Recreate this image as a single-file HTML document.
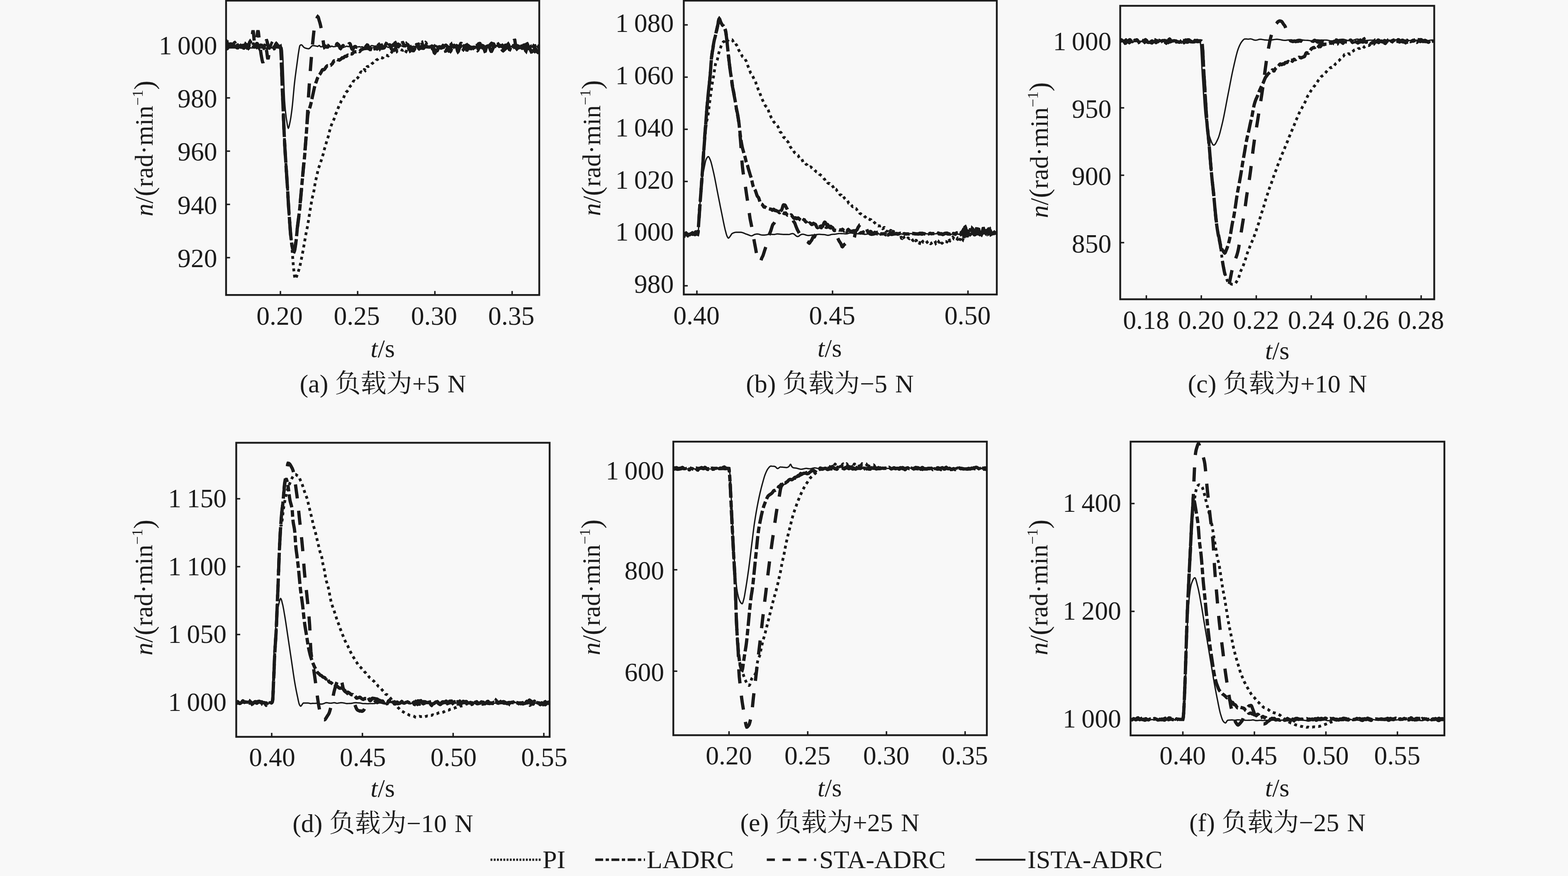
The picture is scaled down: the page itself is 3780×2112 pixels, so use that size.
<!DOCTYPE html><html><head><meta charset="utf-8"><title>fig</title><style>html,body{margin:0;padding:0;background:#f8f8f8;}svg{display:block;filter:blur(0.55px)}</style></head><body><svg width="3780" height="2112" viewBox="0 0 3780 2112" font-family='"Liberation Serif", serif' fill="#1b1b1b">
<rect width="3780" height="2112" fill="#f8f8f8"/>
<defs>
<clipPath id="cla"><rect x="545" y="1.5" width="755" height="709.7"/></clipPath>
<clipPath id="clb"><rect x="1648.4" y="1.5" width="754.5999999999999" height="708.5"/></clipPath>
<clipPath id="clc"><rect x="2700.5" y="14" width="757.0" height="707.5"/></clipPath>
<clipPath id="cld"><rect x="569.5" y="1067.5" width="755.5" height="709.0"/></clipPath>
<clipPath id="cle"><rect x="1623.2" y="1064.8" width="755.8" height="707.7"/></clipPath>
<clipPath id="clf"><rect x="2725.5" y="1064.8" width="756.5" height="708.2"/></clipPath>
<path id="caPI" d="M545,98.8l1-0.3 1,1.7 1,0.9 1-0.2 1-0.1 1,0.4 1,0.9 1,2.1 1,2.8 1,1.6 1-0.7 1-1.5 1,0 1,2 1,2.7 1,1.7 1,0 1-1.2 1-0.8 1,0.3 1,0.2 1-1.4 1-3 1-2.8 1-1.2 1,1.1 1,2.9 1,3.2 1,3 1,2.4 1,1.2 1-0.3 1-1.4 1-2.1 1-1.7 1-1.2 1-1 1-0.7 1,0.5 1,1.2 1,0.8 1-0.1 1-0.4 1-0.3 1,0.1 1,0.5 1,0.1 1-0.5 1-0.8 1,0.1 1,1.6 1,2.5 1,2.4 1,1.2 1-1 1-2.1 1-1.5 1-0.9 1-1 1-0.7 1-0.2 1,0 1-0.5 1-1.5 1-1.8 1-0.3 1,2.3 1,4 1,2.9 1-0.4 1-2.3 1-0.5 1,1.8 1,1.3 1-0.9 1-2 1-1.5 1-0.9 1-0.4 1,0.3 1,0.6 1,0.1 1-1.1 1-1.5 1-0.4 1,1.1 1,1.4 1,0.8 1,1.4 1,2.7 1,2.5 1-0.2 1-2.8 1-3 1-0.9 1,0.7 1,0.1 1-1.2 1-1.2 1-0.5 1-0.3 1,0 1,0.4 1,0.7 1,1 1,0.9 1,0 1-1.9 1-3.1 1-2.1 1,0.5 1,3 1,3.5 1,3.2 1,2.7 1,1.5 1-0.4 1-2.6 1-3.7 1-3.7 1-2.4 1,0 1,1.2 1,1.7 1,1.2 1,0 1-0.4 1,0 1,0.7 1,1.1 1,0.7 1,8.2 1,20.9 1,29 1,31.5 1,27.7 1,23.9 1,23.6 1,22.9 1,22 1,20.2 1,18.1 1,16.3 1,14.8 1,14 1,14.1 1,14.9 1,16.2 1,17.9 1,18.6 1,18.1 1,16 1,13.4 1,12 1,11.2 1,10.7 1,10.8 1,11 1,11.6 1,12.3 1,12.7 1,12.2 1,10.1 1,9.1 1,8.3 1,5.7 1,1.2 1-0.9 1-2.3 1-2.9 1-2.4 1-2.3 1-3 1-3.5 1-3.4 1-3.2 1-3.3 1-3.8 1-4.5 1-5 1-5 1-4.8 1-4.8 1-5.1 1-5.3 1-5.6 1-5.6 1-5.7 1-5.8 1-5.7 1-5.8 1-5.8 1-5.6 1-5 1-4.6 1-4.7 1-5.5 1-6.2 1-6.3 1-6.3 1-6.4 1-6.3 1-6.2 1-5.8 1-5.7 1-5.8 1-5.5 1-5 1-4 1-3.7 1-4.4 1-5.5 1-6.3 1-6.4 1-5.8 1-4.8 1-4.2 1-4.1 1-4.4 1-4.7 1-4.7 1-4.3 1-3.5 1-2.8 1-2.5 1-2.5 1-3 1-3.4 1-3.3 1-3.2 1-3.2 1-3.3 1-3.1 1-3 1-3.6 1-4.4 1-4.2 1-3.5 1-3.1 1-3.3 1-3.7 1-3.7 1-3.6 1-3.1 1-2.7 1-2.9 1-3.6 1-4.2 1-4.3 1-4.2 1-3.9 1-3.5 1-2.7 1-2.5 1-2.7 1-2.7 1-2.4 1-1.8 1-2 1-2.2 1-2.7 1-3.1 1-3.2 1-2.8 1-2.3 1-1.9 1-2.3 1-2.7 1-2.8 1-2.7 1-2.6 1-2.5 1-2.2 1-1.9 1-1.9 1-2.3 1-2.7 1-2.3 1-1.9 1-1.4 1-0.9 1-0.7 1-1.3 1-2.5 1-2.9 1-2.8 1-2.7 1-2.1 1-1.3 1-0.6 1-0.5 1-0.9 1-1.2 1-1.4 1-1.7 1-2.4 1-2.4 1-1.6 1-1.1 1-1.1 1-1.3 1-1 1-0.6 1-1.2 1-2.4 1-2.9 1-2 1-0.7 1,0 1,0.3 1,0.5 1-0.9 1-1.9 1-2 1-1.5 1-0.9 1-0.8 1-1.2 1-1.4 1-1.5 1-2 1-2.3 1-2.5 1-2.2 1-1.5 1-0.4 1,0.7 1,0.7 1,0 1-0.9 1-1.9 1-2.4 1-1.6 1,0.2 1,1.5 1,1.1 1-0.9 1-3 1-3.5 1-2.3 1-0.4 1,0.3 1-0.1 1-0.8 1-0.5 1,0.1 1,0.1 1-0.9 1-1.7 1-1.7 1-1.1 1-0.8 1-0.6 1-0.7 1-1 1-0.9 1-0.3 1,0.1 1-0.3 1-1 1-1.6 1-1.7 1-1 1-0.3 1-0.4 1-1 1-1.1 1-0.5 1-0.3 1-0.5 1-0.9 1-0.6 1,0 1,0.2 1,0.4 1,0.5 1,0.2 1-0.5 1-1.2 1-1.4 1-1.2 1-0.9 1-0.9 1-0.6 1-0.2 1,0.2 1,0.1 1,0.1 1,0.5 1,0.7 1,0.3 1-0.7 1-1.5 1-1.7 1-1.2 1-0.5 1-0.6 1-1.2 1-1.4 1-1.1 1-0.7 1-0.5 1-0.4 1,0 1,0.2 1,0.4 1,0.8 1,1 1,0.6 1-0.4 1-1 1-1.4 1-1.2 1-0.5 1,0.2 1,0.4 1-0.4 1-1.1 1-1.3 1-0.4 1,0.3 1,0.5 1,0.2 1,0.3 1,0.5 1,0.3 1-0.4 1-0.7 1-1.2 1-0.7 1,0.9 1,2.1 1,2.3 1,0.7 1-1.9 1-3.5 1-3.5 1-1.8 1,0.9 1,3.3 1,3 1-0.2 1-3.3 1-3.6 1-0.9 1,2.1 1,2.4 1,0.7 1-0.7 1-1 1,0.1 1,1.3 1,1 1-0.7 1-2 1-2.2 1-1.3 1,0 1,0.3 1-0.5 1-1.8 1-2.6 1-2 1-0.3 1,1.2 1,1.5 1,1.3 1,0.8 1,0.1 1-0.2 1,0.3 1,0.9 1,0.6 1-0.7 1-1.2 1-0.1 1,0.7 1-0.7 1-3 1-3.5 1-1.7 1,0.6 1,2.4 1,2.6 1,2 1,1.7 1,1.6 1,1.3 1,0.3 1-0.7 1-1.1 1-0.7 1,0.1 1,0 1-0.3 1-0.4 1-0.8 1-1.3 1-1.4 1-0.4 1,0.9 1,1.7 1,1.1 1-0.7 1-2.2 1-1.3 1,0.9 1,2.5 1,2.6 1,1.1 1-0.7 1-2 1-2.2 1-0.8 1,1.4 1,2.9 1,2.4 1,0.5 1-1.8 1-2.7 1-2.1 1-0.6 1,1.1 1,3 1,3.9 1,2.5 1,0.1 1-1.4 1-1.2 1-0.4 1,0.2 1,0.1 1-0.7 1-1.6 1-1.3 1,0.1 1,1 1,0.5 1-0.9 1-2.4 1-2.6 1-1.5 1-0.8 1-1.2 1-1.1 1-0.1 1,1.4 1,2.5 1,3.3 1,3.7 1,2.9 1,0.8 1-1.4 1-3 1-2.9 1-1.5 1,0.4 1,1.5 1,1.6 1,0.7 1-0.3 1-0.1 1,1.1 1,0.9 1-1.1 1-2.5 1-2.7 1-1.7 1-0.9 1-0.9 1-0.3 1,2 1,4.5 1,4.1 1,1.4 1-0.6 1-0.7 1,0.1 1,0.5 1-0.6 1-2.3 1-3.4 1-2.9 1,0.2 1,4 1,4.5 1,2.2 1,0.1 1-0.4 1-0.4 1-0.4 1-0.5 1,0.4 1,1.2 1-0.2 1-2.8 1-3.2 1-0.7 1,1.2 1,0.4 1-1.4 1-1.7 1-0.4 1,1 1,1.2 1,0.5 1,0.2 1,0.2 1-0.3 1-0.6 1,0 1,1.1 1,1.2 1,0.2 1-0.6 1-0.5 1-0.1 1-0.3 1-0.2 1,0.4 1,2 1,2.6 1,1.3 1-0.8 1-2.7 1-4.2 1-4.4 1-1.8 1,2.8 1,5.9 1,4.8 1,0.7 1-3.8 1-6 1-4.6 1-0.2 1,2.9 1,2.7 1,1.2 1,0.8 1,1 1,0.4 1-1.5 1-2.4 1-1.1 1,0.9 1,1.4 1,0.9 1,0.6 1,0.2 1-0.6 1-1.6 1-1.8 1-1.3 1-0.3 1,1.1 1,2 1,2 1,1.4 1,0.8 1,0.4 1,1 1,1.6 1,0.1 1-2.3 1-2.8 1-1.3 1,1 1,2.4 1,2.3 1,0.7 1-0.4 1-0.4 1,0.3 1,0.5 1,0.2 1,0.6 1,1.4 1,1.3 1,0.2 1-1 1-1.8 1-2.7 1-2.8 1-1.8 1-0.7 1,0.2 1,0.2 1-0.4 1-0.6 1,0.3 1,1.2 1,1.4 1,1.3 1,1.7 1,2.2 1,1.6 1,0.3 1-1.7 1-2.8 1-1.7 1,0.9 1,1.9 1,1.4 1,0.7 1,0.4 1-0.3 1-0.9 1-1.2 1-1 1-0.2 1,1 1,0.6 1-1.5 1-2.7 1-1.8 1-0.7 1-0.6 1-0.7 1-0.1 1,0.3 1,0.1 1-0.1 1,0.5 1,1.5 1,1.2 1-0.2 1-1.3 1-0.3 1,1.4 1,1.9 1,0.8 1-0.7 1-1.4 1-1.1 1-0.6 1,0.3 1,0.9 1,1 1,1.3 1,0.8 1-0.6 1-2.2 1-2.1 1-0.2 1,1.8 1,2 1,0.4 1-1 1-1.3 1-0.2 1,0.7 1,0.2 1-1.8 1-3.6"/>
<path id="caLADRC" d="M545,116.4l1,0.1 1,1 1-0.4 1-2 1-2 1-0.5 1,0.4 1,0.2 1-0.1 1-0.2 1-0.5 1-0.4 1,0.1 1,0.1 1-0.8 1-1.7 1-2.1 1-1.9 1-1.4 1-1.1 1-0.6 1,1.1 1,3.4 1,4.2 1,2.8 1,1 1,0.4 1-0.1 1-2 1-3.5 1-2.8 1-1.1 1-0.2 1-0.6 1-0.3 1,0.8 1,1.6 1,1.8 1,2.2 1,2.1 1,1.6 1,0.9 1,0.1 1-0.9 1-2.8 1-3.6 1-2.2 1,1 1,3.1 1,3.2 1,1.7 1-0.4 1-2 1-2.7 1-3 1-3.2 1-3 1-1.5 1,1.4 1,2.8 1,1.7 1,0.1 1,0.1 1,1.5 1,2.4 1,1.9 1,1.2 1,0.5 1-0.5 1-1.3 1-1.9 1-2 1-1.6 1-1.1 1,0.1 1,1.5 1,2.4 1,2.5 1,2.5 1,2.4 1,1.6 1-0.4 1-2.4 1-3 1-2.2 1-0.6 1,0.8 1,1 1,0.5 1,0.4 1,0.1 1-0.5 1-1.3 1-2.3 1-3.5 1-3.8 1-2.6 1-0.2 1,2.7 1,4.5 1,4.6 1,3.8 1,2.3 1,0.1 1-2.1 1-2.3 1-0.8 1,0.8 1,1 1-0.1 1-1 1-0.6 1,0.1 1,0.7 1,1.2 1,1.5 1,0.5 1-1.4 1-2.1 1-0.9 1,0.8 1,1 1,0.4 1-0.3 1-0.7 1-0.3 1-0.6 1-0.9 1-0.8 1,0 1,0.9 1,9.4 1,21.6 1,28.1 1,29.6 1,26.2 1,23.7 1,24.8 1,24.7 1,23 1,20.2 1,17.6 1,16.3 1,15.9 1,15.9 1,15.5 1,15.1 1,15 1,16.4 1,17.3 1,16.5 1,14.3 1,13.1 1,13.4 1,13.1 1,11.9 1,10 1,7.6 1,6.4 1,5.7 1,4.2 1,2.9 1,1.5 1,0.2 1-2.2 1-4.7 1-6.1 1-6.8 1-8.1 1-10 1-11 1-10 1-9 1-8.1 1-7.4 1-7.4 1-8.1 1-9 1-10.4 1-11.5 1-12.1 1-11.7 1-11.3 1-11 1-10.5 1-10.2 1-10.1 1-10 1-10.4 1-11.3 1-12.8 1-14 1-13.9 1-12.9 1-13.5 1-13.7 1-10.2 1-6.1 1-4.3 1-2.9 1-2.5 1-2.9 1-3.2 1-3.8 1-4.1 1-4.4 1-4.8 1-4.9 1-4.5 1-4.3 1-4.7 1-4.7 1-4.3 1-4 1-3.5 1-3 1-2.7 1-2.7 1-3 1-2.8 1-2.4 1-2 1-1.9 1-1.7 1-1.3 1-1.2 1-1.3 1-1.6 1-1.8 1-1.9 1-2.1 1-1.7 1-0.7 1,0.1 1,0.3 1-0.3 1-0.8 1-1.1 1-1.4 1-1.6 1-1.6 1-1.2 1-1 1-0.7 1-0.1 1,0 1-0.7 1-1 1-0.5 1,0.6 1,0.7 1-0.1 1-0.9 1-1.1 1-0.9 1-0.9 1-1.4 1-1.9 1-2.1 1-1.4 1-0.3 1,0.1 1-0.4 1-1.3 1-1.2 1-0.5 1,0.1 1,0.5 1,0.1 1,0 1,0.2 1,0.5 1,0.2 1-0.6 1-0.7 1-0.7 1-0.6 1-1 1-1.2 1-0.8 1,0 1,0.3 1-0.2 1-1 1-1.2 1-0.9 1-0.6 1-0.2 1,0.2 1,0.1 1-0.6 1-1.2 1-1 1-0.1 1,0.3 1,0 1-0.8 1-1.3 1-1 1-0.4 1,0.1 1,0.2 1,0.1 1-0.2 1-0.9 1-1.4 1-1.1 1-0.4 1-0.4 1-0.5 1-0.4 1-0.1 1,0.2 1,0.1 1-0.2 1-0.5 1-0.4 1-0.4 1-0.1 1,0.3 1,0.6 1,0.1 1-1 1-1.7 1-1.3 1-0.6 1-0.2 1-0.4 1-0.6 1-0.5 1-0.3 1-0.2 1-0.5 1-0.2 1-0.1 1,0.1 1,0.1 1-0.1 1-0.4 1-0.7 1-0.2 1,0.7 1,1 1,0 1-0.9 1-0.8 1,0.2 1,0.5 1,0.5 1,0 1-0.3 1,0.2 1,0.7 1,0.4 1-0.4 1-0.3 1,0.4 1,0.3 1-0.9 1-1.9 1-0.9 1,1 1,1.9 1,0.9 1-0.7 1-2 1-2.8 1-2.9 1-1.6 1,0.5 1,1.6 1,1.9 1,1.4 1,0.6 1,0.1 1,0.6 1,1 1,0.6 1-0.1 1-0.3 1-0.4 1-1.2 1-2.1 1-2.8 1-2.7 1-1.6 1,0.5 1,2.6 1,2.7 1,1.1 1-0.7 1-1.3 1-1.2 1-0.7 1,0.2 1,1.7 1,3.2 1,3.5 1,1.3 1-2.3 1-3.9 1-3 1-1.1 1,0.1 1-0.1 1-1.6 1-2.2 1-0.6 1,2 1,3.2 1,2 1-0.5 1-1.7 1-1.3 1-0.4 1,0.6 1,1.1 1,0.5 1-0.2 1,0.2 1,0.6 1,0.3 1-1.3 1-2.9 1-2.5 1-0.2 1,1.8 1,2.2 1,1.4 1,0.6 1,0.4 1,0.5 1,0.8 1,1 1,1 1,1 1,0.5 1-0.2 1-0.2 1,0.6 1,1.8 1,2.3 1,1.9 1,1.1 1,0.3 1-0.8 1-2.5 1-2.1 1,0.9 1,3.1 1,2.1 1,0 1-1.2 1-1.7 1-2.1 1-1.5 1-0.2 1,0.7 1,0.2 1-1.1 1-2.2 1-1.5 1,0.8 1,2.2 1,1.8 1,0.6 1-0.6 1-1.9 1-3.8 1-4.4 1-3.5 1-0.5 1,3.6 1,5.5 1,3.6 1,0.6 1-0.5 1-0.5 1-1.2 1-2 1-1.4 1,0.3 1,1.5 1,1.3 1,0.2 1-0.8 1-1.4 1-1.1 1,0 1,1 1,0.9 1-0.3 1-0.9 1,0.1 1,1.8 1,2.6 1,1.7 1-0.2 1-0.5 1,0.8 1,2 1,1.5 1,0.2 1-1 1-0.7 1,0.6 1,1.8 1,1.3 1-0.3 1-1.8 1-2.4 1-2.2 1-1.9 1-1.3 1,0 1,1.3 1,1.3 1,0.6 1-0.2 1-1 1-1.9 1-2.1 1-1.1 1,0.5 1,1.3 1,1.8 1,3.1 1,4.1 1,2.6 1-0.3 1-1.9 1-1.4 1-0.5 1-1.2 1-3 1-3.7 1-2 1,1 1,2.2 1,1.4 1,0.4 1,0.1 1-0.3 1-1.1 1-1.1 1-0.1 1,0.3 1-0.6 1-1.4 1-0.5 1,0.8 1,1.4 1,0.7 1-0.1 1,0 1,0.4 1,0.1 1-0.2 1-0.3 1-0.5 1-0.5 1-0.2 1,0.2 1,0.8 1,1.3 1,1.2 1,0.1 1-0.4 1,0.6 1,1.8 1,2 1,1 1-1.3 1-4.1 1-5.8 1-4.4 1-1.3 1,1.2 1,2 1,1.9 1,1 1,0.1 1,0.3 1,0.9 1,0.9 1,0.8 1,1.5 1,1.8 1,1.4 1,0.8 1,0.1 1-1 1-1.4 1-0.8 1-0.1 1,0.3 1,0.5 1,0.3 1-0.2 1-0.5 1,0.2 1,1.4 1,1.9 1,1.8 1,1.5 1,0.8 1-0.8 1-2.8 1-3.1 1-1.7 1,0 1,0.5 1,1 1,1.4 1,0.8 1-1.1 1-2.4 1-2.4 1-1.2 1,0.5 1,2.3 1,3.7 1,4.2 1,2.7 1-0.4 1-3.5 1-4 1-2.3 1-0.3 1,0.2 1,0.3 1,1.1 1,1.2 1-0.7 1-3.2 1-3.3 1-1.5 1-0.7 1-1.3 1-0.9 1,0.4 1,0.8 1,0.1 1-0.2 1,0.3 1,0.4 1,0 1-0.1 1,0.2 1-0.1 1-0.5 1,0.2 1,1.1 1,0.6 1-0.8 1-0.7 1,1.3 1,2.5 1,1.8 1-0.2 1-1.1 1-0.5 1,0.5 1,0.3 1-0.8 1-0.7 1,1 1,2.1 1,1.1 1-0.7 1-1.5 1-1.2 1-0.9 1-0.1 1,0.8 1,1 1,0.2 1-1 1-1 1,0.7 1,3 1,3.9 1,2.8 1,0.4 1-2.1 1-3.5 1-3.4 1-1.5 1,0.3 1,1.3 1,0.9 1-0.2 1-1 1-0.8 1,0.5 1,1.5 1,1.4 1,1 1,1.1 1,1.6 1,1.2 1-1 1-2.7 1-2.1 1,0.7 1,3.1 1,3.2 1,0.7 1-2.1 1-3 1-2.4 1-1.4 1-0.2 1,1.2 1,2.2 1,1.8 1,0.2 1-1.2 1-2.2 1-2.8 1-2.2 1-0.4 1,0.6 1-0.5 1-1.5 1-0.4 1,2 1,3.7 1,3.7 1,2.2 1,0.4 1-0.4 1,0.7 1,2.4 1,3 1,1.9 1-0.3 1-3 1-5 1-4.4 1-1.4 1,1.4 1,2.2 1,1.8 1,1.8 1,2 1,1 1-0.4 1-1 1-0.9 1-1 1-0.9 1,0.2 1,1.1 1,0.1"/>
<path id="caSTA" d="M545,110.2l1,0.4 1-1.7 1-2.6 1-1.6 1,0.8 1,2.6 1,2.5 1,0.5 1-1.7 1-2.3 1-1.2 1-0.1 1,0.3 1,0.7 1,1.3 1,1.8 1,2.1 1,2.5 1,2.3 1,1.5 1,0 1-1.6 1-3 1-3.1 1-2.2 1-1.4 1-0.4 1,0.2 1,0 1-0.5 1-0.5 1,0.2 1,1.4 1,2.5 1,2.4 1,0.8 1-1 1-1.5 1-0.8 1,0 1,0 1-0.3 1-0.4 1,0.1 1,0.7 1,0.4 1-0.3 1-0.6 1-0.6 1-0.4 1-0.4 1,0.3 1,0.7 1,0.3 1,0.6 1,0.8 1,0.5 1,0.3 1,0.2 1-2 1-4.8 1-5.7 1-9.2 1-11.4 1-5.4 1,5.3 1,11.1 1,11.7 1,6.4 1,0.5 1-1.9 1-3.2 1-3.1 1-5.8 1-9 1-8.3 1-3.5 1,4.3 1,9.2 1,10.2 1,8.6 1,7.3 1,8 1,7.5 1,6.1 1,5.3 1,5.2 1,4.3 1,1.9 1-3.7 1-8.5 1-8.6 1-4.9 1-1.9 1-1.8 1-1.5 1-0.3 1,4 1,7.9 1,7.4 1,3.2 1-3.3 1-7.6 1-8.1 1-4.9 1-1.9 1-2 1-2.3 1-1.8 1-0.8 1-0.3 1-0.5 1-1 1-0.1 1,1.6 1,2 1,0.1 1-1.5 1-2.2 1-2 1-1.1 1,1 1,1.6 1,1.4 1,1 1,0.5 1,1.1 1,1.5 1,1.4 1,0.3 1-1.1 1,6.2 1,19 1,27.1 1,29.9 1,27 1,24.6 1,25.6 1,25 1,23.4 1,20.7 1,18.2 1,16.5 1,15.3 1,14.6 1,14.5 1,14.9 1,15.8 1,17.3 1,17.6 1,16.5 1,14.2 1,13.4 1,14.1 1,13.9 1,12.7 1,10 1,6.4 1,4.2 1,3.8 1,4.1 1,3.7 1,2.6 1,0.4 1-2.6 1-5.7 1-7.4 1-8.3 1-9 1-9.5 1-8.9 1-7.6 1-6.9 1-7.2 1-7.9 1-8.9 1-10 1-10.4 1-10.8 1-10.8 1-10.4 1-10.1 1-10.5 1-11.4 1-11.9 1-12.1 1-11.6 1-11 1-10.5 1-10.7 1-11.7 1-12 1-12 1-12.7 1-16 1-19 1-18.9 1-17.5 1-16.7 1-15.3 1-14 1-13.7 1-13.6 1-12.9 1-12.4 1-11.9 1-11.8 1-11.2 1-10.1 1-9.6 1-9.9 1-8.9 1-7.3 1-5.8 1-4.5 1-3.3 1-2.7 1-2.4 1-2.8 1-2.7 1-1.3 1,1 1,2.9 1,3.8 1,3.4 1,3.2 1,3.6 1,4.4 1,5 1,6 1,6.7 1,6.5 1,5.6 1,6 1,7.2 1,6.2 1,2.4 1-0.8 1-1.2 1-0.5 1,0.9 1,0.9 1,0.1 1,0 1,0 1-1 1-2 1-2.4 1-1.4 1,0.3 1,1.9 1,2.5 1,2 1,0.1 1-0.9 1,0.6 1,2.6 1,2.6 1,0.5 1-1.5 1-2 1-0.9 1,0 1-0.7 1-2.2 1-3.2 1-2.5 1-0.6 1,0.7 1,0.9 1,0.9 1,1.2 1,2.4 1,3 1,2.3 1,0.6 1-1.1 1-1.9 1-1.5 1-1 1-1.2 1-0.6 1,0.7 1,1.4 1-0.1 1-1.6 1-0.3 1,2.6 1,4.2 1,3.3 1,0.5 1-2.5 1-3.8 1-3.5 1-2.8 1-1.9 1-0.9 1-0.2 1,0.8 1,2.3 1,3.5 1,3.2 1,2.4 1,1.4 1,0.4 1-0.5 1-1.6 1-2.3 1-1.6 1-0.7 1-0.3 1,0.2 1,0.8 1,0.8 1,0.2 1-0.3 1-0.2 1,0.5 1,1.4 1,1.3 1-0.1 1-1.6 1-2.2 1-1.7 1-0.9 1-0.1 1,0.9 1,1.7 1,1.7 1,1 1,1.1 1,2.1 1,1.9 1-0.6 1-3 1-3.2 1-1.9 1-1.1 1-1.3 1-1 1,0.2 1,1.3 1,2.1 1,2.5 1,2.1 1,1.6 1,1.3 1,0 1-2.5 1-4.5 1-3.3 1-0.4 1,1.3 1,1.1 1,0.9 1,1.6 1,1.2 1-0.7 1-1.5 1-0.1 1,2.2 1,2.5 1,0.5 1-1.5 1-2.1 1-2.7 1-2.8 1-0.8 1,2.6 1,4.2 1,2.2 1-1.5 1-3.3 1-2.5 1-0.5 1,1.7 1,3.4 1,4 1,2.4 1-0.4 1-2.5 1-2.4 1-0.9 1,0.5 1,0.5 1-0.4 1-0.8 1-0.4 1,0.6 1,1.6 1,1.2 1-0.7 1-2.6 1-2.4 1-0.6 1,1.4 1,2.3 1,1.9 1,1.5 1,1.5 1,0.9 1-0.1 1-0.1 1,0.7 1,0.4 1-1 1-1.8 1-1.1 1-0.7 1-1.5 1-2.4 1-1.9 1-0.7 1,0.3 1,0.5 1,0.5 1,0.9 1,1.5 1,0.7 1-1.3 1-2 1-1 1,0.2 1,0.7 1,1.2 1,1.3 1,1 1,1.3 1,1.5 1-0.4 1-3.5 1-4.8 1-3.4 1-0.7 1,1.2 1,1.4 1,0.4 1-0.1 1,1.1 1,2.3 1,2.7 1,3.1 1,3.5 1,2.5 1-0.7 1-4.3 1-5.4 1-3.2 1,0.6 1,3 1,3.1 1,2.4 1,2.1 1,1.3 1-0.7 1-3.2 1-4.4 1-3.8 1-2 1-0.2 1,0.9 1,2 1,3.2 1,3 1,0.9 1-1.2 1-1.5 1-0.2 1,0.9 1,0.9 1-0.2 1-0.9 1-0.5 1,0.7 1,1.1 1-0.1 1-1.7 1-2 1-0.7 1,0.8 1,1.9 1,2.3 1,2.3 1,1.7 1,0.8 1,0.4 1,0.4 1,0.7 1,1.2 1,0.7 1-1.3 1-3.4 1-3.8 1-2.7 1-1.5 1-0.9 1-0.2 1,1.5 1,3.5 1,4.4 1,4 1,2.6 1,0.7 1-1.2 1-2.5 1-3.4 1-3.3 1-1.7 1,0.5 1,0.8 1-0.8 1-2.4 1-2.8 1-2.3 1-0.5 1,1.8 1,3 1,1.4 1-0.9 1-0.9 1,0.3 1,0.2 1-1 1-1.1 1-0.2 1,0.1 1-0.5 1-0.8 1-0.7 1-0.3 1,0.6 1,1.2 1,1.8 1,2.5 1,3.4 1,3.1 1,1.2 1-0.6 1-0.4 1,1.1 1,1 1-1.3 1-3.3 1-3.1 1-1.7 1-0.8 1,0 1,1.3 1,2.6 1,2.2 1-0.2 1-3.1 1-4.5 1-2.7 1,0.8 1,4 1,5.1 1,4 1,1.8 1-1.1 1-3.1 1-3.6 1-3.6 1-3.7 1-3.3 1-1.8 1,0 1,1.7 1,4.1 1,6.1 1,5.6 1,1.8 1-2.6 1-3.8 1-2.8 1-2 1-0.7 1,1.8 1,3.8 1,2.8 1,0.1 1-2.5 1-3.8 1-2.6 1-0.3 1,1.2 1,1.6 1,1.4 1,0.7 1-0.6 1-2.4 1-3 1-1.5 1,0.8 1,2.8 1,2.9 1,0.7 1-2.2 1-2.6 1,0 1,3 1,3.8 1,1.8 1-1.5 1-3.7 1-3.9 1-2.8 1-1.7 1-0.9 1-0.2 1-0.4 1,0.2 1,1.8 1,3 1,2.6 1,1.5 1,0.7 1,0.1 1,0.5 1,2 1,3 1,1.7 1-1.1 1-3.6 1-4.3 1-3.1 1-1.5 1,0.1 1,0.9 1-0.2 1-1.3 1-0.6 1,1.5 1,2.7 1,2.8 1,2.6 1,2.8 1,2.6 1,1.6 1,0 1-1.7 1-2.4 1-2.2 1-1.9 1-2.2 1-2.4 1-1.3 1,1.9 1,4.1 1,2.9 1,0 1-2.1 1-2.8 1-2.2 1-0.3 1,1.8 1,2.6 1,1.6 1-0.3 1-1.3 1-0.8 1,0.8 1,1.8 1,1.3 1,0.8 1,1.2 1,1.4 1,0.5 1-0.7 1-1.2 1-0.7 1-1 1-2.2 1-2.6 1-1.1 1,0.6 1-0.3 1-2.8 1-3.3 1-1.1 1,1.7 1,2.6 1,2.3 1,1.1 1-0.3 1-1.4 1-1.3 1-0.8 1-0.8 1,0.1 1,1.9 1,1 1-3.9 1-7.9 1-5.6 1,1.5 1,6.9 1,6.8 1,3.8 1,1.4 1,0.4 1-0.8 1-2.7 1-3.7 1-2.7 1-0.3 1,2.6 1,4.1 1,4 1,2.6 1,0.8 1-0.4 1-0.8 1-0.6 1-0.6 1-1.7 1-3.5 1-3.2 1-0.2 1,3.5 1,5.5 1,4.6 1,1.1 1-3.4 1-6.3 1-5.6 1-2.9 1-0.8 1,0.6 1,1.9 1,2.4 1,1.7 1,1.8 1,2.9 1,2.6 1-0.2 1-2.6 1-1.8 1,0.8 1,2.4 1,2.5 1,2.2 1,1.9 1,0.8 1-1.1 1-2.5 1-1.3 1,1.4 1,2.5 1,1.9 1,0.9 1,0.7 1-0.3 1-2 1-3"/>
<path id="caISTA" d="M545,115.5l1,0 1,0 1,0 1,0 1,0 1,0 1,0 1,0 1,0 1,0 1,0 1,0 1,0 1,0 1,0 1,0 1,0 1,0 1,0 1,0 1,0 1,0 1,0 1,0 1,0 1,0 1,0 1,0 1,0 1,0 1,0 1,0 1,0 1,0 1,0 1,0 1,0 1,0 1,0 1,0 1,0 1,0 1,0 1,0 1,0 1,0 1,0 1,0 1,0 1,0 1,0 1,0 1,0 1,0 1,0 1,0 1,0 1,0 1,0 1,0 1,0 1,0 1,0 1,0 1,0 1,0 1,0 1,0 1,0 1,0 1,0 1,0 1,0 1,0 1,0 1,0 1,0 1,0 1,0 1,0 1,0 1,0 1,0 1,0 1,0 1,0 1,0 1,0 1,0 1,0 1,0 1,0 1,0 1,0 1,0 1,0 1,0 1,0 1,0 1,0 1,0 1,0 1,0 1,0 1,0 1,0 1,0 1,0 1,0 1,0 1,0 1,0 1,0 1,0 1,0 1,0 1,0 1,0 1,0 1,0 1,0 1,0 1,0 1,0 1,0 1,0 1,0 1,0 1,0 1,0 1,0 1,0 1,0 1,0 1,0 1,7 1,18.2 1,25.3 1,28.1 1,26.9 1,21.6 1,13.3 1,10.5 1,9.1 1,7.8 1,6.7 1,6.4 1,6.2 1,4.6 1,1.8 1-1.3 1-3.4 1-4.6 1-4.7 1-5 1-6 1-6.8 1-7.4 1-7.8 1-8.9 1-10.4 1-11.1 1-11.2 1-10.8 1-9.6 1-8.6 1-8 1-7.7 1-7.4 1-7.3 1-7.3 1-7.4 1-7.6 1-7.3 1-6.4 1-6.2 1-5.7 1-3.1 1-1 1-0.7 1-0.3 1,0.3 1,0.6 1,1 1,1.2 1,1.2 1,1.2 1,0.9 1,0.6 1,0.4 1,0.4 1,0.3 1,0.4 1,0.2 1,0.3 1,0.2 1,0.2 1,0.1 1,0 1-0.2 1-0.6 1-0.8 1-1 1-1.1 1-1.2 1-1 1-0.8 1-0.6 1-0.2 1,0 1,0.1 1,0.1 1,0.1 1,0.2 1,0.2 1,0.2 1,0.2 1,0.2 1,0.1 1,0.4 1,0.1 1-0.5 1-0.9 1-0.7 1,0 1,1 1,1.1 1,0.8 1,0.3 1-0.1 1-0.6 1-0.7 1-0.7 1-0.6 1-0.3 1,0.2 1,0.2 1,0.3 1,0.5 1,0.9 1,0.5 1-0.1 1-0.6 1-0.5 1-0.1 1,0.2 1,0.2 1,0.2 1,0.2 1,0.3 1,0.4 1,0.1 1-0.7 1-0.8 1-0.2 1,0.4 1,0.6 1,0.3 1,0.1 1,0 1-0.2 1-0.1 1,0 1-0.3 1-0.5 1-0.3 1,0.1 1,0.3 1,0.2 1-0.2 1-0.3 1,0.1 1,0.5 1,0.5 1,0.1 1-0.1 1-0.1 1-0.2 1-0.1 1-0.1 1,0.2 1,0.5 1,0.5 1,0.2 1-0.2 1-0.1 1-0.1 1-0.4 1-0.5 1-0.5 1-0.2 1,0.2 1,0.5 1,0.4 1,0 1-0.4 1-0.2 1,0.1 1,0.1 1-0.2 1-0.1 1,0.1 1,0.4 1,0.4 1,0.3 1-0.2 1-0.5 1-0.2 1,0.5 1,0.6 1,0.4 1,0.1 1,0.1 1,0 1-0.2 1-0.3 1-0.1 1,0 1,0 1-0.4 1-0.3 1,0.3 1,0.6 1,0.3 1-0.1 1-0.4 1-0.2 1-0.1 1,0.3 1,0.7 1,0.5 1,0.1 1,0 1,0.1 1,0.4 1,0 1-0.5 1-1 1-1 1-0.7 1-0.1 1,1 1,1.2 1,0.6 1-0.1 1-0.7 1-0.8 1-0.9 1-0.9 1-0.7 1-0.3 1-0.1 1,0.2 1,0.3 1,0.4 1,0.1 1,0.1 1,0.2 1,0.5 1,0.6 1,0.5 1,0.3 1,0 1-0.1 1-0.2 1-0.2 1-0.1 1,0.2 1,0.4 1,0.1 1,0 1-0.1 1,0.3 1,0.2 1,0 1-0.4 1-0.7 1-0.5 1-0.3 1-0.2 1-0.1 1,0 1,0.3 1,0.4 1,0.3 1,0.3 1-0.1 1,0 1,0.5 1,1 1,0.3 1-0.6 1-0.9 1-0.6 1,0.1 1,0.4 1,0.4 1,0.1 1,0.1 1-0.2 1-0.3 1-0.6 1-0.7 1-0.2 1,0.3 1,0.6 1,0.3 1-0.1 1-0.3 1-0.3 1-0.2 1-0.3 1-0.2 1-0.1 1,0 1,0.3 1,0.4 1,0.3 1-0.2 1-0.5 1-0.7 1-0.3 1,0 1,0.4 1,0.6 1,0.8 1,0.5 1,0.1 1,0 1,0.1 1,0 1-0.3 1-0.6 1-0.7 1-0.2 1,0.5 1,0.8 1,0.7 1-0.1 1-0.6 1-0.7 1-0.5 1-0.3 1,0.1 1,0.4 1,0.5 1,0.4 1,0.2 1-0.1 1-0.4 1-0.4 1,0.1 1,0.3 1,0.2 1,0 1-0.3 1-0.7 1-0.9 1-0.6 1,0.2 1,0.8 1,1 1,0.7 1,0.3 1,0.1 1,0.2 1,0.2 1-0.2 1-0.4 1-0.5 1-0.1 1-0.2 1-0.3 1-0.4 1-0.1 1,0.2 1,0.2 1,0.1 1,0.2 1,0.6 1,0.5 1,0.2 1-0.2 1-0.7 1-0.8 1-0.7 1-0.1 1,0.7 1,1.1 1,0.6 1-0.2 1-0.8 1-0.6 1,0 1,0.3 1,0.4 1,0 1-0.1 1,0 1,0.1 1,0 1-0.3 1-0.6 1-0.8 1-0.6 1,0 1,0.6 1,1 1,1 1,1 1,0.5 1-0.1 1-0.6 1-0.3 1,0 1,0.1 1-0.4 1-0.9 1-0.8 1-0.1 1,0.8 1,1.2 1,1 1,0.2 1-0.5 1-0.9 1-0.4 1-0.1 1-0.1 1-0.5 1-0.2 1,0.1 1,0.4 1,0.2 1,0.1 1,0 1,0.1 1,0 1-0.6 1-1 1-0.7 1,0 1,0.8 1,0.9 1,0.5 1-0.2 1-0.5 1-0.5 1,0 1,0.1 1,0 1,0 1,0 1-0.1 1-0.4 1-0.1 1,0.4 1,0.7 1,0.7 1,0.7 1,0.7 1,0.4 1-0.3 1-1 1-1 1-0.6 1-0.2 1-0.1 1,0 1,0.2 1,0.4 1,0.3 1,0 1-0.2 1,0.3 1,0.6 1,0.1 1-0.8 1-0.7 1,0.1 1,0.9 1,0.5 1-0.2 1-0.6 1-0.5 1-0.4 1-0.2 1,0.1 1,0.3 1,0.4 1,0.5 1,0.7 1,0.7 1,0.2 1-0.5 1-1 1-0.6 1,0.1 1,0.3 1,0.2 1,0 1,0.1 1,0.3 1,0.6 1,0.4 1-0.1 1-0.1 1-0.1 1,0 1-0.1 1-0.2 1-0.1 1-0.1 1-0.2 1-0.3 1-0.5 1-0.5 1-0.7 1-0.4 1,0.2 1,0.6 1,0.4 1,0 1-0.2 1,0 1,0.3 1,0.2 1,0 1-0.2 1,0 1,0.4 1,0.4 1,0 1-0.4 1-0.4 1-0.2 1-0.2 1,0 1,0.3 1,0.5 1,0.3 1-0.1 1-0.5 1-0.3 1,0.3 1,0.5 1,0.5 1,0.1 1-0.1 1-0.3 1-0.4 1-0.2 1,0 1,0.1 1,0.3 1,0.1 1-0.2 1-0.3 1,0.1 1,0.8 1,0.7 1,0 1-0.1 1,0.1 1,0.6 1,0.3 1-0.5 1-1.1 1-1.1 1-0.6 1-0.3 1-0.3 1-0.1 1,0.5 1,1.1 1,1.2 1,0.7 1,0.1 1-0.4 1-0.4 1,0 1,0.2 1,0 1-0.3 1-0.2 1-0.2 1-0.4 1-0.4 1-0.4 1,0 1,0.1 1,0.4 1,0.6 1,0.4 1,0.1 1-0.2 1-0.2 1-0.4 1-0.4 1-0.3 1,0.2 1,0.6 1,0.6 1,0.2 1-0.4 1-0.7 1-0.1 1,0.6 1,0.7 1,0.2 1-0.3 1-0.2 1,0.1 1,0.1 1-0.1 1-0.4 1-0.1 1,0.3 1,0.5 1,0.3 1,0.2 1,0.4 1,0.2 1-0.4 1-1.1 1-1.5 1-1.1 1-0.2 1,0.6 1,1 1,0.7 1,0.4 1,0.1 1,0 1-0.1 1-0.3 1-0.4 1-0.3 1,0.1 1,0.4 1,0.3 1-0.1 1-0.4 1,0 1,0.3 1,0.2 1-0.1 1-0.2 1,0 1,0.3 1,0.2 1,0.2 1,0.3 1,0 1-0.4 1-0.7 1-0.1 1,0.6 1,0.9"/>
<path id="cbPI" d="M1648,563.2l1,4.6 1,0.8 1-3.1 1-3.5 1-1.3 1,1 1,2.3 1,1.6 1,0.3 1-1 1-2.1 1-1.2 1,1.6 1,2.2 1,0.7 1-1.1 1-1.6 1-0.5 1,0.8 1,1.1 1,0.7 1-0.7 1-1.8 1-1.5 1,0.3 1,0.5 1,0.2 1,0.6 1,1.5 1,1.1 1,0.2 1-0.5 1-0.9 1-1.1 1-5.1 1-12.1 1-16.2 1-16.8 1-13.9 1-11.9 1-13.3 1-14.5 1-14 1-13 1-12.7 1-14.5 1-15.8 1-15.4 1-14.1 1-13.2 1-12.3 1-11.4 1-10.2 1-8.7 1-7.5 1-6.1 1-4.3 1-4.1 1-5.9 1-7.6 1-8 1-7.8 1-8 1-7.9 1-7.5 1-7.1 1-7.2 1-7.3 1-6.6 1-5.8 1-5.4 1-5.1 1-5.8 1-7.2 1-7.1 1-6.2 1-4.9 1-3.1 1-1.3 1-1.5 1-3 1-4.3 1-5.1 1-4.4 1-3.7 1-3.3 1-3 1-2.6 1-3.2 1-3.4 1-2.6 1-1.7 1-1.7 1-2 1-2.1 1-1.2 1-0.3 1,1 1,2 1,1 1-0.8 1-1.5 1-1.6 1-1.9 1-1.6 1-0.5 1,0.3 1-0.3 1-0.8 1,0.2 1,0.4 1-0.4 1-0.6 1,0 1,0.6 1,0.2 1-0.1 1,1.1 1,2.1 1,2.1 1,1.9 1,1 1-0.2 1-0.7 1,0.7 1,2.1 1,1.9 1,1.2 1,1.1 1,1.7 1,2.6 1,3.3 1,2.9 1,1.9 1,1.3 1,1.5 1,1.7 1,1.5 1,1.7 1,2.3 1,2.3 1,1.7 1,0.7 1,0.5 1,0.8 1,0.6 1,0.7 1,1.7 1,2.4 1,1.8 1,1.5 1,2.2 1,2.9 1,3.4 1,3.2 1,2.4 1,2.3 1,2.5 1,2.5 1,2.8 1,3 1,2 1,0.8 1,1.1 1,2.1 1,2.2 1,1.8 1,2.1 1,2.2 1,2.3 1,2 1,1.2 1,1.4 1,3 1,4.1 1,3.3 1,2.1 1,2 1,2.8 1,3.1 1,1.9 1,1.2 1,2.5 1,3.2 1,2.9 1,2.7 1,2.4 1,2.4 1,2.7 1,2.6 1,2.1 1,1.7 1,2 1,2.4 1,2.3 1,1.9 1,1.8 1,1.3 1,0.6 1,0.6 1,1.1 1,1.7 1,2.2 1,2.4 1,3.4 1,3.3 1,2.1 1,1.4 1,2.4 1,3.1 1,2.5 1,1.4 1,1.4 1,1.7 1,1.8 1,1.9 1,2 1,1.5 1,0.8 1,1.1 1,1.1 1,1 1,1.1 1,1.1 1,0.9 1,1.3 1,1.6 1,2 1,2.2 1,2.8 1,3.1 1,2.4 1,1.1 1,0.6 1,1 1,1.7 1,2.4 1,2 1,1.4 1,1.7 1,1.9 1,0.9 1,0.1 1,0 1,0.9 1,1.8 1,2.2 1,2 1,1.1 1,0.5 1,0.9 1,1.3 1,1.5 1,2.1 1,2.6 1,2.6 1,2.2 1,1.5 1,1.1 1,1.4 1,1.4 1,0.7 1,0.1 1,1 1,2 1,2.4 1,2 1,1.1 1,0.5 1,0.8 1,1.3 1,1.1 1,0.9 1,0.8 1,0.3 1,0.5 1,2.1 1,2.4 1,1.6 1,0.9 1,1 1,0.8 1,0 1-0.3 1,0.9 1,2 1,2.3 1,2.6 1,1.5 1-0.2 1-0.2 1,0.3 1,0.5 1,1.3 1,1.8 1,0.8 1,0.3 1,1 1,1.9 1,1.2 1-0.2 1,0 1,1.2 1,1 1-0.4 1-0.5 1,0.4 1,1.1 1,1.4 1,1 1,0.9 1,0.7 1,0.1 1,0.1 1,1.2 1,1.4 1,0.8 1,0.8 1,1.3 1,0.9 1,0.5 1,0.4 1,0.4 1,0.3 1,0.7 1,1.8 1,1.7 1,0.6 1,0.2 1,0.8 1,1 1,0.5 1,0.8 1,1.6 1,1.3 1,0.8 1,1.3 1,1.4 1,0.9 1,1 1,2.1 1,2.6 1,1.5 1-0.4 1-0.3 1,1.2 1,1.6 1,0.9 1,0.8 1,0.3 1-0.4 1,0.1 1,1.2 1,1.3 1,0.4 1,0.3 1,0.9 1,1.3 1,1 1,1.2 1,2 1,2.7 1,2.1 1,0.4 1-1 1-0.5 1,0.4 1,0.9 1,1.7 1,2 1,1.5 1,0.6 1,0.2 1,0.8 1,1.8 1,2.3 1,1.7 1,0.6 1-0.2 1,0.3 1,1.8 1,1.4 1-0.8 1-0.8 1,0.9 1,2.1 1,1.8 1,1.4 1,1.5 1,1.1 1,0.9 1,0.6 1,0 1,0.1 1,0.8 1,2 1,3 1,2.3 1,0.3 1-0.7 1,0.7 1,1.7 1,1.1 1,0.4 1,1.2 1,1.6 1,1.4 1,0.5 1-0.2 1,0 1-0.1 1,0.6 1,1.9 1,1.8 1,0.3 1,0.3 1,1.5 1,1.7 1,1.7 1,1.8 1,0.4 1-0.4 1,0.8 1,2.2 1,1.8 1,0.5 1,0.3 1,0.8 1,0.8 1,0.9 1,0.4 1-0.4 1-0.1 1,0.9 1,1.7 1,1.3 1,0.4 1,0.7 1,1.6 1,1.3 1,0.7 1,0.7 1,0.9 1,0.4 1-0.6 1-0.5 1,0.5 1,1 1,0.7 1,0 1,0 1,0.8 1,1.8 1,1.6 1,0.1 1-0.5 1,0.1 1,0.8 1,1.2 1,1.2 1,1.1 1,0.7 1,1.1 1,1.5 1,0.9 1,0.6 1,0.7 1,1.1 1,0.5 1-0.3 1-0.1 1,0.3 1,0.1 1,0.1 1-0.2 1-0.3 1,0.2 1,2.3 1,3.1 1,1.5 1-0.3 1-1.4 1-1.3 1-0.1 1,1.4 1,2.6 1,3.1 1,2 1,0.4 1-0.5 1,0.3 1,2.5 1,2.7 1-0.9 1-2.4 1-1.4 1-0.1 1-0.8 1-1.8 1,0.2 1,3.4 1,3.1 1-0.5 1-2.3 1-1.4 1,0 1,1.2 1,1.2 1,0 1-0.8 1-0.3 1,0.4 1,1.4 1,2 1,0.8 1-0.3 1,0.4 1,1.6 1,1 1-0.4 1-0.8 1-0.3 1,1.5 1,3.9 1,3.9 1,0.5 1-2.2 1-2.6 1-1.6 1,0.8 1,2.8 1,2.7 1,1.4 1-0.4 1-0.8 1-0.1 1,0.6 1,0.5 1-0.2 1-1.2 1-0.9 1,0.3 1,1 1,0.5 1-1.2 1-1.5 1,0.1 1,1.1 1,1 1,0.8 1,1.5 1,1.7 1,0.8 1-1.1 1-2.4 1-1.1 1,1.6 1,2.6 1,0.8 1-0.8 1,0.2 1,2 1,2 1,0.1 1-1 1-0.1 1,1.5 1,2.3 1,0.4 1-3.2 1-4.3 1-2 1,0.6 1,0.9 1,1.3 1,1.5 1,1.4 1,1.4 1,0.1 1-0.7 1-0.4 1-0.4 1-1 1-1.3 1,0.1 1,2 1,1.2 1-0.9 1-1.4 1-0.7 1,0.8 1,1.8 1,1.8 1,1.5 1,0.8 1-0.2 1-1 1-0.9 1-0.3 1-0.6 1-1.3 1-1.1 1-0.6 1-0.8 1-0.6 1,0.9 1,3.2 1,2.4 1-1.1 1-2.1 1-2 1-1.6 1,0.3 1,1.5 1,1.3 1,0.8 1-0.8 1-2.6 1-1 1,2.3 1,2.8 1,1.3 1,0.4 1-0.7 1-2 1-1.4 1,0.5 1,1 1-0.2 1-0.9 1-0.4 1,0 1,0.3 1,0.5 1,0.3 1-1.4 1-3.1 1-3.3 1-0.8 1,2 1,2.8 1,1 1-1.4 1-1.4 1-0.9 1-1.1 1-1.1 1-1.6 1-1.2 1,0.8 1,2.2 1,1.4 1-0.1 1-0.1 1,0.7 1,1.2 1,1.3 1,0.7 1-1.5 1-2.9 1-1.7 1,0.4 1,2.1 1,2.5 1,2 1-3.3 1-7.8 1-6.4 1,3.5 1,6.9 1,2.3 1,1 1,1.1 1-2.9 1-4.3 1-4.8 1-0.2 1,7.2 1-6.7 1,4.1 1-4.2 1-2 1,4.8 1,2.3 1-2.9 1-2.3 1,2.5 1,0.5 1-5.8 1-8.4 1-4.2 1,4.1 1,9.5 1-0.9 1-1 1-1.2 1,0.8 1,3 1-4.4 1-2.4 1-1.1 1,6.1 1-4.5 1-3.1 1,5.9 1,1.2 1-3.9 1,2.8 1,1.6 1-7.3 1-4 1,0.3 1,5 1,4.6 1-1.5 1-3.1 1,1.8 1,4.1 1,3 1-1.4 1-2.2 1-3.3 1-1.5 1,3.3 1,2.8 1-4.6 1,3 1,1 1-5.9 1-1.4 1,6.1 1,3.4 1-3.6 1,3 1-8.4 1-7.1 1,1.5 1,2.4 1-1.5 1,1.7 1,7.4 1,3.7 1-2.1 1,2.9 1-1.6 1-1.1 1-2 1-0.5 1,2.5 1,1.7 1,0.3 1,0.5 1-5 1-1.9 1,4.7"/>
<path id="cbLADRC" d="M1648,561.4l1,0.9 1,1.8 1,0.9 1-0.9 1-1.5 1-0.8 1,0.8 1,2.3 1,2.4 1,0.8 1-1.1 1-1.5 1-0.4 1,0.4 1,0.1 1-0.7 1-1 1-0.6 1-0.3 1-0.7 1-0.9 1-0.7 1,0 1,1.1 1,1.9 1,1.3 1,0.7 1-0.1 1-0.8 1-0.9 1-0.7 1-0.4 1-0.3 1-0.7 1-5.6 1-12.7 1-16.2 1-16.3 1-13.7 1-11.9 1-12.8 1-13.6 1-13.9 1-13.8 1-13.8 1-14.6 1-15.1 1-14.9 1-14.4 1-13.8 1-13.3 1-13.7 1-14.2 1-14 1-13.4 1-12.5 1-11.8 1-11.2 1-10.8 1-10.1 1-9.1 1-8.6 1-9.1 1-10.6 1-13.6 1-14.8 1-11.6 1-8.3 1-7.6 1-6.9 1-6.4 1-6.1 1-5.6 1-4.8 1-4 1-3.6 1-4 1-4.4 1-4.4 1-4.5 1-4.8 1-5.2 1-5.8 1-5.5 1-4.1 1-1.5 1,1.3 1,2.8 1,3 1,2.5 1,1.8 1,1.7 1,1.8 1,1.3 1,0.7 1,0.6 1,1.3 1,1.8 1,2.1 1,2.5 1,3.1 1,5.1 1,7.4 1,8.9 1,9.7 1,10.1 1,9.8 1,9.6 1,9.3 1,8.4 1,7.8 1,7.9 1,7.5 1,6.5 1,5.9 1,6.6 1,7.6 1,7.4 1,6.3 1,5.4 1,5.2 1,5.4 1,5.4 1,5.2 1,5.6 1,6.3 1,6.6 1,6.1 1,5.4 1,5.1 1,5 1,5.3 1,6.7 1,8.5 1,9.5 1,9.1 1,8 1,6.9 1,6.1 1,5.9 1,5.2 1,4.4 1,3.8 1,3.6 1,3.5 1,3.5 1,3.3 1,3.3 1,4 1,4.6 1,4.3 1,3.1 1,2.3 1,2.5 1,3.4 1,3.8 1,3.6 1,3.2 1,3.4 1,3.5 1,3.1 1,2.9 1,3 1,4 1,4.7 1,4.8 1,4.2 1,3.2 1,2.4 1,2.1 1,1.7 1,1.6 1,2 1,2.7 1,3.1 1,3.1 1,2.9 1,2 1,1.1 1,1 1,1.8 1,2.7 1,3.3 1,3.1 1,2.6 1,1.7 1,0.8 1,0.5 1,0.7 1,0.9 1,1.4 1,1.8 1,1.6 1,0.9 1,0 1-0.3 1,0.3 1,0.9 1,0.9 1,0.6 1,0.4 1,0.4 1,0.3 1,0 1,0.1 1,0.3 1,0.4 1,0.5 1,0.2 1,0 1,0.2 1,0.7 1,1 1,0.6 1-0.4 1-1.1 1-0.6 1,0.3 1,1.2 1,1.2 1,0.4 1-0.2 1,0 1,0.6 1,0.6 1,0.4 1,0.2 1,0.5 1,1.1 1,1.1 1,0.6 1-0.2 1-0.9 1-0.7 1,0.1 1,0.7 1,0.5 1,0.2 1,0.2 1,0.5 1,0.8 1,0.8 1,0.3 1-0.6 1-0.8 1,0 1,1.1 1,1.4 1,1.1 1,1.1 1,0.7 1,0 1-0.3 1,0.1 1,0.6 1,0.5 1-0.2 1-0.9 1-0.6 1,0.4 1,1.4 1,1.5 1,1.3 1,1.2 1,1.2 1,1 1,0.1 1-0.6 1-0.6 1,0.1 1,0.9 1,1 1,0.1 1-0.7 1-0.8 1-0.2 1,0.5 1,1 1,1 1,0.9 1,0.8 1,0.7 1,0.6 1,0.8 1,1 1,1.1 1,0 1-1.2 1-1.9 1-1.3 1,0.3 1,1.6 1,1.8 1,1.2 1,0.6 1,0.6 1,1.2 1,1.8 1,1.7 1,0.8 1-0.3 1-1.3 1-1.4 1-0.6 1,0.4 1,0.9 1,0.9 1,1 1,0.6 1-0.2 1-1 1-1.2 1-0.5 1,0.5 1,0.7 1,0.6 1,0.2 1,0.8 1,1.8 1,2.4 1,1.9 1,1.2 1,0.4 1-0.4 1-1.7 1-2.5 1-2.2 1-0.4 1,1.8 1,3 1,2.2 1,0.2 1-1.5 1-1.2 1,0.7 1,2 1,1.4 1-0.8 1-1.9 1-1.2 1,0.1 1,0.7 1,0.6 1,0.4 1-0.1 1-0.5 1-0.4 1,0 1,0.2 1,0.1 1,0.1 1,0.5 1,0.9 1,0.5 1-0.2 1-0.4 1-0.3 1-0.1 1,0.3 1,1.2 1,2.2 1,2.2 1,1.3 1,0.1 1-0.5 1-0.2 1,0.1 1,0.1 1-0.2 1-0.3 1-0.3 1-0.3 1-0.1 1,0.2 1,0.4 1,0 1-0.4 1-0.1 1,0.5 1,0.4 1-0.4 1-1 1-0.7 1,0.5 1,1.5 1,1.3 1,0.5 1-0.6 1-1.3 1-0.8 1,0.6 1,1.9 1,1.4 1-0.4 1-2 1-1.8 1-0.6 1,0.7 1,1.1 1,1 1,0.7 1,0.6 1,0.6 1,0.5 1-0.1 1-0.5 1-0.6 1-0.4 1-0.3 1-0.3 1,0 1,0.5 1,1.1 1,1.1 1,0.5 1-0.2 1-0.2 1-0.2 1-0.4 1-0.5 1-0.4 1,0 1,0.7 1,1.4 1,1.4 1,0.7 1-0.3 1-0.5 1,0.2 1,0.3 1-0.6 1-1.1 1-0.3 1,1.1 1,1.1 1,0.3 1-0.4 1-0.4 1-0.4 1-0.4 1-0.2 1-0.1 1,0 1,0.2 1,0.4 1,0.6 1,0 1-0.9 1-1.3 1-0.8 1-0.1 1,0.6 1,1.4 1,2 1,1.6 1,0.8 1,0 1-0.7 1-1.4 1-1.5 1-0.7 1,0.3 1,0.8 1,0.3 1-0.5 1-0.7 1-0.3 1,0.3 1,0.8 1,1.1 1,0.8 1,0.4 1,0.3 1,0.4 1,0.1 1-0.4 1-0.3 1,0.1 1,0.2 1-0.1 1-0.2 1-0.1 1-0.1 1,0.1 1,0.7 1,1.2 1,0.5 1-0.4 1-1.2 1-1.4 1-0.9 1-0.3 1,0.4 1,0.5 1,0.3 1,0 1,0.2 1,0.8 1,0.8 1,0.4 1,0.1 1,0.1 1-0.1 1-0.7 1-1 1-0.6 1,0.2 1,0.5 1,0.3 1-0.1 1-0.2 1-0.4 1-0.2 1-0.1 1,0.3 1,0.5 1,0.3 1,0.1 1-0.4 1-0.6 1-0.5 1-0.1 1,0.4 1,0.6 1,0.5 1,0.5 1,0.3 1,0 1-0.4 1-0.6 1-0.5 1-0.1 1,0.2 1,0.4 1,0.3 1,0.1 1-0.1 1-0.2 1-0.1 1,0.1 1,0.2 1,0.2 1-0.1 1-0.4 1-0.3 1,0 1,0.1 1,0 1-0.2 1-0.4 1-0.3 1-0.1 1,0.1 1,0.3 1,0.4 1,0.3 1,0.2 1,0.1 1-0.1 1-0.1 1-0.1 1,0.1 1,0.4 1,0.1 1-0.2 1-0.4 1-0.3 1,0.1 1,0.3 1,0.1 1-0.2 1-0.5 1-0.5 1-0.4 1-0.1 1,0.3 1,0.4 1,0.4 1,0.3 1,0.1 1,0 1,0 1-0.1 1-0.2 1-0.3 1,0.1 1,0.2 1,0.2 1,0.2 1,0.2 1-0.1 1-0.4 1-0.6 1-0.3 1,0 1,0.4 1,0.5 1,0.1 1-0.3 1-0.2 1,0 1,0.2 1,0 1,0 1,0 1,0.3 1,0.4 1,0.3 1,0.4 1,0.2 1-0.2 1-0.6 1-0.7 1-0.3 1,0.3 1,0.5 1,0.2 1-0.1 1-0.3 1-0.2 1-0.1 1,0.2 1,0.7 1,0.7 1,0.5 1-0.2 1-0.6 1-0.9 1-0.9 1-0.3 1,0.1 1,0.1 1-0.3 1-0.3 1-0.2 1,0.2 1,0.6 1,0.5 1,0.3 1,0.2 1,0.2 1,0.2 1,0.2 1-0.2 1-0.3 1-0.1 1,0 1-0.2 1-0.4 1-0.3 1-0.1 1,0.3 1,0.7 1,0.9 1,0.1 1-0.9 1-1.4 1-1 1-0.2 1,0 1-0.1 1-0.2 1,0 1-1.6 1-0.2 1,1.7 1,1.7 1-0.2 1-1.6 1-1 1-0.3 1-1.1 1-1.8 1-0.8 1-0.6 1-2.4 1-1.4 1-3.6 1-0.7 1,2.4 1,4.9 1,6.6 1,4.1 1-3.1 1,0.4 1,2 1,1.5 1-0.2 1-0.6 1,0.4 1-0.6 1-1.8 1,1.2 1-1.4 1-7.2 1-4.8 1,1 1,5.4 1,5.3 1,2.7 1,0.8 1-0.1 1-0.5 1-2.4 1-5.7 1-6.3 1-1.9 1,3.9 1,5.7 1,3.4 1,1.2 1,0.5 1,0.4 1,1.2 1-0.4 1-0.7 1,0.7 1,0.9 1-2.1 1-4 1-5.2 1-3.7 1-0.1 1,3.8 1,6.3 1,2.9 1-6.9 1-3.5 1,2.2 1,7 1-1.2 1-5.8 1-1.1 1,3.3 1,5.8 1-0.6 1-4.3 1-2.7 1,0.2 1,4 1,4.9 1-0.6 1-0.4 1,0.2 1,1.2 1-1.6 1-2.9 1-0.7 1,2.3 1,2.6 1-4.4 1-2.9 1-1.2 1,0.3 1,2.6"/>
<path id="cbSTA" d="M1648,565.9l1,0 1-0.7 1-0.8 1,0.4 1,1.8 1,2.6 1,1.9 1-0.1 1-2.6 1-3.8 1-3.4 1-1.8 1-0.7 1-0.4 1-0.9 1-0.1 1,1.4 1,2.5 1,2.1 1,1.1 1,0.5 1,0.1 1-0.2 1-0.2 1-0.4 1-0.8 1-1.5 1-1.8 1-0.9 1,0.5 1,1.6 1,2 1,1.3 1,0.4 1-4.8 1-12 1-15.9 1-16.8 1-15.4 1-13.9 1-14 1-13.4 1-13.4 1-13.9 1-14.6 1-15.4 1-16.1 1-16.1 1-15.2 1-14 1-13.1 1-12.6 1-12.9 1-13.3 1-13.3 1-12 1-10.2 1-9.7 1-10.5 1-11 1-10.2 1-9.2 1-9.3 1-10.4 1-13.5 1-15.4 1-12.5 1-8.2 1-6.4 1-5.6 1-5.8 1-6.1 1-5.6 1-5.2 1-4.6 1-4.5 1-4.6 1-4.9 1-4.5 1-4.2 1-4.1 1-4.4 1-5 1-5.4 1-4.3 1-1.9 1,0.5 1,1.8 1,2.5 1,2.9 1,2.6 1,2 1,1.4 1,0.9 1,1 1,1.5 1,1.9 1,1.8 1,2 1,2.9 1,3.6 1,5.1 1,6.9 1,8.4 1,9.4 1,9.7 1,9.1 1,8.7 1,9.2 1,9.1 1,8.7 1,8.1 1,7.6 1,7.4 1,7.3 1,7.4 1,6.9 1,6 1,4.7 1,4.3 1,4.8 1,5.9 1,7 1,7.3 1,6.7 1,5.5 1,4.8 1,4.4 1,4.3 1,4.7 1,5.8 1,7.3 1,8.7 1,9.5 1,9.8 1,10.3 1,11 1,12.9 1,15.1 1,15.1 1,13.4 1,10.5 1,8.1 1,7.3 1,6.7 1,6.3 1,6.2 1,6 1,5.7 1,6.5 1,7.2 1,7.1 1,6.5 1,6.1 1,6.1 1,6.7 1,7.3 1,7.8 1,7.6 1,6.7 1,5.5 1,4.7 1,4.8 1,5.4 1,6 1,5.9 1,5.4 1,5.2 1,5.7 1,5.9 1,5.7 1,5.2 1,5.1 1,5.6 1,5.8 1,5.3 1,4.5 1,3.2 1,2.8 1,3.1 1,2.7 1,2 1,1 1,0 1-0.9 1-2.1 1-3 1-2.9 1-2.3 1-1.9 1-2.1 1-2.7 1-3 1-3.2 1-3.3 1-3.1 1-3 1-2.9 1-2.9 1-3.2 1-3.3 1-3.5 1-4 1-4.5 1-4.2 1-3.4 1-2.6 1-2.3 1-2.3 1-2.7 1-3.1 1-3.3 1-3.3 1-3.2 1-2.4 1-1.3 1-0.8 1-1.2 1-1.8 1-1.8 1-1.9 1-1.9 1-1.4 1-0.7 1-0.7 1-1.7 1-2.6 1-2.7 1-2.7 1-2.9 1-3 1-2.4 1-1.5 1-0.6 1-0.4 1-0.9 1-2.1 1-3.2 1-3.5 1-2.8 1-1.2 1,0 1,0.2 1,0.2 1,0.8 1,1.8 1,2.3 1,2.1 1,1.6 1,1.6 1,2.2 1,2.6 1,2.7 1,2.8 1,2.5 1,1.8 1,1.2 1,1.6 1,2 1,2.2 1,1.6 1,1 1,1 1,1.7 1,2.1 1,1.6 1,1.1 1,1.6 1,2.6 1,2.9 1,2.8 1,2.4 1,2.4 1,2.4 1,2 1,1.7 1,1.8 1,2.1 1,1.9 1,1.4 1,0.8 1,0.5 1,0.3 1,0.6 1,1.5 1,2.7 1,2.8 1,1.6 1,0.1 1-0.3 1,0.4 1,1.4 1,1.5 1,1.4 1,0.8 1,0.7 1,0.7 1,0.6 1,0.6 1,0.8 1,1.1 1,1.2 1,0.4 1-0.9 1-1.6 1-1.6 1-1.3 1-1.1 1-1.6 1-2.2 1-2.5 1-1.7 1-0.3 1,0.3 1-0.3 1-1.5 1-2.4 1-2.4 1-1.4 1-0.6 1-0.7 1-1.3 1-1.9 1-1.7 1-1.2 1-1 1-1.6 1-2.6 1-2.7 1-2.2 1-1.5 1-0.9 1-0.5 1,0.1 1,0.3 1-0.6 1-2 1-2.6 1-2.1 1-1 1,0.2 1,1.4 1,2.1 1,1.6 1,0.4 1-0.2 1,0.1 1,1.2 1,2.2 1,1.8 1,0.5 1-0.6 1-0.5 1-0.2 1,0.3 1,0.9 1,1.2 1,1.4 1,1.5 1,1.4 1,1.6 1,1.5 1,1.9 1,2.4 1,3 1,3 1,2 1,1.1 1,0.9 1,1.3 1,1.9 1,2.2 1,2.3 1,2 1,1.8 1,1.6 1,1.5 1,1.4 1,1.7 1,2.4 1,2.7 1,2 1,0.4 1-0.8 1-1.5 1-1.5 1-1.3 1-0.8 1-0.6 1-0.6 1-0.8 1-0.7 1,0 1,0 1-0.7 1-1 1-0.7 1-0.2 1-0.3 1-0.8 1-1.7 1-2.3 1-2.3 1-1.4 1-0.2 1,0.4 1,0.5 1,0.1 1-0.2 1-0.3 1-1.1 1-3 1-4.9 1-5.4 1-3.8 1-1.7 1-0.5 1-0.8 1-1.9 1-2.4 1-2.1 1-1.4 1-1.4 1-1.7 1-1.1 1-0.2 1,0.2 1-0.3 1-1 1-0.9 1-0.2 1,0.4 1,0.2 1-0.9 1-1.5 1-0.7 1,1.4 1,3 1,3.6 1,3.4 1,2.9 1,2.7 1,2.6 1,2.2 1,1.4 1,0.8 1,0.8 1,0.9 1,0.9 1,0.5 1,0.3 1,0.3 1,0.2 1-0.3 1-0.5 1-0.4 1,0.1 1,0 1-0.2 1-0.1 1-0.1 1-0.5 1-0.3 1,0.1 1,0 1,0.1 1,0.6 1,1 1,0.2 1-0.9 1-1.1 1-0.9 1-0.7 1-0.4 1,0.6 1,1.2 1,0.8 1-0.1 1-0.9 1-0.6 1,0.2 1,0.9 1,1.4 1,1.3 1,0.6 1-0.4 1-1.1 1-0.5 1-0.3 1,0.1 1,0.8 1,1.1 1,0.7 1-0.4 1-1.2 1-1.2 1-0.7 1-0.2 1,0.3 1,0.2 1,0 1,0.1 1,0.2 1,0.4 1,0.4 1,0.1 1-0.2 1-0.4 1-0.2 1-0.1 1,0 1,0.1 1,0 1,0.3 1,0.4 1,0.2 1-0.3 1-0.5 1-0.4 1-0.2 1-0.2 1-0.3 1-0.1 1,0.2 1,0.4 1,0.5 1,0.1 1-0.3 1-0.8 1-0.9 1-0.4 1,0.3 1,0.6 1,0.4 1,0.3 1,0.3 1,0.1 1-0.2 1-0.3 1-0.1 1,0.1 1,0.2 1,0.2 1,0.1 1,0.1 1-0.1 1-0.3 1-0.5 1-0.3 1,0.1 1,0.5 1,0.3 1,0.1 1-0.2 1,0 1,0 1,0.1 1,0.2 1,0.2 1,0.3 1,0.1 1-0.1 1-0.1 1,0 1,0.3 1,0.2 1-0.3 1-0.8 1-0.7 1-0.3 1,0.1 1,0.6 1,0.9 1,0.7 1,0.1 1-0.5 1-0.7 1-0.3 1,0.1 1,0.2 1,0.3 1,0.4 1,0.6 1,0.4 1,0.1 1-0.4 1-0.6 1-0.4 1,0.1 1,0.1 1-0.3 1-0.5 1-0.1 1,0.3 1,0.3 1,0 1,0 1,0.1 1,0.2 1,0 1-0.5 1-0.4 1-0.1 1,0.2 1,0.1 1-0.2 1,0 1,0.1 1-0.1 1-0.3 1-0.4 1-0.3 1-0.3 1,0 1,0.3 1,0.6 1,0.7 1,0.4 1,0.3 1-0.1 1,0.1 1,0.4 1,0.4 1,0.2 1-0.2 1-0.5 1-0.4 1-0.3 1-0.3 1-0.3 1-0.4 1-0.3 1,0.1 1,0.4 1,0.5 1,0.5 1,0.3 1,0.1 1,0 1,0.1 1,0 1-0.1 1-0.2 1-0.4 1-0.4 1-0.4 1,0.2 1,0.7 1,0.7 1,0.1 1-0.7 1-0.6 1,0 1,0.4 1,0.3 1-0.3 1-0.6 1,0.1 1,0.9 1,0.6 1-0.1 1-0.5 1-0.4 1,0 1-0.6 1-1.6 1-0.5 1,2.1 1,2 1-0.5 1-2.6 1-3.3 1-2 1,1.6 1,6.4 1,9.3 1-26.5 1-2.9 1,3.3 1,7.4 1,7.9 1-0.1 1-3.2 1,0.5 1,4.6 1-3.8 1-3.9 1,0.2 1,3.6 1,4.1 1,0.8 1-2.6 1-3.9 1-1.9 1-1.2 1-2 1-0.5 1,3 1,5.3 1,1.8 1-4.7 1-1.4 1,0.7 1,0.4 1,0.9 1,2.7 1,3.5 1-2.2 1-1 1,0.7 1,2.4 1-2.2 1-1.6 1-0.9 1,0.4 1,3.3 1-2.3 1-2 1,3 1,0 1-2.3 1,0.7 1,0.8 1-0.5 1-0.6 1-0.1 1,1 1,2.4 1-0.4 1,0.7 1-2.8 1-3.9 1,0.7 1,5.2 1-2.9 1-4 1-1.5 1-0.5 1,0 1,1.7 1,3.9 1,4.6 1-2 1,0.5 1,1.5 1-1.2 1,1.1 1-1.6 1-1.6 1-0.7 1-0.5 1,0.2 1,2 1,1.4 1-5.4"/>
<path id="cbISTA" d="M1648,563.5l1,0 1,0 1,0 1,0 1,0 1,0 1,0 1,0 1,0 1,0 1,0 1,0 1,0 1,0 1,0 1,0 1,0 1,0 1,0 1,0 1,0 1,0 1,0 1,0 1,0 1,0 1,0 1,0 1,0 1,0 1,0 1,0 1,0 1,0 1-1.4 1-9.9 1-16.4 1-19.3 1-18.6 1-15.5 1-16.2 1-15.1 1-11.1 1-7.5 1-6.2 1-5.3 1-4.7 1-4.5 1-4.4 1-4.9 1-5.2 1-5 1-4.3 1-3 1-2.1 1-1.9 1-1.6 1-1.2 1-0.6 1,0 1,1.1 1,1.8 1,2.2 1,2.3 1,2.5 1,3.1 1,3.5 1,3.9 1,4.1 1,4.3 1,4.3 1,4.3 1,4.4 1,4.7 1,4.8 1,5 1,5.2 1,5.2 1,5.2 1,5.3 1,5.1 1,5.1 1,5 1,5.1 1,5 1,5.1 1,5 1,5.1 1,5 1,4.9 1,4.9 1,4.9 1,4.9 1,4.9 1,5 1,5 1,4.8 1,4.7 1,4.5 1,4.3 1,3.9 1,3.8 1,3.6 1,3.2 1,2.4 1,1.9 1,1.5 1,0.6 1-0.4 1-1 1-1.3 1-1.3 1-1.4 1-1.6 1-1.7 1-1.4 1-0.9 1-0.5 1-0.5 1-0.4 1-0.4 1-0.4 1-0.3 1-0.2 1-0.2 1-0.1 1,0 1,0 1,0 1,0 1,0 1,0 1,0 1,0 1,0 1,0 1,0 1,0 1,0.2 1,0.1 1,0.3 1,0.3 1,0.3 1,0.3 1,0.4 1,0.4 1,0.5 1,0.4 1,0.5 1,0.4 1,0.3 1,0.3 1,0.3 1,0.4 1,0.4 1,0.4 1,0.4 1,0.4 1,0.4 1,0.4 1,0.3 1,0.3 1,0.2 1-0.1 1-0.2 1-0.4 1-0.5 1-0.5 1-0.6 1-0.6 1-0.4 1-0.3 1-0.2 1-0.2 1-0.2 1-0.1 1-0.1 1,0 1,0.1 1,0.1 1,0.2 1,0.3 1,0.3 1,0.3 1,0.3 1,0.3 1,0.2 1,0.2 1,0.1 1,0.1 1,0.1 1,0 1,0 1,0 1-0.1 1-0.1 1-0.1 1-0.1 1-0.2 1-0.1 1-0.2 1-0.2 1-0.2 1-0.2 1-0.2 1-0.2 1-0.1 1-0.1 1,0 1,0 1,0.1 1,0.2 1,0.1 1,0.1 1,0.1 1,0.1 1,0 1-0.1 1,0 1-0.2 1-0.2 1-0.2 1-0.3 1-0.2 1-0.1 1-0.1 1,0 1,0.1 1,0.1 1,0.1 1,0.1 1,0.1 1,0.1 1,0.1 1,0.1 1,0.1 1,0.1 1,0 1,0.1 1,0.1 1,0.1 1,0 1,0 1,0 1,0 1,0 1,0 1,0 1-0.1 1,0.1 1,0 1,0.1 1,0 1-0.1 1-0.2 1-0.2 1-0.3 1-0.4 1-0.3 1-0.3 1-0.3 1-0.2 1,0 1,0.2 1,0.4 1,0.6 1,0.7 1,0.9 1,0.9 1,0.9 1,0.8 1,0.8 1,0.6 1,0.3 1,0.1 1-0.2 1-0.4 1-0.5 1-0.7 1-0.8 1-0.8 1-0.7 1-0.6 1-0.4 1-0.2 1-0.1 1-0.1 1,0 1,0.1 1,0.2 1,0.2 1,0.3 1,0.3 1,0.4 1,0.4 1,0.3 1,0.2 1,0.3 1,0.1 1,0.1 1,0 1,0 1-0.1 1-0.1 1-0.1 1-0.1 1-0.2 1-0.1 1-0.2 1,0 1-0.1 1-0.1 1,0 1-0.1 1-0.1 1-0.1 1-0.1 1-0.2 1-0.2 1-0.1 1-0.2 1-0.2 1-0.1 1-0.1 1-0.1 1-0.1 1,0 1,0.1 1,0 1,0.1 1,0.1 1,0.1 1,0.1 1,0 1,0.1 1,0 1,0 1,0.1 1,0 1,0.1 1,0.2 1,0.2 1,0.3 1,0.2 1,0.3 1,0.2 1,0.2 1,0 1-0.1 1-0.1 1-0.3 1-0.2 1-0.3 1-0.3 1-0.3 1-0.3 1-0.2 1-0.1 1-0.1 1-0.1 1,0 1-0.1 1,0 1-0.1 1-0.1 1-0.1 1-0.1 1-0.2 1-0.2 1-0.2 1-0.2 1-0.2 1-0.1 1-0.1 1-0.1 1,0 1,0 1,0 1,0.1 1,0.1 1,0 1,0.1 1,0 1,0 1,0 1,0 1,0.1 1,0.1 1,0.1 1,0.1 1,0.1 1-0.1 1-0.1 1-0.2 1-0.2 1-0.3 1-0.3 1-0.3 1-0.2 1-0.2 1-0.1 1-0.1 1,0 1,0.1 1,0 1,0.1 1,0.2 1,0.1 1,0 1,0.1 1,0.1 1,0.1 1,0.1 1,0 1,0.2 1,0.2 1,0.1 1,0.2 1,0.2 1,0.1 1,0.2 1,0 1,0 1,0 1,0 1-0.1 1,0 1,0 1,0 1,0.1 1,0.2 1,0.1 1,0.3 1,0.2 1,0.2 1,0.1 1,0 1,0 1-0.1 1-0.1 1-0.2 1-0.2 1-0.2 1-0.2 1-0.1 1-0.1 1-0.1 1,0 1,0 1,0 1,0 1-0.1 1,0 1,0 1,0 1,0 1-0.1 1,0 1,0 1,0 1,0 1,0 1,0 1,0.1 1,0 1,0.1 1,0.1 1,0.1 1,0 1,0.1 1,0 1,0.1 1,0 1,0 1-0.1 1,0 1-0.1 1-0.2 1-0.2 1-0.2 1-0.2 1-0.1 1-0.2 1,0 1,0.1 1,0.1 1,0.2 1,0.3 1,0.3 1,0.3 1,0.3 1,0.3 1,0.1 1,0.1 1,0 1-0.1 1-0.1 1-0.1 1-0.2 1-0.1 1-0.1 1-0.1 1-0.1 1-0.1 1-0.1 1-0.1 1,0.1 1,0 1,0.1 1,0.2 1,0.2 1,0.2 1,0.2 1,0.1 1,0 1-0.1 1-0.1 1-0.2 1-0.2 1-0.1 1-0.2 1,0 1,0 1,0 1,0.1 1,0.1 1,0.2 1,0.2 1,0.2 1,0.1 1,0.1 1,0 1,0 1-0.1 1-0.1 1-0.2 1-0.2 1-0.2 1-0.3 1-0.2 1-0.1 1-0.2 1-0.1 1-0.1 1,0 1,0 1,0.1 1,0 1,0 1,0 1,0 1,0 1,0 1-0.1 1,0 1-0.1 1,0 1,0 1-0.1 1,0 1,0 1,0 1,0 1,0 1,0.1 1,0 1,0 1,0.1 1,0.1 1,0 1,0.1 1,0.1 1,0 1,0.1 1,0.1 1,0.1 1,0.1 1,0 1,0.1 1-0.1 1,0 1-0.1 1,0 1-0.1 1,0 1,0.1 1,0 1,0.1 1,0.1 1,0.2 1,0.1 1,0.2 1,0.1 1,0.2 1,0.1 1,0 1,0 1,0 1-0.2 1-0.1 1-0.2 1-0.2 1-0.2 1-0.1 1-0.1 1-0.1 1,0 1-0.1 1,0 1-0.1 1-0.1 1,0 1-0.1 1-0.1 1-0.1 1,0 1,0 1,0 1,0 1,0 1,0.1 1,0.1 1,0.1 1,0.1 1,0 1,0.1 1,0 1,0.1 1,0.1 1,0.1 1,0.1 1,0.1 1,0.1 1,0 1,0 1,0 1,0 1,0.1 1,0.1 1,0.1 1,0.1 1,0.1 1,0 1,0 1,0 1-0.1 1-0.2 1-0.2 1-0.2 1-0.1 1-0.1 1,0 1,0.1 1,0 1,0.1 1,0.1 1,0.2 1,0.1 1,0.1 1,0.1 1,0.1 1,0.1 1,0.1 1,0.1 1,0.2 1,0.1 1,0.1 1,0.2 1,0 1,0 1-0.2 1-0.1 1-0.2 1-0.2 1-0.2 1-0.2 1-0.2 1-0.1 1-0.1 1-0.2 1-0.1 1,0 1-0.1 1-0.1 1-0.1 1-0.1 1-0.1 1-0.1 1,0 1,0 1,0 1,0.2 1,0.2 1,0.2 1,0.3 1,0.3 1,0.2 1,0.3 1,0.1 1,0.2 1,0 1,0.1 1-0.1 1,0 1-0.1 1,0 1,0 1,0 1,0 1,0.1 1,0 1,0 1,0 1-0.1 1,0 1-0.1 1-0.1 1-0.1 1-0.1 1-0.2 1-0.2 1-0.2 1-0.2 1-0.2 1-0.1 1-0.1 1,0 1,0 1,0.1 1,0.1 1,0.1 1,0.1 1,0.1 1,0.1 1,0.1 1,0.1 1,0.2 1,0.3 1,0.3 1,0.3 1,0.3 1,0.2 1,0.2 1,0 1-0.1 1-0.2 1-0.3 1-0.4 1-0.4 1-0.4 1-0.3 1-0.2 1-0.2 1-0.1 1-0.2"/>
<path id="ccPI" d="M2700.5,100l1-2.1 1-1.7 1-0.6 1,0.4 1,0.7 1,0.9 1,1.3 1,1.3 1,0.5 1-0.4 1-1.1 1-1.3 1-1.4 1-0.9 1-0.1 1,0.4 1,0.5 1,0.4 1,0.6 1,0.7 1,0.6 1,0.5 1,0 1-0.6 1-0.8 1-0.9 1-0.9 1-0.6 1,0.2 1,1.1 1,1.8 1,1.2 1-0.4 1-1.6 1-1.4 1,0 1,1.3 1,1.1 1,0.2 1-0.1 1,0.7 1,1.5 1,1.5 1,0.7 1-0.3 1-1 1-0.8 1-0.1 1,0.9 1,1 1,0.1 1-0.9 1-1.4 1-1.3 1-0.6 1,0.4 1,1.1 1,1.5 1,1 1-0.7 1-2.8 1-3 1-0.9 1,1.4 1,2.3 1,1.8 1,0.1 1-1.2 1-1.2 1,0 1,1.1 1,1.3 1,1.1 1,1 1,0.7 1,0.4 1-0.2 1-1 1-1.9 1-2 1-1.1 1-0.1 1,0.8 1,1.5 1,1.8 1,1.3 1-0.1 1-1.1 1-1.3 1-0.8 1-0.5 1-0.8 1-1.1 1-0.8 1,0.3 1,0.7 1,0.5 1,0.3 1,0.4 1,0.7 1,0.8 1,0.3 1-0.4 1-0.4 1,0.4 1,0.9 1,0.7 1-0.5 1-1.6 1-1.4 1-0.5 1,0.3 1,0.6 1,0.8 1,0.9 1,0.7 1,0.2 1-0.1 1,0 1-0.1 1-0.2 1-0.4 1-0.4 1-0.5 1-0.3 1,0 1,0.4 1,0.9 1,1 1,0.7 1-0.4 1-1.4 1-1.7 1-0.9 1,0.1 1,0.9 1,0.9 1,0.4 1-0.2 1-1 1-1 1-0.7 1-0.1 1,0.3 1,1.1 1,1.5 1,1.3 1,0.5 1-0.5 1-1.4 1-1.7 1-1.2 1-0.1 1,0.4 1-0.1 1-0.7 1-0.8 1-0.2 1,0.8 1,1.3 1,1.1 1,0.6 1,0.5 1,0.4 1-0.1 1-0.7 1-0.8 1-0.5 1,0 1,0.4 1,0.4 1,0 1-0.7 1-0.4 1,0.5 1,1.4 1,1.3 1,0.8 1-0.3 1-1.2 1-1.9 1-1.8 1-1.2 1-0.2 1,0.6 1,1.4 1,1.8 1,1.1 1,0.4 1-0.3 1-0.1 1-0.2 1-0.3 1-0.1 1,0.1 1,0.1 1,1.2 1,8.5 1,14.6 1,18.5 1,19.9 1,19 1,16.2 1,16.4 1,16.9 1,16.7 1,16.3 1,15.2 1,13.8 1,12.1 1,10.5 1,9.6 1,9.4 1,10.3 1,11.3 1,12.5 1,13.1 1,12.9 1,12 1,11 1,10.4 1,10.2 1,9.9 1,9.5 1,9.4 1,9.8 1,10.5 1,10.9 1,10.5 1,9.9 1,9.2 1,8.5 1,7.5 1,6.8 1,6 1,5.4 1,5.1 1,5.1 1,5.5 1,5.8 1,6.1 1,6.5 1,7.3 1,7.6 1,7.6 1,7 1,6.1 1,5.6 1,5.1 1,4.8 1,4.7 1,4.6 1,4.2 1,3.6 1,3.1 1,2.8 1,2.8 1,2.9 1,2.7 1,2.4 1,1.5 1,0.6 1,0 1-0.1 1,0.1 1,0.4 1,0.6 1,0.5 1,0.4 1,0.2 1,0.2 1,0 1-0.2 1-0.2 1-0.3 1-0.4 1-0.7 1-1.1 1-1.4 1-1.5 1-1.6 1-1.3 1-1.5 1-1.8 1-2.3 1-2.9 1-3.5 1-3.7 1-3.4 1-2.9 1-2.4 1-2 1-1.9 1-2 1-2.3 1-2.4 1-2.7 1-2.8 1-3 1-3 1-2.9 1-2.8 1-2.9 1-3.3 1-3.6 1-3.3 1-2.9 1-2.5 1-2.3 1-2.3 1-2.4 1-2.8 1-3 1-2.7 1-2.4 1-2.2 1-2.2 1-2.3 1-2.3 1-2.2 1-2.3 1-2.6 1-2.9 1-2.8 1-2.4 1-2.5 1-2.9 1-3.4 1-3.5 1-3.3 1-2.9 1-2.7 1-2.7 1-3.1 1-3.5 1-3.7 1-3.8 1-3.7 1-3.5 1-3.2 1-2.9 1-2.7 1-2.8 1-2.9 1-3.2 1-3.5 1-3.6 1-3.6 1-3.4 1-3.3 1-3.3 1-3.2 1-3.1 1-2.9 1-3.1 1-3.1 1-3.2 1-3.1 1-3 1-2.8 1-2.6 1-2.5 1-2.6 1-2.7 1-2.9 1-2.9 1-2.7 1-2.8 1-3.1 1-3.3 1-3.4 1-2.9 1-2.5 1-2.3 1-2.2 1-2.4 1-2.7 1-3.1 1-3 1-2.7 1-2.5 1-2.3 1-2.5 1-2.5 1-2.6 1-2.7 1-2.8 1-2.7 1-2.7 1-2.5 1-2.1 1-1.9 1-2 1-2.2 1-2.4 1-2.6 1-2.9 1-3.1 1-2.8 1-2.4 1-2 1-1.9 1-2.2 1-2.5 1-2.7 1-2.8 1-2.6 1-2.3 1-2.3 1-2.4 1-2.5 1-2.5 1-2.3 1-2.3 1-2.4 1-2.6 1-2.4 1-2.2 1-2.3 1-2.4 1-2.5 1-2.6 1-2.7 1-2.5 1-2.2 1-2.1 1-2 1-2.3 1-2.5 1-2.5 1-2.4 1-2.2 1-2 1-1.8 1-1.8 1-1.7 1-1.8 1-2 1-2 1-1.9 1-1.7 1-1.6 1-1.8 1-1.9 1-2 1-2.1 1-2.4 1-2.4 1-2.4 1-2.3 1-2.4 1-2 1-1.7 1-1.4 1-1.4 1-1.7 1-1.8 1-1.7 1-1.6 1-1.6 1-1.5 1-1.4 1-1.2 1-1.4 1-1.6 1-1.6 1-1.2 1-0.9 1-1.1 1-1.4 1-1.5 1-1.5 1-1.4 1-1.4 1-1.5 1-1.6 1-1.8 1-1.5 1-1.3 1-1.1 1-1.3 1-1.5 1-1.5 1-1.2 1-0.8 1-0.7 1-0.7 1-0.6 1-0.7 1-0.7 1-1 1-1.2 1-1.3 1-1.2 1-1.1 1-1.1 1-1.2 1-1.4 1-1.4 1-1.2 1-0.7 1-0.6 1-0.6 1-0.8 1-1.2 1-1.3 1-0.9 1-0.2 1,0.3 1,0.1 1-0.7 1-0.8 1-0.3 1-0.1 1-0.7 1-1.5 1-1.8 1-1.7 1-1.4 1-1 1-0.7 1-0.9 1-1.1 1-1.2 1-1.2 1-0.9 1-0.6 1-0.8 1-1.2 1-1.2 1-1.1 1-1 1-1.2 1-1.4 1-1.3 1-0.8 1-0.4 1-0.5 1-1.3 1-1.7 1-1.3 1-0.2 1,0.5 1,0.7 1,0 1-0.6 1-0.6 1-0.6 1-0.6 1-0.3 1,0.1 1,0.3 1,0.6 1,0.3 1-0.5 1-1.5 1-1.8 1-1.5 1-1 1-0.6 1-0.5 1-0.7 1-0.8 1-0.9 1-0.6 1-0.4 1-0.5 1-0.2 1,0.3 1,0.3 1-0.2 1-0.8 1-1 1-0.7 1-0.4 1,0 1,0 1-0.3 1-0.6 1-1 1-1.2 1-1 1-0.7 1-0.5 1-0.1 1,0.7 1,1.1 1,0.6 1-0.5 1-1.1 1-0.6 1,0.1 1,0.1 1-0.2 1-0.5 1-0.7 1-0.7 1-0.1 1,0.2 1-0.1 1-0.8 1-1.2 1-1.2 1-0.7 1-0.6 1-0.4 1,0.1 1,0.7 1,0.9 1,0.5 1-0.1 1-0.9 1-1.4 1-1.5 1-1.4 1-1 1-0.5 1,0.4 1,1 1,0.9 1,0.5 1,0.2 1,0.1 1-0.7 1-1.3 1-0.9 1-0.2 1,0.1 1,0 1,0.2 1,0.5 1,0.4 1-0.4 1-1.1 1-1.1 1-1 1-0.7 1,0.3 1,1.9 1,2.4 1,1.4 1-0.1 1-1.4 1-2.2 1-2.2 1-1.7 1-0.6 1,0.4 1,1.3 1,1.5 1,1.2 1,0.7 1,0 1-0.8 1-1.3 1-1 1-0.3 1,0.1 1,0 1,0.2 1,0.7 1,0.6 1,0 1-0.6 1-0.3 1,0 1,0.1 1-0.2 1,0.4 1,1.4 1,1.8 1,0.9 1-0.5 1-1.1 1-0.8 1-0.2 1,0.5 1,0.8 1,0.5 1,0.2 1,0.4 1,0.3 1,0 1-0.5 1-0.7 1-1 1-1.4 1-1.2 1-0.5 1,0 1-0.1 1,0.3 1,1.5 1,2.2 1,1.6 1,0.4 1-0.7 1-1 1-0.8 1-0.2 1,0 1-0.3 1-0.3 1,0.2 1,0.4 1,0.2 1-0.5 1-0.4 1,0.2 1,0.7 1,0.8 1,0.6 1,0.5 1,0.7 1,0.3 1-0.5 1-1.5 1-1.2 1-0.1 1,1.2 1,1.2 1,0.3 1-0.8 1-1.2 1-0.6 1-0.1 1-0.2 1-0.4 1-0.4 1-0.5 1-0.5 1-0.5 1-0.6 1-0.7 1-0.6 1,0.4 1,1.2 1,1.2 1,1 1,0.7 1,0.4 1,0.3 1,0.6 1,0.7 1,0.4 1-0.2 1-0.5 1-0.8 1-0.8 1-0.9 1-0.6 1-0.1 1,0.4 1,0.5 1-0.1 1-1.2 1-1.8"/>
<path id="ccLADRC" d="M2700.5,100.1l1-0.7 1-0.6 1-0.6 1-0.4 1,0 1,0.4 1,0.5 1,0.6 1,0.6 1,0.7 1,0.2 1-0.5 1-1.2 1-1.1 1-0.2 1,0.4 1,0.6 1,0.3 1-0.3 1-0.7 1-1 1-0.8 1-0.4 1,0.4 1,0.8 1,0.5 1-0.3 1-0.7 1-0.5 1,0.1 1,0 1-0.1 1,0.3 1,0.8 1,0.6 1-0.1 1-0.5 1-0.7 1-0.4 1-0.2 1,0.5 1,1.2 1,1.6 1,1.4 1,0.6 1-0.3 1-1 1-1 1-0.8 1-0.8 1-0.8 1-0.2 1,0.7 1,1.2 1,0.7 1,0.3 1-0.2 1-0.6 1-1.2 1-1.1 1-0.4 1,0.7 1,1.3 1,1.5 1,1.5 1,1 1,0.5 1,0.1 1-0.2 1-0.1 1,0.1 1,0.1 1-0.6 1-1 1-0.8 1-0.5 1,0.1 1,0.5 1,0.2 1-1 1-1.9 1-1.5 1,0.1 1,1.5 1,1.1 1-0.2 1-0.6 1,0.3 1,1.2 1,1.1 1,0.2 1-0.7 1-1.4 1-1.4 1-0.5 1,1 1,1.7 1,1.3 1,0 1-1 1-1.1 1-0.5 1,0.1 1,0.3 1-0.2 1-0.5 1,0.1 1,1.4 1,1.7 1,1 1-0.1 1-0.7 1-0.3 1,0.6 1,1 1,0.3 1-0.9 1-1.3 1-0.5 1,0.4 1,0.4 1-0.4 1-0.6 1-0.1 1,0.5 1,0.9 1,0.8 1,0.6 1,0.1 1-0.5 1-0.8 1-0.6 1-0.1 1,0.4 1,0.4 1,0.1 1-0.3 1-0.3 1-0.1 1,0.2 1,0.5 1,0.6 1-0.1 1-0.8 1-0.4 1,0.3 1,0.1 1-0.8 1-1.5 1-1.3 1,0.1 1,1.9 1,2.3 1,1 1-0.6 1-0.8 1-0.4 1-0.4 1-1 1-1.5 1-1.2 1-0.6 1-0.2 1-0.1 1,0 1,0.2 1,0.9 1,1.5 1,1.5 1,0.7 1,0 1-0.4 1-0.3 1-0.3 1-0.5 1-0.4 1-0.1 1,0.4 1,0.5 1,0.2 1-0.2 1-0.2 1,0 1,0.4 1,0.6 1,0.1 1-0.5 1-0.8 1-0.5 1-0.1 1-0.1 1-0.2 1-0.1 1,0.2 1,0.3 1,0.2 1,1 1,8.3 1,14.6 1,18.7 1,20.4 1,19.2 1,16.2 1,16.6 1,17.1 1,17.2 1,16.6 1,15.7 1,14.1 1,12 1,10 1,9 1,9.3 1,10.5 1,11.6 1,12.3 1,12.6 1,12.5 1,11.7 1,11.1 1,10.8 1,10 1,9.5 1,9 1,9.3 1,10.1 1,11 1,11.6 1,11.3 1,10.5 1,9.5 1,8.2 1,7.2 1,6.8 1,6.4 1,5.8 1,5.2 1,4.8 1,4.8 1,4.8 1,4.2 1,3.5 1,3.2 1,3.2 1,2.7 1,1.9 1,1.3 1,1.1 1,1.6 1,1.6 1,1.3 1,0.7 1-0.7 1-2.2 1-2.7 1-2.4 1-2.4 1-2.7 1-3 1-3.2 1-3.6 1-3.8 1-4 1-4.4 1-4.9 1-5.5 1-6.1 1-6.3 1-6.2 1-5.7 1-5 1-4.6 1-4.7 1-5.1 1-5.7 1-6.1 1-6.4 1-7 1-7 1-6.9 1-6.6 1-6.4 1-5.9 1-5.5 1-5.3 1-5.2 1-5.2 1-5.4 1-5.5 1-5.7 1-5.9 1-6.1 1-6.4 1-6.5 1-6.3 1-5.9 1-5.7 1-5.6 1-5.7 1-5.8 1-6 1-6.1 1-5.9 1-5.6 1-5.2 1-4.6 1-4.3 1-4.1 1-4.2 1-4.3 1-4.6 1-4.9 1-4.9 1-4.6 1-4.3 1-4.1 1-4.2 1-4.8 1-5.4 1-5.7 1-5.6 1-4.9 1-4.3 1-3.6 1-3.2 1-3 1-2.8 1-2.3 1-2.1 1-2.1 1-2.5 1-2.8 1-2.6 1-2.6 1-2.6 1-2.4 1-2.2 1-2.1 1-2.2 1-2.2 1-2 1-2.1 1-2 1-2 1-2.2 1-2.4 1-2.5 1-2.5 1-2.4 1-2.1 1-1.5 1-1.2 1-1.4 1-1.4 1-1.4 1-1.3 1-1.1 1-0.9 1-0.9 1-1 1-1 1-1 1-0.7 1-0.7 1-1 1-1.3 1-0.8 1,0.2 1,1.2 1,1.1 1-0.1 1-1.6 1-2 1-1.6 1-1.1 1-0.7 1-0.9 1-1.2 1-0.8 1-0.6 1-0.6 1-1.2 1-1.6 1-1.4 1-1 1-0.4 1,0.4 1,0.8 1,0.5 1-0.3 1-0.9 1-0.6 1,0 1,0.4 1-0.1 1-1 1-1.5 1-1 1-0.3 1,0.1 1,0.2 1-0.2 1-0.9 1-1.2 1-0.4 1,0.6 1,0.7 1-0.3 1-1.3 1-1.5 1-1.1 1-0.1 1,0.7 1,1.1 1,0.5 1-0.7 1-1.7 1-1.6 1-0.5 1,0.2 1,0.6 1,0.2 1-0.3 1-0.9 1-0.9 1-0.9 1-0.8 1-0.8 1-0.7 1-0.5 1-0.2 1,0.1 1,0.3 1,0.3 1,0.5 1,0.3 1-0.3 1-0.5 1-0.4 1-0.3 1-0.5 1-0.5 1-0.1 1-0.4 1-1.4 1-2.5 1-2.8 1-1.8 1-0.7 1,0 1,0.3 1,0.4 1,0.4 1-0.3 1-1.5 1-2 1-1.5 1-1.1 1-1.5 1-1.8 1-1.3 1-0.6 1-0.4 1-0.7 1-0.8 1-0.4 1,0.1 1,0.2 1-0.2 1-0.8 1-0.8 1-0.3 1,0.6 1,1.3 1,1.1 1-0.1 1-1.3 1-1.9 1-1.8 1-1.1 1,0.2 1,1.2 1,0.9 1-1 1-2.7 1-2.9 1-1.1 1,0.8 1,1.6 1,1 1,0.2 1-0.4 1-0.6 1-0.2 1,0.1 1,0 1,0 1,0 1,0 1-0.6 1-1.1 1-0.5 1,0.1 1-0.1 1-0.7 1-0.5 1,0.2 1,0.5 1,0.3 1-0.4 1-0.9 1-1 1-0.2 1,1 1,1.7 1,1.4 1,0.4 1-0.3 1-0.3 1,0.2 1,0.4 1,0.4 1-0.2 1-1.4 1-2.3 1-2.4 1-1.3 1,0 1,0.5 1,0.3 1-0.2 1,0 1,0.3 1,0.9 1,1.4 1,1.5 1,0.5 1-0.8 1-1.2 1-0.8 1-0.3 1-0.2 1-0.2 1,0.2 1,0.4 1,0.3 1,0.2 1,0.2 1,0.2 1-0.2 1-0.6 1-1.3 1-1.6 1-1.3 1-0.5 1,0.1 1,1 1,1.9 1,1.9 1,0.7 1-0.3 1-0.5 1-0.2 1-0.5 1-0.6 1-0.4 1,0.1 1,0.1 1,0.1 1,0.6 1,1.2 1,1.2 1,0.5 1-0.4 1-0.7 1-0.6 1-0.3 1-0.2 1-0.2 1-0.5 1-0.5 1,0.1 1,0.5 1,0.5 1,0.2 1-0.4 1-1.1 1-1 1-0.2 1,0.7 1,1.1 1,1 1,0.2 1-0.4 1-0.8 1-0.5 1,0 1,0.3 1-0.2 1-0.6 1-0.5 1,0 1,0.8 1,1.4 1,1.4 1,0.9 1,0.2 1-0.4 1-0.6 1-0.7 1-0.9 1-1.2 1-1.5 1-1.3 1-0.7 1,0.1 1,0.5 1,0.8 1,0.9 1,1.1 1,1.2 1,0.8 1,0.2 1-0.6 1-1.1 1-0.9 1-0.3 1,0.1 1-0.1 1-0.2 1,0.4 1,0.8 1,0.4 1-0.2 1-0.1 1,0.9 1,1.7 1,1.5 1,0.2 1-1.2 1-1.8 1-1 1,0.5 1,1.3 1,1.1 1,0.8 1,0.5 1-0.2 1-1 1-1.5 1-1.2 1-0.7 1-0.5 1-0.2 1,0.6 1,0.5 1-0.9 1-1.7 1-0.7 1,1.4 1,2.3 1,1.5 1-0.2 1-1.2 1-1 1-0.3 1,0.2 1-0.1 1-0.5 1-0.1 1,0.4 1,0.9 1,0.6 1-0.2 1-0.9 1-0.8 1-0.4 1-0.3 1-0.9 1-0.8 1,0 1,0.9 1,1.3 1,1 1,0.6 1,0.8 1,1.1 1,0.6 1-0.5 1-1.3 1-1.3 1-0.8 1-0.5 1-0.5 1,0 1,0.4 1,0.4 1,0.4 1,0.5 1,0.3 1-0.3 1-0.6 1-0.6 1-0.6 1-0.7 1-0.2 1,0.5 1,0.7 1-0.3 1-1.3 1-1.5 1-1 1-0.7 1-0.2 1,0.7 1,1.1 1,0.6 1-0.2 1-0.1 1,0.9 1,1.6 1,1.4 1,0.6 1-0.1 1-0.3 1-0.4 1-0.5 1-0.5 1-0.4 1,0.1 1,0.3 1,0 1-0.4 1-0.5 1-0.1 1,0.3 1,0.8 1,1.1 1,0.7 1,0.3 1,0.1 1,0.1 1-0.2 1-0.4 1-0.1 1,0.3 1,0.6 1,0.3 1-0.3 1-0.8 1-0.6 1-0.1 1,0.1 1-0.1 1-0.3 1,0 1,0.2"/>
<path id="ccSTA" d="M2700.5,97.8l1-0.3 1-0.4 1-0.4 1-0.3 1,0 1,0.4 1,0.8 1,1 1,1.1 1,1.5 1,1.9 1,1.3 1-0.2 1-1.4 1-1.6 1-1.1 1-0.8 1-0.3 1,0.6 1,1.5 1,1.4 1,0.4 1-0.7 1-1.5 1-1.4 1-0.5 1,0.5 1,0.7 1,0.3 1-0.3 1-0.7 1-0.9 1-0.8 1-0.2 1,0.7 1,0.8 1,0.3 1-0.3 1-0.2 1,0.3 1,0.9 1,1 1,1 1,0.6 1,0 1-0.3 1-0.4 1-0.1 1-0.1 1,0.2 1,0.2 1-0.3 1-1 1-0.8 1,0.2 1,0.4 1-0.1 1-0.4 1-0.8 1-1.1 1-1 1-0.1 1,0.8 1,1.3 1,1.4 1,1.1 1,0.5 1,0.1 1-0.2 1,0 1,0.1 1,0.1 1-0.2 1-0.7 1-1.2 1-1.1 1-0.2 1,0.8 1,1.1 1,0.5 1-0.2 1-0.6 1-0.6 1-0.5 1-0.7 1-0.1 1,0.5 1,0.4 1-0.2 1-0.2 1,0.3 1,0.5 1-0.2 1-1.5 1-2 1-1.3 1,0.6 1,1.8 1,1.5 1,0.4 1-0.5 1-0.5 1-0.4 1,0 1,0.6 1,1.1 1,0.6 1,0.5 1,1.1 1,1.5 1,0.8 1-0.7 1-1.6 1-1.5 1-1.3 1-1.3 1-1.6 1-1.3 1-0.5 1,0.7 1,1.7 1,1.8 1,1 1,0.2 1-0.3 1-0.5 1-0.2 1,0 1-0.2 1-0.2 1,0.3 1,1 1,0.7 1,0.2 1-0.4 1-0.6 1-0.1 1,0.6 1,0.8 1,0.3 1-0.4 1-0.5 1-0.2 1-0.1 1-0.2 1-0.5 1-0.9 1-1 1-0.5 1,0.2 1,0.8 1,1.1 1,0.8 1,0.4 1-0.2 1-0.3 1-0.2 1,0.1 1,0.7 1,0.9 1,0.8 1,0 1-0.3 1-0.5 1-0.6 1-1 1-0.7 1-0.2 1,0.3 1,0.5 1,0.4 1,0.6 1,0.7 1,0.3 1-0.1 1,0 1,0.1 1-0.6 1-1.7 1-1.4 1,0 1,0.6 1,0.2 1-0.5 1-0.4 1,0.1 1,0.5 1,0.7 1,0.5 1,0.2 1,0.1 1,0.2 1,0.4 1,0.1 1-0.3 1-0.7 1,0.6 1,8.4 1,15.3 1,19.1 1,20.1 1,18.6 1,15.7 1,16.3 1,17.1 1,17.3 1,16.7 1,15.2 1,13.4 1,11.7 1,10.2 1,9.8 1,10.1 1,11.1 1,12 1,12.2 1,12.4 1,12.1 1,11.5 1,10.9 1,10.6 1,10 1,9.3 1,8.9 1,9.3 1,10 1,10.9 1,11.2 1,11 1,10.2 1,9.4 1,8.4 1,7.2 1,6.6 1,6.1 1,5.4 1,5.1 1,4.9 1,5 1,5.5 1,6.2 1,7.1 1,8.1 1,8.3 1,8 1,7.2 1,6.3 1,5.9 1,5.5 1,5.2 1,4.9 1,4.7 1,4.2 1,3.9 1,4 1,3.8 1,3.4 1,3.2 1,2.8 1,2 1,1 1-0.9 1-3.2 1-4.7 1-5.2 1-4.8 1-5.2 1-5.1 1-4.9 1-4.6 1-4.3 1-3.8 1-3.5 1-3.3 1-2.9 1-2.3 1-2.3 1-2.6 1-2.7 1-2.7 1-2.8 1-3.2 1-3.7 1-4 1-4.6 1-5.4 1-6 1-6.4 1-6.5 1-6.3 1-6.1 1-6.1 1-6.1 1-6.2 1-6.3 1-6.2 1-6.1 1-6.1 1-6.2 1-6.6 1-7 1-7.3 1-7.4 1-7.6 1-7.1 1-6.4 1-5.8 1-5.7 1-6.1 1-6.4 1-6.6 1-6.8 1-6.9 1-7.2 1-8 1-8.5 1-8.4 1-8 1-8.2 1-8.3 1-8.1 1-7.6 1-7.2 1-6.7 1-6.1 1-5.9 1-6 1-6 1-5.9 1-6 1-6.1 1-6.5 1-6.5 1-6.4 1-6.2 1-6 1-5.9 1-6.1 1-6.3 1-6.5 1-6.5 1-6.5 1-6.9 1-7.5 1-7.8 1-7.5 1-7 1-7.1 1-7.4 1-7.5 1-7.4 1-7.2 1-6.9 1-6.6 1-6.5 1-6 1-5.2 1-5 1-5.2 1-5.5 1-5.1 1-4.2 1-3.8 1-3.7 1-3.8 1-3.9 1-3.5 1-2.7 1-2.5 1-2.5 1-2.4 1-2 1-1.7 1-1.3 1-1.1 1-1.1 1-1.1 1-1.4 1-1.4 1-1.1 1-0.7 1-0.5 1-0.5 1-0.4 1,0 1,0.2 1,0.3 1,0.2 1,0.5 1,0.9 1,1.4 1,1.7 1,1.5 1,1.5 1,1.2 1,1.3 1,1.4 1,2.2 1,2.8 1,3.1 1,3.1 1,3 1,2.9 1,2.5 1,2.1 1,2.7 1,3 1,3.1 1,2.7 1,1.9 1,0.9 1,0.2 1,0.3 1,0.5 1,0.4 1,0.2 1-0.1 1-0.3 1-0.6 1-0.5 1,0.2 1,0.9 1,0.5 1-0.2 1-0.4 1-0.1 1,0.1 1,0.1 1,0 1-0.4 1-0.5 1-0.5 1,0.1 1,0.4 1,0.4 1,0 1,0 1,0.3 1,0.7 1,0.7 1,0.1 1-0.5 1-0.3 1,0.5 1,0.8 1,0.3 1-0.7 1-1.6 1-1.5 1-0.7 1,0.4 1,1.2 1,1.4 1,0.8 1-0.3 1-1.2 1-1.7 1-1.5 1-0.8 1,0.6 1,1.2 1,1 1,0.6 1,0.4 1,0.2 1-0.5 1-1.1 1-0.8 1-0.2 1,0.4 1,0.6 1,0.6 1,0.7 1,0.8 1,0.8 1,0.6 1,0.1 1-0.1 1-0.1 1,0.1 1,0.3 1,0.2 1-0.1 1-0.8 1-1.3 1-0.8 1,0.5 1,1.5 1,1 1-0.3 1-0.8 1-0.1 1,0.6 1,0.5 1-0.6 1-1.7 1-1.8 1-0.9 1,0.3 1,1.1 1,1.5 1,1.5 1,0.7 1-0.4 1-0.9 1-0.6 1,0 1,0.2 1-0.2 1-1 1-0.9 1,0 1,0.7 1,0.5 1,0.1 1,0.3 1,0.6 1,0.2 1-1.2 1-1.8 1-1.2 1,0.2 1,1.4 1,1.4 1,0.5 1-0.4 1-0.8 1-0.9 1-0.3 1,0.7 1,1.5 1,0.9 1-0.3 1-1.1 1-1 1-0.4 1,0.2 1,0.6 1,0.3 1,0 1,0 1,0.7 1,1.2 1,0.7 1-0.1 1-0.8 1-1.1 1-1 1-0.6 1,0.1 1,0.5 1,0.4 1,0.1 1,0.2 1,0.7 1,1 1,0.8 1,0.1 1-0.7 1-1.2 1-1.1 1-0.5 1,0.1 1,0.7 1,0.7 1,0.5 1,0.3 1,0.3 1,0.3 1,0.2 1-0.2 1-0.6 1-0.4 1,0.1 1,0 1-0.8 1-1.4 1-1.2 1-0.4 1,0.7 1,1.3 1,1.4 1,0.6 1-0.6 1-1.8 1-2.2 1-1.8 1-0.5 1,1.7 1,2.7 1,1.9 1,0.3 1-0.4 1-0.2 1,0.1 1,0 1-0.2 1-0.3 1,0 1,0.3 1,0.2 1-0.2 1-0.7 1-0.8 1-0.2 1,0.7 1,1.3 1,0.7 1-0.3 1-1 1-0.5 1,0.4 1,0.8 1,0.4 1-0.1 1,0.1 1,0.5 1,0 1-1 1-1.5 1-1.3 1-0.6 1,0.3 1,1 1,1.2 1,0.9 1,0.1 1-0.2 1,0.1 1,0.5 1,0.4 1,0.3 1,0.2 1,0.2 1-0.1 1-0.4 1-0.7 1-0.4 1,0.2 1,0.6 1,0.6 1,0.1 1-0.8 1-1.3 1-1.2 1-0.3 1,0.6 1,1 1,0.4 1-0.6 1-1.2 1-1.3 1-0.9 1,0 1,1.2 1,2 1,1.6 1,0.6 1-0.1 1-0.4 1-0.2 1-0.3 1-0.4 1-0.8 1-0.8 1-0.1 1,0.2 1-0.4 1-1.2 1-0.9 1,0 1,0.5 1,0.9 1,0.7 1,0.5 1,0.1 1-0.1 1-0.4 1-0.5 1-0.4 1,0.4 1,1.3 1,1.4 1,0.3 1-0.4 1-0.5 1-0.1 1,0.4 1,0.3 1-0.3 1-0.5 1,0.4 1,1.1 1,0.8 1,0 1-0.7 1-1 1-0.9 1-0.2 1,0.2 1,0.5 1,0.5 1,0.2 1-0.3 1-0.5 1-0.3 1-0.4 1-0.9 1-0.7 1,0.6 1,1.6 1,1.6 1,0.7 1-0.2 1-0.5 1-0.3 1,0.1 1-0.3 1-0.8 1-1.4 1-1.4 1-1.1 1-0.2 1,0.3 1-0.1 1,0 1,0.8 1,1.6 1,1.5 1,0.5 1-0.4 1-0.5 1-0.1 1,0.6 1,0.5 1-0.6 1-0.8 1,0.1 1,0.9 1,0.8 1,0.4 1,0.3 1,0.5 1-0.4 1-1.6 1-1.9 1-1.1 1,0.7 1,1.9 1,1.8 1,0.6 1-0.2 1-0.5 1-0.6 1-0.5 1-0.1 1,0.7"/>
<path id="ccISTA" d="M2700.5,100l1,0 1,0 1,0 1,0 1,0 1,0 1,0 1,0 1,0 1,0 1,0 1,0 1,0 1,0 1,0 1,0 1,0 1,0 1,0 1,0 1,0 1,0 1,0 1,0 1,0 1,0 1,0 1,0 1,0 1,0 1,0 1,0 1,0 1,0 1,0 1,0 1,0 1,0 1,0 1,0 1,0 1,0 1,0 1,0 1,0 1,0 1,0 1,0 1,0 1,0 1,0 1,0 1,0 1,0 1,0 1,0 1,0 1,0 1,0 1,0 1,0 1,0 1,0 1,0 1,0 1,0 1,0 1,0 1,0 1,0 1,0 1,0 1,0 1,0 1,0 1,0 1,0 1,0 1,0 1,0 1,0 1,0 1,0 1,0 1,0 1,0 1,0 1,0 1,0 1,0 1,0 1,0 1,0 1,0 1,0 1,0 1,0 1,0 1,0 1,0 1,0 1,0 1,0 1,0 1,0 1,0 1,0 1,0 1,0 1,0 1,0 1,0 1,0 1,0 1,0 1,0 1,0 1,0 1,0 1,0 1,0 1,0 1,0 1,0 1,0 1,0 1,0 1,0 1,0 1,0 1,0 1,0 1,0 1,0 1,0 1,0 1,0 1,0 1,0 1,0 1,0 1,0 1,0 1,0 1,0 1,0 1,0 1,0 1,0 1,0 1,0 1,0 1,0 1,0 1,0 1,0 1,0 1,0 1,0 1,0 1,0 1,0 1,0 1,0 1,0 1,0 1,0 1,0 1,0 1,0 1,0 1,0 1,0 1,0 1,0 1,0 1,0 1,0 1,0 1,0 1,0 1,0 1,0 1,0 1,0 1,0 1,0 1,0 1,0 1,0 1,0 1,0 1,1.2 1,8.8 1,15.2 1,18.8 1,19.9 1,18.3 1,15.1 1,15.4 1,15.7 1,15.5 1,14.4 1,12.6 1,10.2 1,7.3 1,6.4 1,5.7 1,5.3 1,4.7 1,4.4 1,3.9 1,3.5 1,3.3 1,3 1,2.8 1,2.8 1,2.8 1,2.7 1,2.6 1,2.3 1,2 1,1.6 1,1.1 1,0.6 1,0 1-0.4 1-0.9 1-1.2 1-1.4 1-1.8 1-1.9 1-2 1-2.1 1-2.1 1-2.2 1-2.5 1-2.9 1-3.2 1-3.5 1-3.7 1-3.9 1-4 1-4.1 1-4.1 1-4.1 1-4.3 1-4.5 1-4.7 1-4.8 1-5 1-5.2 1-5.2 1-5.2 1-5.3 1-5.3 1-5.3 1-5.3 1-5.2 1-5.1 1-5 1-5.1 1-5.2 1-5.2 1-5.2 1-5.2 1-5.1 1-5.1 1-5 1-4.9 1-4.7 1-4.6 1-4.4 1-4.4 1-4.4 1-4.4 1-4.3 1-4.3 1-4.1 1-4 1-3.8 1-3.6 1-3.4 1-3 1-2.8 1-2.5 1-2.3 1-2.3 1-2 1-1.9 1-1.8 1-1.5 1-1.4 1-1.2 1-1.2 1-1.2 1-1 1-0.9 1-0.7 1-0.4 1,0 1,0 1,0 1,0 1,0 1,0.1 1,0.2 1,0.1 1,0 1-0.1 1-0.2 1-0.2 1,0 1-0.1 1,0.1 1,0.2 1,0.2 1,0.3 1,0.4 1,0.4 1,0.4 1,0.3 1,0.4 1,0.2 1,0.2 1,0.1 1-0.1 1-0.1 1-0.2 1-0.3 1-0.2 1-0.3 1-0.3 1-0.3 1-0.2 1-0.2 1-0.1 1-0.1 1,0.1 1,0.1 1,0.2 1,0.1 1,0.2 1,0.2 1,0.2 1,0.2 1,0.1 1,0.2 1,0 1,0.1 1,0.2 1-0.1 1,0.1 1,0 1,0.1 1,0.1 1,0.1 1,0 1,0.1 1-0.1 1,0 1-0.1 1,0 1-0.2 1-0.1 1-0.2 1-0.1 1-0.3 1-0.1 1-0.2 1-0.1 1-0.2 1-0.1 1-0.1 1-0.1 1-0.1 1,0 1,0 1,0 1,0.1 1,0.1 1,0.1 1,0.2 1,0.1 1,0.1 1,0.2 1,0.2 1,0.1 1,0.3 1,0.2 1,0.2 1,0.1 1,0.2 1,0.1 1,0.1 1,0 1,0.1 1,0 1-0.1 1,0 1-0.3 1-0.1 1-0.1 1-0.2 1-0.1 1-0.1 1-0.2 1,0 1,0 1,0 1,0 1,0.1 1,0.1 1,0.2 1,0.2 1,0.1 1,0.2 1,0 1,0 1,0 1-0.1 1,0 1-0.3 1-0.2 1-0.3 1-0.3 1-0.3 1-0.1 1-0.3 1-0.1 1-0.1 1,0.1 1,0 1,0.2 1,0.1 1,0.3 1,0.2 1,0.2 1,0.3 1,0.2 1,0.2 1,0.1 1,0.1 1,0.1 1,0 1,0.1 1,0 1,0 1,0 1,0.1 1,0 1,0.1 1,0 1,0.2 1,0.1 1,0.1 1,0.2 1,0.2 1,0.1 1,0.1 1,0 1,0.1 1,0 1-0.2 1-0.1 1-0.2 1-0.2 1-0.3 1-0.2 1-0.3 1-0.2 1-0.2 1-0.1 1-0.1 1,0 1,0 1,0 1,0.1 1,0.1 1,0.1 1,0.1 1,0.1 1,0 1,0 1,0.1 1,0 1,0 1-0.1 1,0 1-0.1 1,0 1-0.1 1,0 1,0 1,0 1,0 1,0.1 1,0.1 1,0.1 1,0.1 1,0.2 1,0.2 1,0.3 1,0.3 1,0.2 1,0.1 1,0.3 1,0.1 1,0 1,0 1-0.1 1-0.1 1-0.2 1-0.3 1-0.3 1-0.1 1-0.3 1-0.2 1-0.1 1-0.2 1-0.2 1,0 1-0.1 1-0.1 1-0.1 1-0.1 1-0.2 1-0.2 1-0.2 1-0.2 1-0.2 1-0.2 1-0.1 1-0.1 1-0.1 1,0 1,0 1,0.1 1,0.1 1,0.2 1,0.3 1,0.3 1,0.3 1,0.3 1,0.3 1,0.3 1,0.4 1,0.2 1,0.2 1,0.1 1,0.1 1,0.1 1-0.1 1-0.1 1,0 1-0.1 1-0.1 1-0.1 1-0.2 1-0.1 1-0.2 1-0.2 1-0.2 1-0.4 1-0.3 1-0.3 1-0.4 1-0.4 1-0.2 1-0.2 1-0.1 1,0.1 1,0.1 1,0.3 1,0.3 1,0.4 1,0.5 1,0.4 1,0.4 1,0.4 1,0.3 1,0.2 1,0.1 1,0 1,0.1 1,0 1,0 1,0 1,0 1-0.1 1,0 1-0.1 1-0.1 1-0.1 1,0 1-0.1 1-0.1 1-0.1 1-0.1 1-0.1 1-0.1 1,0 1-0.1 1,0.1 1,0 1,0 1,0 1,0 1,0 1,0 1,0.2 1,0.1 1,0 1,0.2 1,0 1,0.1 1,0 1,0.1 1,0 1,0 1,0 1-0.2 1,0.1 1-0.1 1-0.1 1,0 1,0 1,0.1 1,0 1,0.1 1,0.1 1-0.1 1,0 1,0 1-0.1 1,0 1-0.2 1-0.2 1-0.1 1-0.2 1-0.1 1-0.2 1,0.1 1-0.1 1,0.1 1,0.1 1,0.1 1,0.2 1,0.1 1,0.1 1,0.1 1-0.1 1-0.1 1-0.1 1-0.1 1-0.1 1-0.1 1-0.2 1-0.1 1-0.2 1,0 1-0.1 1,0 1,0 1,0.1 1,0.1 1,0.1 1,0.1 1,0.1 1,0 1,0.1 1-0.1 1,0.1 1-0.1 1-0.1 1-0.1 1-0.1 1-0.1 1,0 1-0.1 1,0 1,0 1,0.1 1,0.1 1,0.2 1,0.1 1,0.1 1,0.1 1,0.2 1,0.2 1,0.1 1,0.2 1,0.1 1,0.1 1,0.1 1,0 1,0 1,0 1,0.1 1,0 1-0.1 1,0 1,0 1,0 1-0.1 1-0.1 1,0 1,0 1,0 1-0.1 1,0 1-0.1 1-0.1 1-0.1 1-0.2 1-0.1 1-0.2 1-0.1 1-0.1 1-0.2 1-0.1 1,0.1 1,0 1,0 1,0.2 1,0.2 1,0.2 1,0.2 1,0.2 1,0.3 1,0.2 1,0.2 1,0.3 1,0.2 1,0.1 1,0.1 1,0 1,0 1-0.1 1-0.1 1-0.2 1-0.1 1-0.3 1-0.2 1-0.2 1-0.2 1-0.2 1-0.1 1-0.1 1-0.1 1,0 1,0.1 1,0"/>
<path id="cdPI" d="M569.5,1696.7l1,0 1-1 1-1.2 1-0.7 1,0.4 1,1.3 1,0.7 1-0.3 1-0.9 1-0.3 1,0.2 1,0 1-0.8 1-1.2 1-0.9 1-0.3 1,0.2 1,0.5 1,0.6 1,0.6 1,0.7 1,0.6 1,0.2 1-0.4 1-0.9 1-0.9 1-0.6 1-0.1 1,0.5 1,0.9 1,0.9 1,1.2 1,1.9 1,2.1 1,0.8 1-0.7 1-1.8 1-1.7 1-1.3 1-0.6 1-0.4 1-0.5 1-0.6 1-0.1 1,0.6 1,1 1,0.7 1,0.4 1,0.2 1,0.1 1-0.2 1-0.1 1,0.4 1,0.8 1,0.9 1,0.6 1,0.4 1,0.4 1,0.3 1-0.3 1-1.9 1-2.9 1-1.9 1,0.3 1,1.3 1,0.7 1,0.1 1,0.4 1,1.2 1,1.9 1,1.8 1,0.8 1-0.8 1-1.7 1-1.9 1-1.3 1-0.6 1-0.3 1-0.1 1-0.1 1-0.1 1-0.1 1,0.1 1-0.1 1,0 1-0.5 1-1.4 1-5.2 1-19.3 1-24.2 1-23.9 1-25.4 1-20.9 1-16.3 1-15.1 1-16.6 1-20.1 1-25.4 1-26.1 1-22.1 1-24.2 1-29 1-28 1-24.6 1-25.8 1-21.7 1-12 1,2.2 1-2.5 1-5.9 1-8.1 1-8.9 1-9 1-7.9 1-6.1 1-5.7 1-5.4 1-5.4 1-5.1 1-4.6 1-4.2 1-3.8 1-3.4 1-3 1-2.7 1-2.7 1-2.7 1-2.8 1-2.7 1-2.4 1-2.2 1-2.5 1-2.4 1-2.2 1-2 1-1.8 1-1.7 1-1.4 1-1 1-0.9 1-0.9 1-0.5 1,0.1 1,0.4 1,0.7 1,0.8 1,0.9 1,0.8 1,0.5 1,0.6 1,1.1 1,1.9 1,2.4 1,2.4 1,2.3 1,2.1 1,2.1 1,2.4 1,2.7 1,3 1,3 1,3.1 1,3.3 1,3.1 1,3.1 1,2.9 1,2.7 1,2.5 1,2.5 1,2.6 1,3 1,3.7 1,4.4 1,4.6 1,4.4 1,4 1,4 1,4.2 1,4.2 1,4 1,4 1,4 1,4.3 1,4.6 1,4.7 1,4.5 1,3.8 1,3.4 1,3.3 1,3.5 1,3.8 1,4 1,4.3 1,4.5 1,4.4 1,4.3 1,4.1 1,4.1 1,4.1 1,4.3 1,4.2 1,3.8 1,3.2 1,2.6 1,2.7 1,3.5 1,5.2 1,7 1,5.7 1,4 1,3.8 1,4.3 1,5.1 1,6.4 1,6.8 1,5.2 1,4.2 1,3.4 1,2.9 1,3.3 1,3.6 1,4 1,4.2 1,4.7 1,6.1 1,6 1,4.8 1,4.8 1,4.3 1,3.8 1,3.2 1,2.7 1,2.5 1,2.5 1,2.8 1,3.1 1,3.2 1,3.2 1,3.1 1,3 1,3.1 1,3.2 1,3.3 1,2.9 1,2.5 1,2.4 1,2.6 1,2.9 1,3.1 1,3 1,2.6 1,2.4 1,2.5 1,2.6 1,2.8 1,2.5 1,2.3 1,2.5 1,2.7 1,2.7 1,2.5 1,2.1 1,2 1,1.9 1,2.1 1,2.2 1,2 1,1.6 1,1.6 1,2.2 1,2.5 1,2.5 1,2.2 1,1.9 1,1.8 1,1.9 1,2 1,2 1,1.9 1,1.8 1,1.8 1,1.6 1,1.6 1,1.5 1,1.6 1,1.7 1,1.9 1,1.9 1,1.4 1,1.2 1,1.4 1,1.7 1,2 1,1.7 1,1 1,0.7 1,1 1,1.2 1,1 1,0.8 1,1 1,1.3 1,1.2 1,0.7 1,0.5 1,0.7 1,1.3 1,1.7 1,1.6 1,1.4 1,0.9 1,0.8 1,1.1 1,1.3 1,1 1,0.7 1,0.8 1,1.3 1,1.7 1,1.6 1,1.3 1,1 1,0.7 1,0.6 1,1 1,1.1 1,1.2 1,1 1,0.8 1,0.6 1,0.6 1,0.9 1,1.3 1,1.4 1,1.2 1,1 1,0.9 1,0.8 1,1 1,1.2 1,1.5 1,1.3 1,0.9 1,0.6 1,0.5 1,0.7 1,0.8 1,1 1,1.2 1,1.3 1,1.4 1,1.3 1,1.1 1,1.1 1,1.1 1,1.1 1,1.1 1,1.5 1,1.6 1,1.3 1,0.6 1,0.1 1,0.1 1,0.5 1,0.8 1,1.1 1,1 1,1 1,1 1,1.1 1,1.2 1,1.3 1,1.3 1,1.6 1,1.6 1,1.5 1,1.2 1,1.1 1,1.3 1,1.5 1,1.6 1,1.6 1,1.6 1,1.4 1,1 1,0.7 1,0.7 1,0.8 1,1 1,0.9 1,0.9 1,1 1,1.1 1,1.3 1,1.3 1,1 1,0.9 1,0.7 1,0.5 1,0.5 1,0.4 1,0.5 1,0.5 1,0.8 1,0.8 1,0.8 1,0.6 1,0.5 1,0.4 1,0.4 1,0.3 1,0.3 1,0.3 1,0.5 1,0.6 1,0.7 1,0.5 1,0.5 1,0.3 1,0.2 1,0.2 1,0.3 1,0.3 1,0.3 1,0.1 1-0.1 1,0.1 1,0.4 1,0.6 1,0.8 1,0.6 1,0.4 1,0.4 1,0.1 1-0.2 1-0.4 1-0.5 1-0.4 1-0.4 1-0.3 1-0.2 1-0.1 1,0.2 1,0.3 1,0.3 1-0.1 1-0.2 1-0.1 1,0.2 1,0.5 1,0.6 1,0.3 1-0.1 1-0.5 1-0.5 1-0.3 1-0.4 1-0.3 1-0.3 1-0.3 1-0.2 1,0.1 1,0.3 1,0.2 1-0.3 1-0.7 1-0.6 1-0.3 1,0.1 1,0 1-0.2 1-0.6 1-0.5 1-0.2 1,0.1 1,0.4 1,0 1-0.6 1-1 1-0.7 1-0.4 1-0.2 1-0.1 1-0.3 1-0.4 1-0.6 1-0.6 1-0.4 1-0.5 1-0.2 1,0.2 1,0.4 1,0.2 1-0.2 1-0.4 1-0.3 1-0.1 1-0.3 1-0.4 1-0.5 1-0.6 1-0.7 1-0.8 1-0.6 1-0.2 1,0.1 1-0.2 1-0.4 1-0.6 1-0.3 1,0 1,0 1-0.5 1-0.6 1-0.6 1-0.6 1-0.3 1-0.3 1-0.1 1-0.4 1-0.4 1-0.3 1,0 1,0 1-0.3 1-0.6 1-0.7 1-0.6 1-0.2 1,0.1 1-0.2 1-0.5 1-0.5 1-0.5 1-0.2 1,0.1 1,0 1-0.2 1-0.6 1-0.5 1-0.4 1-0.1 1-0.1 1,0 1-0.1 1-0.1 1-0.2 1-0.2 1-0.5 1-0.7 1-0.8 1-0.8 1-0.6 1-0.5 1-0.4 1-0.2 1,0.2 1,0.2 1,0.3 1,0.1 1,0 1-0.2 1-0.3 1-0.2 1-0.1 1-0.3 1-0.1 1-0.2 1-0.4 1-0.5 1-0.3 1,0 1,0.3 1,0.2 1-0.3 1-0.6 1-1 1-1.5 1-1.3 1,0.2 1,1.4 1,1.4 1,0.7 1-0.3 1-0.4 1,0 1,1.1 1,1.5 1,0.9 1-0.6 1-1.4 1-1.3 1-1.1 1-0.7 1,0.2 1,1 1,1.2 1,0.7 1,0.2 1-0.5 1-0.9 1-0.3 1,0.7 1,0.9 1,0.2 1-0.3 1-0.1 1,0.3 1,0.1 1-0.5 1-0.9 1-0.2 1,0.6 1,0.6 1-0.1 1-0.3 1,0.3 1,0.6 1,0.5 1,0.1 1,0 1,0.5 1,1.2 1,0.8 1-0.4 1-1.6 1-1.7 1-1 1-0.7 1-0.9 1-0.5 1,0.2 1,0.3 1-0.1 1-0.4 1,0.2 1,1 1,0.8 1-0.1 1-0.6 1-0.2 1,0.4 1,0.9 1,0.8 1,0.5 1,0.3 1-0.3 1-1.3 1-1.6 1-0.7 1,0.2 1,0.6 1,0.4 1,0.2 1,0.2 1,0.3 1,0.5 1-0.1 1-0.9 1-1 1-0.3 1-0.1 1-0.3 1-0.5 1-0.2 1,0.1 1,0.2 1,0.3 1,0.4 1,0.2 1-0.5 1-1.4 1-1.5 1-0.6 1,1 1,2.2 1,2.5 1,1.6 1,0.3 1-1 1-1.6 1-0.8 1,0.7 1,1.6 1,1.1 1,0.4 1,0 1-0.5 1-1.2 1-1.1 1-0.4 1,0.4 1,0.6 1,0.8 1,0.9 1,0.7 1-0.1 1-0.4 1-0.3 1-0.4 1-0.6 1-0.9 1-1 1-0.5 1,0.8 1,2.5 1,3.1 1,1.8 1-0.3 1-2.2 1-2.8 1-2.1 1-0.6 1,0.4 1,0.4 1-0.6 1-1.5 1-1.3 1-0.2 1,1.2 1,1.5 1,0.7 1-0.3 1-0.4 1,0.3 1,1 1,1 1,0.1 1-0.6 1-0.3 1,0.5 1,0.7 1-0.1 1-1.2 1-1.4 1-0.8 1-0.1 1-0.1 1,0 1,0.2 1,0.3 1,0.3 1,0.4 1,0.2 1-0.7 1-1.2 1-0.2 1,0.9 1,1.3 1,0.9 1,0 1-0.6 1-0.9 1-0.7 1,0"/>
<path id="cdLADRC" d="M569.5,1694.8l1,0 1-0.7 1-1.3 1-0.8 1,0.6 1,1.5 1,1.4 1,0.6 1,0 1-0.5 1-0.9 1-0.8 1-0.8 1-1.2 1-1.4 1-0.7 1,0.4 1,1.2 1,1.3 1,0.7 1-0.4 1-0.6 1-0.1 1,0.5 1,0.3 1-0.3 1-0.1 1,0.6 1,0.9 1,0.7 1,0.3 1-0.2 1-0.3 1-0.2 1,0.2 1,0.7 1,1.1 1,0.9 1,0 1-0.9 1-1.4 1-1.2 1-1.1 1-1 1-0.1 1,1.1 1,1.5 1,1 1,0.2 1-0.3 1-0.6 1-1.2 1-1.3 1-1.1 1-0.4 1,0.2 1,0.5 1,0.5 1,0.4 1,0 1-0.1 1,0.2 1,0.7 1,0.9 1,0.5 1-0.1 1-0.4 1,0 1,0.6 1,0.7 1-0.1 1-0.4 1,0.2 1,0.7 1,0.3 1-0.6 1-0.8 1-0.2 1,0.1 1,0.3 1,0.2 1-0.1 1-0.2 1-0.3 1,0 1-0.7 1-1.8 1-5.3 1-19.1 1-23.9 1-24.1 1-26 1-21.3 1-16.2 1-14.7 1-15.8 1-19.8 1-25.6 1-26.6 1-22.6 1-24.3 1-28.9 1-27.6 1-22.5 1-20.8 1-19.1 1-16.9 1-14 1-12 1-10.1 1-8.7 1-8.5 1-9.8 1-12.2 1-12.8 1-11.6 1-8.4 1-3.8 1-1.8 1-1.3 1,0 1,2.5 1,4 1,4.8 1,5.2 1,7.1 1,8.3 1,8.3 1,7.2 1,5.3 1,3.7 1,3.5 1,3.6 1,4.3 1,5.9 1,16.4 1,10.8 1,6.7 1,5.1 1,5.4 1,7.5 1,12.8 1,17.3 1,10.2 1,8.1 1,7.2 1,7.8 1,8.4 1,8.8 1,9.4 1,9.8 1,10.7 1,10.9 1,10.4 1,9.2 1,7.8 1,7.2 1,7.1 1,7.2 1,7.8 1,8.9 1,9.8 1,9.7 1,8.5 1,7.6 1,7 1,6.4 1,6 1,5.8 1,6.1 1,6.4 1,6.6 1,6.5 1,5.6 1,4.8 1,4.4 1,4.4 1,4.1 1,3.7 1,3.3 1,3 1,2.8 1,2.8 1,2.7 1,2.7 1,2.5 1,2.4 1,2.4 1,2.1 1,1.9 1,1.7 1,1.7 1,2 1,2.2 1,2 1,1.7 1,1.2 1,0.7 1,0.6 1,0.9 1,1.2 1,1.2 1,0.7 1,0.3 1,0.3 1,0.7 1,1.1 1,1 1,0.8 1,0.4 1,0.3 1,0.2 1,0.5 1,0.9 1,1.3 1,0.7 1-0.7 1-1.5 1-0.8 1,1.1 1,2.8 1,3 1,2.2 1,1.3 1,0.9 1,0.4 1,0.1 1,0.2 1,0.7 1,0.8 1,0.8 1,1.1 1,1 1,0.3 1-0.7 1-0.7 1,0.5 1,1.5 1,2 1,1.3 1,0.1 1-0.4 1,0.1 1,1 1,1.1 1,1 1,0.7 1,0.8 1,0.5 1,0.3 1-0.1 1-0.3 1-0.2 1,0.1 1,0.3 1,0.4 1,0.6 1,0.8 1,1.2 1,1.1 1,0.9 1,0.7 1,1 1,1.6 1,1.7 1,1 1-0.1 1-0.7 1-0.6 1,0.2 1,0.7 1,0.8 1,0.7 1,0.8 1,0.9 1,0.8 1,0.8 1,0.5 1-0.2 1-0.3 1,0.2 1,1 1,1.3 1,0.6 1-0.1 1,0.2 1,1.1 1,1.8 1,1.6 1,0.9 1,0.2 1-0.4 1-0.6 1-0.1 1-0.1 1-0.4 1-0.6 1-0.2 1,0.3 1,0.9 1,1 1,0.9 1,0.7 1,0.5 1,0.6 1,0.5 1-0.2 1-0.8 1-0.9 1-0.4 1,0 1,0.3 1,0.1 1-0.1 1-0.8 1-1.3 1-0.9 1,0.5 1,1.7 1,2.1 1,2 1,1.4 1,0.4 1-0.5 1-1.1 1-1.1 1-0.9 1-0.5 1-0.2 1-0.4 1-0.2 1,0.5 1,1.7 1,2.2 1,1.6 1,0.8 1,0.4 1,0.6 1,0.9 1,0.7 1-0.3 1-0.8 1-1 1-1.3 1-1.3 1-0.5 1,0.6 1,0.8 1,0.4 1,0 1,0.1 1,0.4 1,0.5 1,0.5 1,0.8 1,0.8 1,0.5 1-0.5 1-1.3 1-0.6 1,1.1 1,2.2 1,1.5 1-0.1 1-1.8 1-2.6 1-2 1-0.7 1,0.6 1,1 1,1 1,1.5 1,2.4 1,2.1 1,0.2 1-1.8 1-2.2 1-1 1,0.7 1,1.6 1,1.4 1,0.3 1-0.8 1-0.8 1,0 1,0.3 1,0.4 1,0.2 1,0.2 1,0 1-0.3 1-0.3 1-0.2 1-0.2 1-0.3 1-0.6 1-1.2 1-1.5 1-0.8 1,0.5 1,1.4 1,1.1 1,0.5 1,0.3 1,0.3 1-0.1 1-0.7 1-0.7 1-0.3 1-0.2 1-0.4 1-0.5 1-0.3 1,0.5 1,1 1,0.7 1,0.2 1-0.1 1,0.2 1-0.1 1-1.1 1-1.8 1-1.6 1-0.7 1,0.5 1,1.4 1,2.1 1,2.6 1,2.1 1,0.4 1-1.6 1-2.7 1-1.9 1,0.6 1,2.5 1,2.3 1,0.6 1-0.7 1-0.9 1,0.1 1,0.8 1,0.2 1-0.7 1-0.8 1-0.1 1-0.1 1-0.5 1-1 1-1.3 1-1.1 1-0.4 1,0.1 1,0.1 1-0.2 1,0 1,0.4 1,0.6 1,0.6 1,0.4 1,0 1-0.7 1-2.2 1-3 1-1.5 1,1.8 1,3.9 1,3.2 1,1.8 1,1.6 1,1.5 1,0.6 1-1 1-1.6 1-1.3 1-0.4 1,0.1 1-0.3 1-1 1-1.1 1-0.9 1-0.7 1-0.2 1,0.6 1,0.7 1,0 1-1 1-0.8 1,0.7 1,2.3 1,2.4 1,1.3 1,0.1 1-0.6 1-0.9 1-0.9 1-0.6 1-0.4 1-0.4 1-0.8 1-1 1-0.8 1,0 1,1.2 1,1.8 1,1 1,0 1,0 1,0.3 1,0.1 1-0.5 1-1 1-1.5 1-1.5 1-1.3 1-0.4 1,0.3 1,0.2 1-0.6 1,0 1,1.8 1,2.6 1,1.3 1-0.7 1-1.7 1-1.4 1-0.4 1,0.4 1,0.4 1,0 1-0.5 1-0.1 1,1.3 1,2.2 1,1.7 1,0.1 1-1.6 1-2.4 1-2 1-0.7 1,0.8 1,1.6 1,1.2 1,0.5 1,0.5 1,0.6 1,0 1-1.1 1-1.5 1-0.5 1,0.5 1,0.2 1-0.9 1-1.1 1-0.2 1,0.8 1,0.8 1,0.5 1,0.6 1,0.6 1,0.4 1,0.1 1-0.1 1-0.5 1-0.7 1-0.1 1,1.1 1,2.1 1,1.4 1-0.2 1-1.4 1-2.1 1-2.1 1-2.1 1-1.9 1-0.9 1,0.9 1,2.7 1,2.8 1,1.8 1,0.8 1,0.1 1-0.6 1-0.8 1-0.3 1,0.6 1,0.7 1,0.2 1-0.4 1-0.5 1-0.2 1,0.3 1,0.6 1,0.8 1,0.6 1-0.2 1-0.6 1-0.2 1,0.1 1,0.2 1-0.3 1-0.7 1-0.9 1-0.5 1-0.1 1,0.5 1,0.7 1,0.3 1-0.1 1,0 1,0.4 1,0.2 1-0.5 1-0.9 1-0.4 1,0.5 1,0.9 1,0.1 1-0.8 1-1.1 1-0.7 1-0.1 1,0.5 1,0 1-1.6 1-2.6 1-1.6 1,1 1,2.8 1,2.4 1,0.7 1-0.3 1-0.1 1,0.4 1,0.8 1,0.9 1,0.7 1,0.1 1-0.6 1-1.2 1-1.4 1-1.3 1-0.8 1-0.5 1-0.2 1,0.2 1,0.3 1,0.5 1,0.5 1,0.5 1,0.5 1,0.9 1,1 1,0.5 1-0.5 1-0.8 1-0.7 1-0.6 1-0.3 1,0.1 1,0.6 1,0.4 1-0.4 1-0.7 1-0.3 1,0.3 1,0.4 1,0.2 1,0.2 1,0 1-0.2 1-0.1 1,0.2 1-0.1 1-0.2 1-0.2 1,0 1,0.2 1,0.2 1,0.2 1,0.6 1,0.7 1,0.3 1-0.4 1-0.5 1-0.4 1-0.1 1,0.2 1,0.4 1-0.1 1-0.6 1-0.5 1,0 1,0.7 1,1 1,0.7 1-0.2 1-0.6 1-0.7 1-0.6 1-0.8 1-1.1 1-0.7 1-0.2 1-0.5 1-1.3 1-1.3 1-0.4 1,0.6 1,0.9 1,0.6 1,0.5 1,1.1 1,2 1,2.3 1,1.5 1,0 1-1.4 1-2.2 1-2 1-1.3 1-0.4 1,0.6 1,1.1 1,1.1 1,0.9 1,0.7 1,0.3 1-0.2 1-0.1 1,0.8 1,1.5 1,1.5 1,0.6 1-0.4 1-1 1-1 1-0.9 1-0.7 1,0.4 1,1.1 1,1.2 1,0.6 1,0.3 1,0.4 1,0.1 1-0.7 1-0.9 1-0.8 1-1 1-1.3 1-0.7 1,0.2 1,0.4 1-0.3 1-1.3"/>
<path id="cdSTA" d="M569.5,1693.9l1-0.9 1-0.9 1,0 1,0.9 1,1.3 1,0.8 1,0.3 1-0.2 1-0.4 1-0.4 1-0.1 1,0.3 1,0.6 1,0.7 1,0.5 1,0.1 1,0.3 1,0.8 1,0.7 1-0.2 1-1.4 1-2.2 1-2.6 1-2.5 1-2 1-0.3 1,0.9 1,0.8 1-0.4 1-0.6 1,0.6 1,1.5 1,1.3 1,0.6 1,0.6 1,1.3 1,1.5 1,1 1,0.2 1-0.3 1-0.5 1-0.8 1-1 1-1.1 1-0.9 1-0.3 1,0.1 1,0.3 1,0.3 1-0.1 1-0.5 1-0.2 1,0.2 1,0.3 1,0.1 1,0.4 1,0.7 1,0.9 1,0.8 1,0.4 1-0.4 1-1.1 1-1.6 1-1.2 1-0.2 1,0.7 1,0.9 1,1.1 1,0.9 1,0.1 1-0.8 1-1 1-0.7 1-0.5 1,0 1,0.6 1,0.8 1,0.8 1,0.5 1,0.5 1,0.2 1-0.1 1-0.2 1,0 1,0.2 1-0.6 1-1.7 1-4.9 1-18.5 1-23.3 1-23.9 1-26.2 1-21.8 1-16.9 1-14.9 1-15.9 1-19.8 1-25.8 1-26.5 1-22.2 1-23.7 1-28.3 1-27.4 1-23.4 1-22.2 1-20.5 1-17.5 1-13.9 1-11.4 1-9.6 1-8.7 1-9.1 1-9.9 1-10.4 1-10.3 1-10.1 1-9.3 1-8.3 1-7.2 1-6.7 1-6.1 1-5.9 1-6.6 1-5.7 1-2.9 1,0.1 1,0.5 1,0.7 1,1 1,1.3 1,1.5 1,1.8 1,1.9 1,1.8 1,1.9 1,2.4 1,3 1,3.8 1,5.1 1,5.8 1,6.3 1,6.7 1,7.3 1,7.7 1,7.6 1,7.2 1,7.5 1,8.3 1,9.2 1,9.9 1,10 1,9.7 1,9.4 1,9.1 1,8.9 1,8.9 1,9.2 1,9.7 1,10.1 1,10.8 1,12.1 1,13.1 1,13.5 1,12.9 1,11.3 1,9.9 1,9.1 1,9.1 1,9.2 1,9.3 1,9.3 1,9.6 1,9.5 1,10 1,10.9 1,12.3 1,14.1 1,19.9 1,25.4 1,17.3 1,8.8 1,6.8 1,5.3 1,4.9 1,5.5 1,6.8 1,7.2 1,7 1,6.9 1,7.1 1,7.4 1,7.9 1,7.8 1,7.5 1,7.4 1,7.2 1,7.1 1,6.6 1,6.1 1,5.2 1,4.8 1,4.4 1,4 1,3.6 1,3.4 1,3.6 1,3.1 1,1.7 1,0 1-0.3 1-0.1 1,0.1 1-0.1 1-0.6 1-1 1-1.5 1-1.6 1-1.7 1-1.6 1-1.6 1-1.5 1-1.4 1-1.6 1-2.2 1-3 1-3.3 1-3.6 1-4 1-4.2 1-4.3 1-4.5 1-4.9 1-5.3 1-5.4 1-5 1-4.4 1-3.9 1-3.6 1-3.7 1-3.6 1-3.1 1-2.5 1-2.4 1-2.9 1-3.1 1-2.8 1-2.1 1-1.1 1-0.3 1,0.4 1,1.5 1,2.3 1,2.9 1,3.4 1,3.7 1,4.8 1,4.9 1,4.2 1,2.8 1,1.6 1,1.3 1,1.1 1,0.7 1,0.7 1,0.7 1,0.8 1,0.8 1,0.9 1,1 1,1.1 1,1.4 1,1.9 1,2.2 1,2.1 1,1.5 1,1 1,0.9 1,1.2 1,1.4 1,1.6 1,1.5 1,1.7 1,1.7 1,1.7 1,1.8 1,2 1,2.3 1,2.6 1,2.5 1,2.1 1,1.6 1,1.2 1,0.8 1,0.4 1,0.4 1,0.4 1,0.5 1,0.4 1-0.1 1-0.3 1,0.1 1,0.6 1,0.3 1-0.2 1-0.6 1-0.8 1-0.9 1-1.4 1-1.8 1-2.1 1-2.2 1-2.9 1-3.6 1-3.8 1-3.3 1-2.2 1-1.2 1-0.5 1-0.7 1-0.8 1-0.5 1,0 1,0.1 1,0 1-0.3 1-0.5 1-0.6 1-0.7 1-0.2 1,0.3 1,0.4 1,0.1 1-0.1 1,0.1 1,0.4 1,0.4 1,0.2 1,0 1,0.1 1,0.3 1,0.6 1,0.8 1,1 1,0.7 1,0.4 1,0.1 1,0.4 1,0.5 1,0.4 1,0 1-0.3 1-0.1 1,0.3 1,0.5 1,0.5 1,0.7 1,0.6 1,0.5 1,0.4 1,0.2 1-0.2 1-0.6 1-0.5 1-0.2 1,0.2 1,0 1,0.1 1,0.4 1,0.6 1,0.7 1,0.6 1,0.4 1,0.6 1,0.9 1,0.6 1,0.3 1-0.3 1-0.8 1-1 1-1.3 1-1.2 1-0.7 1,0.8 1,1.8 1,1.2 1-0.7 1-1.7 1-0.9 1,0.3 1,1.1 1,0.8 1,0.3 1,0 1-0.2 1-0.4 1-0.7 1-0.7 1-0.5 1-0.2 1,0.4 1,0.8 1,0.7 1,0.5 1,0.2 1,0.2 1-0.4 1-1.4 1-1.6 1-0.8 1,0.4 1,0.7 1,0.6 1,0.4 1,0.3 1,0.6 1,0.9 1,0.9 1,0.4 1-0.4 1-0.8 1-0.2 1,0.8 1,0.8 1-0.5 1-2.2 1-2.7 1-1.8 1-0.5 1,0.2 1,0.6 1,1 1,1.1 1,0.7 1-0.2 1-0.8 1-0.8 1-0.6 1-0.3 1-0.1 1,0.2 1,0.6 1,0.4 1-0.5 1-0.9 1-0.2 1,1.2 1,1.8 1,1.7 1,1.4 1,1 1,0.4 1-0.5 1-0.8 1-0.3 1,0.1 1,0.2 1,0 1,0.2 1,0.1 1-0.4 1-1 1-0.9 1-0.5 1-0.2 1,0.2 1,0.3 1,0.3 1-0.2 1-0.5 1-0.5 1,0 1,0.7 1,0.9 1,0.2 1-0.5 1-0.8 1-0.7 1-0.6 1-0.3 1,0.5 1,0.9 1,0.6 1-0.3 1-0.9 1-0.5 1,0.7 1,2.1 1,2.1 1,0.4 1-0.8 1-0.5 1,0.1 1,0.1 1-0.6 1-1 1-1 1-0.9 1-0.3 1,0.5 1,0.9 1,0.5 1-0.4 1-1 1-1 1-0.7 1-0.4 1,0.4 1,1.1 1,1.3 1,0.9 1,0.2 1,0.3 1,1.2 1,1.6 1,0.6 1-0.9 1-1.6 1-1.5 1-1.4 1-0.7 1,0.3 1,1.6 1,1.4 1,0 1-1.3 1-1.1 1-0.2 1,0.3 1,0.2 1-0.2 1-0.3 1-0.1 1-0.3 1-0.6 1,0.2 1,1.6 1,2.2 1,1.4 1,0.2 1-0.4 1-0.1 1-0.1 1-0.5 1-1.2 1-1.6 1-1.6 1-0.8 1,0.1 1,0.7 1,0.8 1,0.8 1,0.9 1,0.3 1-0.3 1-0.8 1-0.8 1-0.3 1,0.4 1,0.4 1-0.3 1-0.6 1,0.5 1,1.3 1,0.9 1-0.2 1-0.6 1-0.6 1-0.7 1-0.9 1-0.4 1,0.3 1,0.3 1,0 1,0 1,0.6 1,1.4 1,1.2 1,0.4 1-0.4 1-0.3 1,0.3 1,0.7 1,0.5 1-0.2 1-0.5 1-0.4 1,0.1 1-0.3 1-1.1 1-1.4 1-0.6 1,0.2 1,0.5 1,0.3 1,0 1,0.1 1,0.8 1,1.3 1,0.9 1,0.1 1-0.7 1-0.9 1-1.1 1-1.2 1-0.9 1-0.6 1,0 1,1 1,1.4 1,1 1,0 1-0.7 1-0.5 1-0.1 1-0.1 1,0 1,0.1 1,0.2 1-0.6 1-0.9 1,0.1 1,1.5 1,1.8 1,0.8 1-0.7 1-1.6 1-0.9 1,0.6 1,1.4 1,1.1 1,0.4 1,0 1-0.1 1-0.7 1-1.6 1-1.7 1-0.6 1,1.1 1,1.3 1,0.1 1-1.1 1-0.6 1,0.6 1,0.9 1,0.8 1,0.4 1,0.1 1-0.1 1,0.1 1,0.5 1,0.3 1,0.1 1,0.2 1,0.2 1-0.5 1-0.6 1,0.2 1,1.1 1,1.5 1,1.2 1,0.3 1-1.2 1-2.1 1-1.9 1-0.7 1,0.4 1,1 1,0.9 1,0.6 1,0.2 1,0.3 1,0.8 1,0.3 1-0.6 1-1.4 1-2 1-1.8 1-0.3 1,1.5 1,1.9 1,0.8 1-0.6 1-0.8 1,0.2 1,0.9 1,0.7 1-0.2 1-0.6 1,0.1 1,0.7 1,0.5 1-0.1 1-0.6 1-0.6 1-0.1 1,0.2 1-0.3 1-1.6 1-1.9 1-0.9 1,0.7 1,1.4 1,0.7 1-0.7 1-1.6 1-1.1 1,0 1,0.7 1,0.6 1,0.4 1,0.8 1,1.4 1,0.9 1-0.2 1-1.4 1-1 1,0.1 1,0.4 1-0.1 1-0.7 1-0.5 1,0.5 1,1.4 1,1.2 1,0.4 1-0.4 1-0.8 1-0.7 1,0.1 1,1.2 1,1.4 1,0.5 1-0.3 1-0.8 1-0.7 1-0.6 1,0.2 1,1.3 1,1.7 1,1 1-0.4 1-2 1-2.5 1-1.7 1-0.3 1,1.1 1,1.6 1,0.9 1-0.3 1-0.7 1,0.1 1,0.7 1,0.7 1,0.3 1-0.2"/>
<path id="cdISTA" d="M569.5,1695l1,0 1,0 1,0 1,0 1,0 1,0 1,0 1,0 1,0 1,0 1,0 1,0 1,0 1,0 1,0 1,0 1,0 1,0 1,0 1,0 1,0 1,0 1,0 1,0 1,0 1,0 1,0 1,0 1,0 1,0 1,0 1,0 1,0 1,0 1,0 1,0 1,0 1,0 1,0 1,0 1,0 1,0 1,0 1,0 1,0 1,0 1,0 1,0 1,0 1,0 1,0 1,0 1,0 1,0 1,0 1,0 1,0 1,0 1,0 1,0 1,0 1,0 1,0 1,0 1,0 1,0 1,0 1,0 1,0 1,0 1,0 1,0 1,0 1,0 1,0 1,0 1,0 1,0 1,0 1,0 1,0 1,0 1,0 1-1.1 1-2.3 1-5.7 1-18.7 1-23.3 1-23.9 1-26.2 1-20.8 1-16.3 1-14.2 1-13.3 1-13.3 1-13.8 1-12.3 1-8.8 1-6.9 1-5.9 1-4.9 1-4.4 1-4.5 1-4.3 1-3.5 1-2.5 1-1.1 1,0.9 1,2.5 1,3.6 1,4.1 1,3.9 1,4.6 1,5.3 1,5.6 1,6 1,5.9 1,6 1,6.3 1,6.6 1,6.7 1,6.8 1,6.8 1,6.8 1,6.7 1,6.7 1,6.7 1,6.6 1,6.7 1,6.7 1,6.7 1,6.7 1,6.7 1,6.8 1,6.9 1,7 1,6.9 1,6.8 1,6.6 1,6.4 1,6 1,5.7 1,5.5 1,5.4 1,5.2 1,4.9 1,4.7 1,4.6 1,4.9 1,4.7 1,4.3 1,3.3 1,2 1,1.3 1,0.9 1-0.1 1-1.1 1-1.5 1-1.3 1-1.5 1-1.3 1-0.6 1,0 1,0 1,0 1,0 1,0 1,0 1,0 1,0 1,0 1,0 1,0 1,0.1 1,0.1 1,0.3 1,0.2 1,0.3 1,0.2 1,0 1-0.1 1-0.1 1-0.2 1,0 1-0.1 1,0 1,0.1 1,0.1 1,0 1-0.1 1-0.1 1-0.1 1-0.1 1,0 1,0 1,0.1 1,0.2 1,0.2 1,0.3 1,0.3 1,0.3 1,0.2 1,0.3 1,0.1 1,0 1,0 1-0.2 1-0.1 1-0.3 1-0.2 1-0.4 1-0.4 1-0.4 1-0.5 1-0.4 1-0.3 1-0.1 1-0.1 1,0.1 1,0.2 1,0.2 1,0.2 1,0.2 1,0.2 1,0.1 1,0 1,0.1 1,0 1-0.1 1-0.1 1-0.2 1-0.2 1-0.2 1-0.1 1-0.2 1,0 1,0 1,0.2 1,0.2 1,0.3 1,0.3 1,0.2 1,0.1 1,0 1-0.2 1-0.2 1-0.2 1-0.2 1-0.2 1-0.1 1-0.2 1,0 1,0 1,0 1,0 1,0.1 1,0.1 1,0.1 1,0.2 1,0.2 1,0.2 1,0.2 1,0.3 1,0.2 1,0.2 1,0.1 1,0.1 1,0 1-0.1 1-0.1 1,0 1-0.1 1,0 1,0 1,0 1-0.1 1-0.1 1-0.1 1-0.2 1-0.2 1-0.2 1-0.2 1-0.2 1-0.2 1-0.1 1-0.1 1-0.1 1-0.1 1,0.1 1,0 1,0.2 1,0.1 1,0.1 1,0 1,0.1 1,0 1,0.1 1,0.1 1,0.1 1,0.1 1,0.3 1,0.2 1,0.3 1,0.2 1,0.2 1,0.1 1,0 1,0 1,0 1-0.1 1,0 1,0.1 1,0 1,0.1 1,0.1 1,0 1,0 1,0 1-0.1 1,0 1-0.1 1,0 1,0 1,0 1,0 1,0 1,0 1,0.1 1-0.1 1,0 1,0 1-0.1 1-0.1 1-0.1 1-0.2 1-0.2 1-0.2 1-0.2 1-0.2 1-0.1 1-0.2 1,0 1-0.1 1,0 1,0 1,0.1 1,0.1 1,0.1 1,0.2 1,0.2 1,0.3 1,0.2 1,0.3 1,0.3 1,0.2 1,0.2 1,0.1 1,0.1 1,0 1-0.1 1-0.1 1-0.1 1-0.3 1-0.3 1-0.3 1-0.5 1-0.4 1-0.4 1-0.4 1-0.3 1-0.3 1-0.1 1-0.1 1,0.1 1,0.1 1,0.1 1,0.2 1,0.2 1,0.2 1,0.1 1,0.2 1,0.1 1,0.1 1,0.1 1,0.1 1,0 1,0.1 1,0.1 1,0 1,0.1 1,0 1,0 1-0.1 1,0 1-0.1 1-0.1 1-0.1 1-0.1 1-0.1 1,0 1-0.1 1-0.1 1-0.1 1,0 1-0.1 1,0 1-0.1 1,0 1,0 1,0 1,0.1 1,0.1 1,0.1 1,0.2 1,0.3 1,0.2 1,0.2 1,0.3 1,0.2 1,0.1 1,0.1 1-0.1 1-0.1 1-0.1 1-0.2 1-0.3 1-0.2 1-0.2 1-0.1 1-0.1 1,0 1,0 1,0.1 1,0.2 1,0.2 1,0.3 1,0.2 1,0.2 1,0.1 1,0 1,0 1-0.2 1-0.2 1-0.3 1-0.2 1-0.2 1-0.2 1-0.1 1,0 1,0.1 1,0.1 1,0.2 1,0.3 1,0.2 1,0.2 1,0.2 1,0.2 1,0.1 1,0.1 1,0 1,0 1-0.1 1,0 1-0.2 1-0.2 1-0.3 1-0.2 1-0.3 1-0.2 1-0.1 1-0.1 1,0.1 1-0.1 1,0 1,0 1-0.1 1,0 1-0.1 1,0 1,0.1 1,0.1 1,0.3 1,0.3 1,0.4 1,0.4 1,0.3 1,0.2 1,0.1 1,0 1-0.1 1-0.1 1-0.3 1-0.2 1-0.3 1-0.2 1-0.2 1-0.2 1-0.1 1,0 1,0.1 1,0.1 1,0.3 1,0.3 1,0.3 1,0.4 1,0.3 1,0.3 1,0.2 1,0.2 1,0 1,0 1-0.1 1-0.1 1-0.2 1-0.2 1-0.3 1-0.2 1-0.3 1-0.3 1-0.2 1-0.1 1,0 1-0.1 1,0 1,0 1,0 1,0 1-0.1 1,0.1 1,0 1,0.1 1,0.2 1,0 1,0.1 1,0.1 1,0 1,0 1,0 1,0 1,0.1 1,0.1 1,0.1 1,0.2 1,0.1 1,0.1 1,0.1 1,0 1-0.1 1-0.1 1-0.2 1-0.2 1-0.2 1-0.2 1-0.2 1-0.2 1-0.1 1-0.1 1-0.1 1,0.1 1,0.1 1,0.1 1,0.2 1,0.2 1,0.2 1,0.3 1,0.1 1,0.2 1,0.1 1,0 1,0.1 1-0.1 1-0.1 1-0.1 1-0.1 1-0.2 1-0.2 1-0.2 1-0.1 1-0.2 1,0 1,0.1 1,0 1,0.1 1,0.1 1,0.1 1,0.1 1,0 1,0 1,0 1,0 1,0 1,0 1,0 1,0 1,0 1,0 1-0.1 1,0 1,0 1,0 1,0.1 1,0.1 1,0.1 1,0.2 1,0.1 1,0 1,0 1-0.2 1-0.1 1-0.1 1-0.1 1-0.2 1-0.1 1-0.1 1-0.2 1,0 1-0.1 1,0 1,0 1,0 1,0.1 1,0 1,0.1 1,0 1,0 1,0 1-0.1 1,0 1-0.1 1-0.1 1,0 1-0.1 1-0.1 1,0 1,0 1-0.1 1-0.1 1-0.1 1,0 1,0 1,0 1,0.1 1,0.1 1,0.2 1,0.1 1,0.1 1,0.1 1,0.1 1,0 1,0.1 1,0 1,0 1,0.1 1-0.1 1-0.1 1-0.1 1-0.1 1-0.1 1-0.2 1-0.1 1,0 1-0.1 1-0.1 1-0.1 1-0.1 1,0 1,0 1,0 1,0 1-0.1 1,0 1-0.1 1-0.2 1-0.2 1-0.2 1-0.1 1,0 1,0 1,0.1 1,0.1 1,0.2 1,0.2 1,0.2 1,0.3 1,0.1 1,0.1 1,0.1 1,0 1-0.1 1,0 1-0.1 1-0.1 1-0.2 1,0 1-0.1 1,0 1,0 1,0 1,0.2 1,0.1 1,0.3 1,0.3 1,0.2 1,0.3 1,0.1 1,0.1 1,0.1 1-0.1 1,0 1-0.1 1-0.1 1,0 1,0 1,0 1,0 1,0.1 1,0 1-0.1 1-0.1 1-0.2 1-0.2 1-0.2 1-0.2 1-0.2 1-0.2 1-0.1 1-0.1 1-0.1 1,0 1,0 1,0.2 1,0.1 1,0.2 1,0.2 1,0.2 1,0.2 1,0.2 1,0.2 1,0.2 1,0.1 1,0 1,0 1-0.1 1-0.1 1-0.2 1-0.1 1-0.1 1-0.1 1,0 1,0.1 1,0.1 1,0.3 1,0.2"/>
<path id="cePI" d="M1623.2,1130.2l1,0.1 1,0.4 1,0.5 1-0.2 1-1.3 1-1.3 1-0.7 1,0.2 1,0.9 1,1.1 1,1.2 1,0.7 1,0.1 1-0.4 1-0.5 1-0.4 1-0.1 1,0 1,0.3 1,0.4 1,0.2 1-0.2 1-0.5 1-0.5 1-0.2 1,0.1 1,0.3 1,0.1 1-0.3 1-0.5 1-0.6 1-0.3 1,0 1,0.1 1-0.1 1-0.6 1-0.9 1-0.7 1,0 1,0.6 1,0.8 1,0.8 1,0.7 1,0.4 1,0.4 1,0.2 1,0.1 1-0.2 1-0.4 1-0.5 1-0.4 1-0.1 1,0.4 1,0.8 1,0.8 1,0.9 1,0.6 1,0.1 1-0.3 1-0.5 1-0.5 1-0.3 1-0.2 1-0.1 1,0 1-0.3 1-1 1-1.3 1-0.9 1,0.2 1,1 1,1 1,0.2 1-0.3 1-0.2 1,0.1 1,0.5 1,0.4 1,0.1 1-0.3 1-0.4 1-0.1 1,0.2 1,0.2 1-0.2 1-0.2 1,0.3 1,0.6 1,0.1 1-0.3 1-0.3 1,0.3 1,0.8 1,0.7 1,0.4 1-0.1 1-0.2 1-0.1 1,0 1,0 1,0.2 1,0.2 1,0 1-0.4 1-0.7 1-0.6 1-0.4 1-0.3 1,0.1 1,0.2 1,0.1 1-0.5 1-0.8 1-0.6 1-0.1 1,0.3 1,0.5 1,0.2 1,0 1-0.1 1,0.1 1,0.4 1,0.6 1,0.6 1,0.2 1-0.2 1-0.4 1-0.4 1-0.1 1,0.1 1,0.1 1,0.1 1,0 1,0.2 1,7.2 1,13 1,15.2 1,21 1,21.8 1,20.6 1,20.7 1,20.7 1,20.2 1,19.7 1,19.2 1,18.8 1,17 1,17.4 1,20.6 1,29.3 1,33.8 1,28.6 1,21.2 1,18.4 1,15.8 1,12.8 1,10.3 1,9 1,7.8 1,6.6 1,5.3 1,4 1,3.3 1,2.9 1,2.8 1,2.8 1,3 1,3 1,3.2 1,3.2 1,3 1,2.8 1,2.4 1,2.1 1,2.2 1,2 1,2 1,1.6 1,1.5 1,1.1 1,0.9 1,0.6 1-0.1 1-1.3 1-2.3 1-3.2 1-3.4 1-3.3 1-2.7 1-1.7 1-1.3 1-1.1 1-1 1-1.2 1-1.3 1-1.3 1-1.4 1-1.9 1-2.9 1-5.4 1-6.8 1-7.1 1-6.3 1-4.5 1-3 1-2.4 1-2.1 1-2.4 1-2.9 1-4.8 1-6.1 1-5.2 1-4.4 1-4.4 1-4.2 1-4.1 1-3.6 1-3.2 1-3.2 1-3.4 1-3.8 1-4.1 1-4.2 1-4 1-3.8 1-3.8 1-3.9 1-4.1 1-4.1 1-4 1-4 1-4 1-4.1 1-4.2 1-4.1 1-3.9 1-3.9 1-4 1-4.1 1-4.1 1-4 1-3.8 1-3.5 1-3.3 1-3.3 1-3.3 1-3.5 1-3.9 1-4.1 1-4.1 1-3.9 1-4.1 1-4.5 1-4.7 1-4.7 1-4.4 1-4.3 1-4.4 1-5.1 1-5.6 1-5.7 1-5.2 1-4.7 1-4.3 1-4.2 1-4.4 1-4.8 1-5.4 1-5.6 1-5.4 1-5.1 1-4.7 1-4.6 1-4.5 1-4.2 1-4.2 1-4.1 1-4.1 1-4 1-3.9 1-3.9 1-4 1-4.2 1-4.1 1-4 1-3.9 1-3.9 1-3.8 1-3.5 1-3.2 1-2.9 1-2.9 1-2.9 1-2.8 1-2.7 1-2.9 1-3 1-2.9 1-2.7 1-2.6 1-2.5 1-2.5 1-2.4 1-2.4 1-2.2 1-2.3 1-2.4 1-2.4 1-2.2 1-2.1 1-1.9 1-2 1-2 1-2.1 1-2 1-1.9 1-1.8 1-1.7 1-1.7 1-1.5 1-1.4 1-1.4 1-1.4 1-1.5 1-1.6 1-1.6 1-1.7 1-1.5 1-1.3 1-1.1 1-1.1 1-1 1-1 1-0.9 1-0.9 1-0.9 1-0.7 1-0.7 1-1 1-1.1 1-1 1-0.8 1-1 1-0.9 1-0.9 1-0.9 1-0.9 1-1 1-0.9 1-0.7 1-0.8 1-0.8 1-1 1-0.8 1-0.3 1,0 1,0.2 1,0 1-0.2 1-0.2 1-0.3 1-0.2 1-0.3 1-0.3 1-0.2 1,0.1 1,0.2 1-0.2 1-0.6 1-1 1-0.9 1-0.7 1-0.3 1,0.6 1,1.4 1,1.3 1-1 1-2.7 1-3.3 1-2.7 1-1.2 1,1 1,3 1,3.5 1,2.9 1-0.3 1-2.8 1-3.1 1-2.3 1-0.9 1,0.7 1,2.2 1,3.1 1,3.2 1,0.9 1-2.6 1-3.5 1-2.8 1-1.3 1,0.7 1,2.2 1,3 1,3 1,2 1-2.1 1-3.2 1-3.2 1-2.2 1-0.5 1,1.4 1,3 1,3.5 1,2.9 1-0.9 1-3.2 1-3.4 1-2.6 1-1 1,0.9 1,2.6 1,3.7 1,3.5 1,0.7 1-2.9 1-3.7 1-3.2 1-1.7 1,0.3 1,2.1 1,3.3 1,3.4 1,1.8 1-2.2 1-3.3 1-2.9 1-1.9 1-0.1 1,1.6 1,2.9 1,3.4 1,2.5 1-1.4 1-3.2 1-3.2 1-2.2 1-0.6 1,1.2 1,2.8 1,3.3 1,2.7 1-0.4 1-3 1-3.3 1-2.6 1-1.1 1,0.6 1,2.3 1,3.3 1,3.2 1,1.3 1-2.6 1-3.6 1-3.1 1-1.6 1,0.3 1,2 1,3.1 1,3.4 1,2.3 1-1.7 1-3 1-3.1 1-2 1-0.4 1,1.5 1,2.8 1,3.3 1,2.7 1-0.6 1-2.7 1-2.6 1-1.8 1-0.5 1,0.8 1,1.8 1,2.3 1,2.1 1,0.7 1-1 1-1.1 1-0.7 1,0 1,0.4 1,0.8 1,0.9 1,0.8 1,0.5 1-0.1 1-0.1 1,0.3 1,0.3 1,0.2 1-0.5 1-0.3 1-0.2 1-0.2 1-0.1 1,0.1 1-0.1 1-0.1 1-0.2 1-0.1 1,0.1 1,0.3 1,0.3 1,0.2 1-0.2 1-0.9 1-1.2 1-0.6 1,0.7 1,1.4 1,1.3 1,0.6 1-0.3 1-0.5 1,0 1,0.5 1,0.6 1,0.2 1-0.1 1-0.1 1-0.1 1-0.4 1-0.9 1-0.7 1,0.1 1,0.4 1,0.4 1,0 1,0 1,0.3 1,0.2 1-0.3 1-0.6 1,0 1,0.6 1,0.4 1-0.3 1-0.7 1-0.7 1-0.2 1,0.3 1,0.4 1-0.2 1-0.6 1-0.4 1,0.3 1,0.6 1,0.3 1,0 1,0.1 1,0.2 1,0 1-0.2 1,0.4 1,0.9 1,1 1,0.2 1-0.9 1-1.3 1-1 1-0.2 1,0.2 1,0.4 1,0.4 1,0.9 1,1.1 1,0.5 1-0.2 1-0.5 1-0.3 1,0.1 1,0.2 1,0 1-0.4 1-0.5 1-0.3 1-0.1 1,0 1,0.1 1,0.3 1,0.6 1,0.5 1,0.1 1-0.3 1-0.5 1,0.1 1,0.8 1,0.9 1,0.3 1-0.7 1-1.1 1-0.8 1-0.5 1-0.2 1-0.3 1-0.4 1-0.2 1,0.5 1,1.1 1,0.8 1,0.3 1-0.2 1-0.1 1,0 1-0.1 1-0.2 1-0.2 1-0.2 1-0.2 1-0.1 1,0.3 1,0.6 1,0.8 1,0.4 1-0.2 1-0.8 1-0.9 1-0.2 1,0.4 1,0.5 1,0.1 1-0.5 1-0.6 1-0.2 1,0.6 1,0.7 1,0.4 1-0.3 1-0.6 1-0.7 1-0.6 1-0.3 1,0.3 1,0.8 1,0.9 1,0.2 1-0.3 1-0.2 1-0.2 1-0.3 1-0.4 1-0.6 1-0.6 1-0.5 1-0.1 1,0.1 1,0.4 1,0.6 1,0.7 1,0.4 1,0.4 1,0.9 1,1.1 1,0.6 1,0.1 1,0 1-0.1 1,0.1 1-0.1 1-0.5 1-0.9 1-1.3 1-1.2 1-0.8 1-0.2 1,0.1 1,0.4 1,0.5 1,0.5 1,0.3 1-0.2 1-0.5 1-0.6 1-0.2 1,0 1,0.3 1,0.5 1,0.6 1,0.5 1,0.2 1-0.2 1-0.6 1-0.5 1,0 1,0.6 1,0.7 1,0.3 1,0 1-0.1 1,0.1 1,0.3 1,0.4 1-0.1 1-0.3 1-0.2 1-0.1 1,0.2 1,0.3 1,0.2 1,0 1-0.1 1-0.2 1,0.1 1,0 1-0.4 1-0.5 1-0.1 1,0.4 1,0.3 1,0.1 1-0.3 1-0.4 1-0.1 1,0.3 1,0.6 1,0.5 1,0.3 1-0.1 1-0.5 1-0.7 1-0.6 1-0.1 1,0.2 1,0.2 1,0 1-0.2 1-0.2 1-0.4 1-0.8 1-0.9 1-0.9 1-0.6 1-0.1 1,0.3 1,0.5 1,0.6 1,0.6 1,0.2 1-0.2 1-0.3 1,0.3 1,0.8 1,0.8"/>
<path id="ceLADRC" d="M1623.2,1129.5l1-0.6 1-0.6 1-0.1 1,0.4 1,0.7 1,0.6 1,0.5 1,0.5 1,0.4 1,0.2 1-0.3 1-0.7 1-0.8 1-0.5 1-0.1 1,0 1-0.2 1-0.4 1-0.4 1-0.4 1-0.5 1-0.2 1,0.5 1,0.9 1,0.9 1,0.5 1,0.2 1,0.1 1-0.1 1-0.2 1-0.1 1,0.4 1,0.6 1,0.2 1-0.1 1,0.1 1,0.8 1,0.9 1,0.1 1-1 1-1.3 1-0.9 1-0.1 1,0.1 1,0.1 1,0.3 1,0.6 1,0.9 1,0.5 1-0.1 1-0.9 1-1.1 1-0.8 1-0.3 1-0.2 1,0 1,0.4 1,0.6 1,0.2 1-0.1 1-0.2 1-0.1 1,0 1-0.2 1-0.2 1-0.3 1-0.2 1,0.2 1,0.4 1,0.4 1,0.1 1,0.2 1,0 1,0 1-0.2 1-0.4 1-0.5 1-0.1 1,0.3 1,0.8 1,1 1,0.9 1,0.4 1-0.2 1-0.7 1-0.7 1-0.4 1,0.1 1,0 1-0.4 1-0.4 1-0.1 1-0.1 1-0.2 1,0 1,0.4 1,0.4 1,0 1-0.3 1-0.2 1,0.1 1,0.1 1-0.1 1-0.1 1,0.3 1,0.9 1,1 1,0.2 1-1 1-1.4 1-0.8 1,0.2 1,0.8 1,0.5 1-0.2 1-0.6 1-0.2 1,0.2 1,0.4 1,0.2 1-0.1 1-0.4 1-0.7 1-0.5 1,0 1,0.2 1,0.4 1,0.4 1,0.2 1,0.3 1,0.2 1,0.1 1-0.1 1,0.1 1,7.1 1,13.1 1,15.3 1,21.2 1,22.2 1,20.9 1,21 1,20.4 1,19.7 1,19.3 1,19.3 1,19 1,17.1 1,17.4 1,20.4 1,29.1 1,33.6 1,28.6 1,21.3 1,18.8 1,15.9 1,12.6 1,10.1 1,9.1 1,8.1 1,7 1,5.5 1,4 1,3.5 1,2.9 1,2 1,0.6 1-3.4 1-7.1 1-7.2 1-7 1-7.1 1-6.7 1-6.2 1-5.9 1-6.2 1-7.2 1-8.5 1-9.8 1-10.3 1-10.3 1-10.5 1-10.9 1-10.7 1-10 1-9.6 1-9.3 1-8.6 1-7.6 1-6.2 1-6.1 1-7.4 1-8.6 1-9.4 1-10 1-9.9 1-10 1-10 1-9.9 1-9.5 1-9.9 1-10.2 1-10.3 1-9.9 1-8.9 1-7.8 1-6.8 1-6 1-5.5 1-5 1-4.9 1-4.9 1-4.8 1-4.5 1-4.2 1-4 1-3.8 1-3.6 1-3.2 1-2.8 1-2.6 1-2.6 1-2.6 1-2.5 1-2.4 1-2.3 1-2.3 1-2.1 1-1.7 1-1.2 1-0.9 1-0.8 1-0.8 1-0.7 1-0.6 1-0.6 1-0.7 1-0.9 1-0.9 1-1.2 1-1.4 1-1.5 1-1.3 1-0.5 1,0 1-0.1 1-0.4 1-0.5 1-0.6 1-0.6 1-0.7 1-1 1-1.7 1-2.1 1-1.7 1-0.5 1,0.1 1-0.5 1-1.5 1-1.8 1-1.1 1-0.3 1-0.4 1-1.1 1-1.4 1-0.9 1,0.1 1,0.6 1,0.5 1,0 1-0.5 1-0.6 1-0.9 1-0.8 1-0.6 1-0.5 1-1 1-1.2 1-1.2 1-0.9 1-0.5 1-0.4 1-0.2 1,0.1 1,0.5 1,0.3 1-0.1 1-0.5 1-0.7 1-0.8 1-1 1-0.8 1-0.3 1,0.3 1,0.1 1-0.4 1-0.9 1-1 1-1.2 1-1.2 1-1 1-0.5 1,0.3 1,0.4 1-0.7 1-2 1-2.1 1-0.8 1,0.3 1,0.5 1,0 1-0.2 1-0.3 1-0.4 1-0.3 1,0 1,0.2 1,0.2 1-0.2 1-0.3 1,0 1,0.4 1,0.5 1,0.1 1-0.3 1-0.4 1-0.4 1-0.7 1-1.1 1-1 1-0.7 1-0.5 1-0.9 1-0.9 1-0.4 1-0.1 1-0.5 1-0.3 1,0.3 1,1.3 1,1.4 1,0.8 1-0.4 1-1.5 1-1.8 1-1.4 1-0.5 1-0.5 1-0.5 1-0.4 1-0.1 1-0.1 1-0.4 1-0.8 1-0.8 1,0 1,0.7 1,0.9 1,0.7 1,0.4 1-0.2 1-0.3 1-0.4 1-0.2 1,0 1,0.2 1,0.2 1-0.5 1-1 1-0.8 1-0.2 1,0.3 1,0.2 1,0.1 1,0.1 1,0.1 1,0.1 1,0.3 1,0.3 1-0.1 1-0.7 1-0.7 1-0.3 1,0 1-0.3 1-0.4 1,0 1,0.8 1,1.3 1,0.8 1,0.2 1,0 1,0.3 1,0.6 1,0.2 1-0.5 1-1.2 1-1.2 1-0.4 1,0.5 1,0.8 1,0.5 1,0.3 1,0 1-0.5 1-1 1-0.7 1,0.1 1,0.7 1,0.8 1,0.4 1,0.1 1,0.1 1-0.1 1-0.5 1-0.7 1-0.7 1-0.3 1,0 1,0.2 1,0.2 1,0 1-0.1 1-0.1 1-0.1 1-0.2 1-0.2 1,0 1,0.4 1,0.5 1,0 1-0.3 1-0.3 1,0.1 1,0.2 1,0.5 1,0.9 1,0.9 1,0.2 1-0.3 1-0.3 1-0.1 1-0.1 1-0.2 1-0.2 1-0.2 1,0 1,0.1 1-0.1 1,0 1,0.3 1,0 1-0.6 1-0.8 1-0.6 1-0.2 1-0.1 1-0.1 1-0.2 1,0 1,0.1 1-0.2 1,0.2 1,0.7 1,1.2 1,1 1,0.6 1-0.2 1-0.4 1-0.2 1,0.5 1,0.7 1,0.3 1-0.2 1-0.3 1,0.1 1,0.2 1,0.1 1,0.1 1,0 1,0.1 1,0.2 1,0.3 1,0.3 1-0.4 1-1 1-1.3 1-1 1-0.2 1,0.4 1,0.2 1-0.3 1-0.1 1,0.4 1,0.7 1,0.5 1,0.1 1,0 1-0.1 1-0.2 1-0.4 1-0.2 1,0 1-0.1 1-0.2 1-0.2 1,0.2 1,0.4 1,0.1 1-0.3 1-0.4 1,0.1 1,0.2 1,0.3 1,0.2 1,0.1 1-0.3 1-0.3 1-0.5 1-0.7 1-0.5 1,0 1,0.5 1,0.8 1,1.1 1,0.8 1,0.1 1-0.4 1-0.5 1-0.4 1-0.1 1,0 1-0.1 1-0.3 1-0.3 1-0.3 1,0 1,0.2 1,0.1 1,0 1,0 1,0.2 1,0.4 1,0.4 1-0.1 1-0.5 1-0.7 1-0.5 1-0.1 1,0.3 1,0.6 1,0.7 1,0.6 1,0.2 1,0 1,0 1,0.4 1,1 1,0.9 1,0 1-1 1-1.2 1-1 1-0.7 1-0.5 1-0.1 1,0.5 1,0.7 1,0.5 1,0.4 1-0.1 1-0.4 1-0.4 1-0.3 1-0.2 1-0.2 1,0.1 1,0.5 1,0.5 1,0.3 1-0.1 1-0.5 1-0.3 1,0.3 1,0.5 1,0.3 1,0 1-0.2 1-0.2 1,0.1 1,0.7 1,0.7 1,0.1 1-0.6 1-0.8 1-0.4 1,0 1-0.1 1-0.6 1-0.8 1-0.6 1,0.1 1,0.8 1,1 1,0.7 1,0.2 1,0.1 1,0 1,0 1,0.3 1,0.4 1,0.1 1-0.6 1-0.7 1-0.1 1,0.3 1,0.1 1-0.2 1-0.1 1,0 1-0.2 1-0.4 1-0.1 1,0.5 1,1 1,1.1 1,0.6 1-0.3 1-0.7 1-0.7 1-0.4 1-0.1 1-0.1 1,0 1,0.3 1,0.6 1,0.4 1,0 1,0 1-0.2 1-0.7 1-0.8 1-0.2 1,0.9 1,1.2 1,0.8 1-0.1 1-0.5 1-0.7 1-0.6 1-0.4 1-0.1 1-0.2 1-0.5 1-0.4 1-0.4 1-0.5 1-0.7 1-0.3 1,0.6 1,1.2 1,1.1 1,0.5 1,0.1 1-0.4 1-0.5 1-0.3 1,0.5 1,0.9 1,0.8 1,0.5 1,0.2 1-0.1 1-0.4 1-0.7 1-0.8 1-0.1 1,0.7 1,1 1,0.6 1-0.1 1-0.6 1-0.7 1-0.4 1-0.2 1-0.3 1-0.5 1-0.4 1-0.2 1,0.1 1,0 1,0.1 1,0.3 1,0.4 1,0.1 1-0.2 1,0.1 1,0.4 1,0.5 1,0.2 1-0.2 1-0.4 1-0.4 1-0.4 1-0.4 1-0.1 1,0.5 1,1 1,0.7 1-0.2 1-0.6 1-0.7 1-0.2 1,0.4 1,0.5 1,0.3 1-0.1 1-0.4 1-0.4 1,0 1,0.2 1-0.1 1-0.6 1-0.8 1-0.5 1-0.2 1,0.1 1,0 1-0.3 1-0.6 1-0.3 1,0.1 1,0.4 1,0.6 1,0.7 1,0.8 1,0.7 1,0.5 1-0.1 1-0.4 1-0.5 1-0.3 1-0.3 1-0.1 1,0 1,0.1 1,0.1 1,0 1-0.1 1-0.1 1,0 1,0.3 1,0.8 1,1.2 1,1.1 1,0.6"/>
<path id="ceSTA" d="M1623.2,1130.1l1,0.1 1,0.3 1,0.2 1-0.3 1-1 1-1 1-0.7 1-0.1 1,0.5 1,0.9 1,1.2 1,0.8 1,0.2 1-0.4 1-0.4 1,0 1,0.1 1-0.1 1-0.4 1-0.5 1-0.4 1-0.1 1,0.2 1,0.5 1,0.2 1,0.1 1,0.1 1,0.4 1,0.5 1,0.3 1,0 1-0.3 1-0.4 1-0.4 1-0.2 1,0.1 1,0.4 1,0.3 1-0.1 1-0.5 1-0.4 1,0 1,0.3 1,0.5 1,0.2 1-0.2 1-0.4 1-0.1 1,0.1 1-0.1 1-0.4 1-0.4 1-0.2 1,0.3 1,0.6 1,0.9 1,1.2 1,1.1 1,0.2 1-1 1-1.6 1-1.3 1-0.4 1,0 1-0.1 1-0.7 1-0.8 1-0.1 1,0.6 1,0.8 1,0.6 1,0.3 1-0.3 1-0.9 1-1.1 1-0.6 1,0.3 1,1 1,1.1 1,0.9 1,0.5 1,0.4 1,0 1-0.2 1-0.3 1-0.4 1-0.4 1-0.4 1-0.1 1,0.1 1-0.1 1-0.3 1-0.4 1-0.3 1-0.2 1,0 1,0.5 1,0.6 1,0.2 1-0.4 1-0.5 1,0.1 1,0.5 1,0.4 1,0.2 1-0.1 1-0.1 1,0 1,0.3 1,0.2 1-0.2 1-0.5 1-0.5 1-0.1 1,0.4 1,0.6 1,0 1-0.7 1-1.1 1-0.8 1-0.6 1-0.3 1-0.1 1,0.7 1,1.2 1,0.7 1,0.4 1,0.3 1,0.1 1,0.1 1,0.1 1,0 1-0.1 1,0.1 1,7.3 1,13.1 1,15.2 1,20.9 1,22 1,20.9 1,21.1 1,20.8 1,20.1 1,19.5 1,19.1 1,18.7 1,16.7 1,16.9 1,20 1,29 1,33.8 1,29 1,20.3 1,15.5 1,14.4 1,17.2 1,26.3 1,29.4 1,15 1,9.6 1,8.3 1,9.3 1,9.2 1,8.9 1,7.9 1,7.2 1,6.6 1,6.2 1,5.9 1,6.1 1,6.6 1,6.9 1,6.3 1,5.2 1,4.8 1,4 1,2.1 1-0.1 1-0.9 1-1.1 1-1.3 1-1.4 1-2 1-3 1-3.8 1-4.1 1-4.3 1-4.5 1-6.4 1-8.5 1-9.5 1-10 1-9.6 1-8.7 1-8.4 1-8.3 1-8.4 1-8.6 1-8.7 1-8.5 1-8.5 1-8.3 1-8.3 1-8.4 1-8.3 1-8.5 1-8.6 1-8.6 1-8.3 1-8.4 1-8.6 1-8.8 1-8.8 1-8.8 1-8.7 1-8.6 1-8.4 1-8.5 1-8.5 1-8.4 1-8.2 1-8.1 1-8.2 1-8.3 1-8.6 1-8.6 1-8.5 1-8.5 1-8.3 1-8.2 1-8 1-7.9 1-7.6 1-7.5 1-7.6 1-7.5 1-7.4 1-7.1 1-7 1-6.9 1-7 1-7 1-7.2 1-7.3 1-7.3 1-7 1-6.9 1-6.7 1-6.4 1-5.9 1-5.6 1-5.4 1-5.4 1-5.3 1-5.2 1-5.7 1-6.1 1-5.8 1-4.8 1-3.4 1-1.6 1-1.4 1-1.4 1-1.1 1-1 1-0.7 1-0.7 1-0.7 1-0.7 1-0.6 1-0.4 1-0.3 1-0.1 1-0.4 1-0.6 1-0.9 1-1 1-1 1-0.7 1-0.4 1-0.3 1-0.3 1-0.4 1-0.6 1-0.5 1-0.4 1-0.4 1-0.5 1-0.6 1-0.6 1-0.7 1-0.7 1-0.5 1-0.4 1-0.2 1-0.3 1-0.4 1-0.5 1-0.3 1-0.4 1-0.5 1-0.7 1-0.7 1-0.6 1-0.5 1-0.4 1-0.3 1-0.3 1-0.4 1-0.6 1-0.7 1-0.6 1-0.5 1-0.4 1-0.2 1-0.1 1,0.1 1-0.1 1-0.3 1-0.6 1-0.5 1-0.3 1-0.1 1-0.1 1-0.3 1-0.4 1-0.3 1,0 1-0.2 1-0.4 1-0.6 1-0.4 1-0.3 1-0.2 1-0.1 1-0.2 1-0.2 1-0.3 1-0.3 1-0.1 1,0 1-0.2 1-0.4 1-0.4 1-0.2 1-0.2 1-0.3 1-0.3 1-0.2 1-0.2 1-0.4 1-0.3 1-0.2 1-0.1 1,0 1-0.3 1-0.6 1-0.6 1-0.2 1,0.2 1,0.2 1,0 1-0.3 1-0.4 1-0.2 1,0 1,0.1 1,0.4 1,0.7 1,0.8 1,0.7 1,0.2 1-0.2 1-0.3 1-0.4 1-0.3 1-0.1 1-0.1 1-0.1 1,0 1,0.1 1,0 1-0.1 1,0.1 1,0.4 1,0.2 1-0.2 1-0.7 1-0.8 1-0.5 1-0.3 1,0.1 1,0.3 1,0.3 1,0.1 1,0 1-0.1 1,0 1,0.2 1,0 1-0.3 1-0.3 1-0.3 1-0.6 1-0.6 1,0.2 1,1.1 1,1.7 1,1.2 1,0 1-1 1-1 1-0.9 1-0.9 1-0.7 1-0.1 1,0.4 1,0.5 1,0.2 1,0.1 1,0.4 1,0.8 1,0.5 1-0.1 1-0.5 1-0.5 1-0.3 1,0 1,0.2 1,0.6 1,0.8 1,0.5 1,0 1-0.3 1-0.3 1-0.1 1,0.1 1,0.2 1-0.1 1-0.3 1-0.5 1-0.3 1,0.2 1,0.4 1,0.3 1,0 1-0.1 1,0 1,0.2 1,0 1-0.2 1-0.6 1-0.5 1,0 1,0 1-0.1 1-0.3 1-0.2 1,0.2 1,0.5 1,0.4 1,0.3 1,0.2 1,0 1,0 1,0 1-0.3 1-0.2 1-0.1 1,0.2 1-0.1 1-0.6 1-0.8 1-0.4 1,0.2 1,0.5 1,0.5 1,0.2 1-0.2 1-0.1 1,0.2 1,0.4 1,0.1 1-0.3 1-0.3 1,0.3 1,0.7 1,0.5 1,0.4 1,0.1 1-0.4 1-0.6 1-0.6 1-0.6 1-0.5 1-0.1 1,0.5 1,0.7 1,0.1 1-0.6 1-0.8 1-0.1 1,0.9 1,1 1,0.5 1,0 1-0.3 1-0.4 1,0 1,0.1 1,0 1-0.3 1-0.4 1-0.5 1-0.5 1-0.2 1,0.2 1,0.8 1,0.7 1,0 1-0.5 1-0.6 1,0 1,0.6 1,1.1 1,0.8 1-0.1 1-0.7 1-0.7 1-0.6 1-0.5 1-0.4 1,0.3 1,0.9 1,0.9 1,0.4 1-0.2 1-0.4 1-0.3 1-0.3 1,0 1,0.5 1,0.9 1,0.7 1,0 1-0.8 1-1.1 1-0.8 1-0.3 1-0.1 1-0.2 1-0.3 1-0.1 1,0.3 1,0.9 1,0.8 1,0 1-0.8 1-1.1 1-0.7 1,0 1,0.8 1,1.5 1,1.2 1-0.2 1-1.6 1-1.9 1-1.2 1,0.2 1,1.5 1,2.3 1,2.1 1,1.2 1,0.1 1-0.4 1-0.4 1-0.3 1-0.2 1-0.3 1-0.5 1-0.8 1-1.2 1-1.1 1-0.5 1,0 1,0.2 1,0.1 1,0.1 1,0 1,0.1 1,0.5 1,0.7 1,0.6 1,0.5 1,0.6 1,0.7 1,0 1-0.8 1-1.3 1-0.7 1-0.1 1,0.4 1,0.6 1,0.5 1,0.4 1,0.5 1,0.4 1-0.1 1-0.8 1-1.1 1-0.8 1-0.7 1-0.2 1,0.1 1,0.4 1,0.3 1,0.4 1,0.5 1,0.5 1-0.3 1-0.9 1-0.9 1-0.2 1,0.1 1-0.2 1-0.3 1,0.1 1,0.2 1,0 1,0.3 1,0.6 1,0.7 1,0.3 1-0.3 1-0.3 1-0.3 1-0.3 1-0.2 1,0.4 1,1.1 1,1.1 1,0.5 1,0 1-0.4 1-0.6 1-0.9 1-0.9 1-0.5 1,0.1 1,0.9 1,1.1 1,1.1 1,0.4 1-0.1 1-0.3 1-0.5 1-0.6 1-0.6 1-0.2 1,0.3 1,0.5 1,0.3 1-0.4 1-1 1-0.9 1-0.4 1,0.4 1,0.7 1,0.3 1,0.1 1,0.3 1,0.5 1-0.1 1-0.7 1-0.6 1-0.2 1,0.3 1,0.7 1,0.7 1,0.5 1,0 1-0.3 1,0.1 1,0.8 1,1.1 1,0.5 1-0.4 1-1.2 1-1.4 1-0.9 1,0.3 1,0.8 1,0.7 1-0.1 1-0.4 1,0 1,0.3 1,0.2 1,0 1,0.2 1,0.1 1,0.1 1,0 1-0.1 1,0.1 1,0.2 1,0.1 1,0.1 1,0.1 1-0.1 1-0.6 1-0.6 1-0.1 1,0.4 1,0.5 1,0.1 1-0.5 1-0.9 1-0.6 1,0.1 1,0.5 1,0.2 1-0.4 1-0.7 1-0.4 1-0.2 1,0 1,0.2 1,0.2 1,0 1-0.1 1,0.1 1,0.2 1,0.3 1,0.7 1,0.8 1,0.6 1,0 1-0.3 1-0.4 1-0.3 1-0.6 1-0.8 1-0.4 1,0.4 1,1.1 1,1.1 1,0.5 1,0.2 1-0.1 1-0.4 1-0.4 1-0.3 1,0 1,0"/>
<path id="ceISTA" d="M1623.2,1130.6l1,0 1,0 1,0 1,0 1,0 1,0 1,0 1,0 1,0 1,0 1,0 1,0 1,0 1,0 1,0 1,0 1,0 1,0 1,0 1,0 1,0 1,0 1,0 1,0 1,0 1,0 1,0 1,0 1,0 1,0 1,0 1,0 1,0 1,0 1,0 1,0 1,0 1,0 1,0 1,0 1,0 1,0 1,0 1,0 1,0 1,0 1,0 1,0 1,0 1,0 1,0 1,0 1,0 1,0 1,0 1,0 1,0 1,0 1,0 1,0 1,0 1,0 1,0 1,0 1,0 1,0 1,0 1,0 1,0 1,0 1,0 1,0 1,0 1,0 1,0 1,0 1,0 1,0 1,0 1,0 1,0 1,0 1,0 1,0 1,0 1,0 1,0 1,0 1,0 1,0 1,0 1,0 1,0 1,0 1,0 1,0 1,0 1,0 1,0 1,0 1,0 1,0 1,0 1,0 1,0 1,0 1,0 1,0 1,0 1,0 1,0 1,0 1,0 1,0 1,0 1,0 1,0 1,0 1,0 1,0 1,0 1,0 1,0 1,0 1,0 1,0 1,0 1,0 1,0 1,0 1,0 1,0 1,0 1,0 1,0.2 1,7.1 1,12.7 1,15 1,21.2 1,22 1,20.7 1,20.8 1,20.5 1,20.2 1,20.2 1,19.1 1,17.2 1,16.4 1,15.1 1,12.8 1,10.1 1,9.1 1,7.9 1,6.7 1,5.4 1,4.6 1,4.2 1,3.5 1,2.9 1,2.2 1,1.9 1,1.7 1,1.6 1,1.2 1,0.7 1,0.2 1-1.4 1-2.8 1-3.6 1-3.6 1-4.5 1-5.3 1-6 1-6.1 1-6 1-6.2 1-6.4 1-6.6 1-6.7 1-7 1-7.1 1-7.2 1-7.5 1-7.8 1-8.1 1-8.3 1-8.4 1-8.2 1-8.1 1-8.1 1-8.3 1-8.2 1-8 1-7.8 1-7.3 1-6.9 1-6.5 1-6.3 1-6 1-5.8 1-5.6 1-5.5 1-5.3 1-5.1 1-5 1-4.8 1-4.7 1-4.5 1-4.4 1-4.2 1-4.2 1-3.9 1-3.9 1-3.8 1-3.6 1-3.6 1-3.6 1-3.5 1-3.4 1-3.2 1-2.9 1-2.6 1-2.4 1-2.3 1-2.1 1-2 1-1.8 1-1.5 1-1.2 1-1.3 1-1.1 1-1.1 1-0.9 1-0.6 1-0.2 1,0 1,0.1 1,0.2 1,0 1,0 1,0 1,0.1 1,0 1,0.2 1,0.4 1,0.5 1,0.8 1,1.1 1,1.2 1,0.9 1,0.3 1-0.1 1-0.4 1-0.6 1-0.9 1-0.7 1-0.6 1-0.4 1,0 1,0.2 1,0.2 1,0 1,0 1,0.1 1,0.1 1,0.1 1,0.1 1,0.1 1,0.1 1,0.1 1,0.1 1,0.2 1,0 1-0.2 1-0.2 1-0.4 1-0.6 1-0.7 1-0.8 1-1.4 1-1.9 1-1.4 1-0.1 1,1.8 1,2.4 1,1.5 1,1 1,0.7 1,0.6 1,0.3 1,0.1 1,0.1 1,0.1 1,0.2 1,0.1 1,0.1 1,0.2 1,0.1 1,0.4 1,0.3 1,0.3 1,0.3 1,0.3 1,0.2 1,0.2 1,0.2 1,0.2 1,0.1 1-0.1 1-0.1 1-0.2 1-0.2 1-0.3 1-0.2 1-0.2 1-0.3 1-0.2 1-0.1 1-0.1 1-0.1 1,0 1,0.1 1,0.1 1,0.2 1,0.1 1,0.2 1,0.1 1,0 1,0.1 1,0 1-0.1 1-0.2 1-0.2 1-0.2 1-0.3 1-0.3 1-0.2 1-0.2 1-0.2 1-0.3 1,0 1,0.1 1,0.2 1,0.1 1,0.2 1,0.3 1,0.2 1,0.2 1,0.2 1,0.2 1,0.1 1,0.1 1,0 1-0.1 1-0.2 1-0.1 1-0.1 1-0.1 1-0.2 1-0.1 1,0 1-0.2 1-0.1 1-0.1 1,0.1 1,0 1,0 1,0 1,0.1 1,0.1 1,0.1 1,0 1,0 1,0.1 1,0 1,0.1 1-0.1 1-0.1 1-0.2 1-0.1 1-0.3 1-0.2 1-0.3 1-0.2 1-0.2 1-0.2 1-0.2 1,0 1,0 1,0 1,0.1 1,0 1,0.1 1,0 1,0 1-0.1 1-0.1 1-0.2 1-0.1 1-0.1 1-0.3 1-0.2 1-0.2 1,0 1-0.1 1,0 1,0.1 1,0.1 1,0 1,0.1 1,0.2 1,0.2 1,0.1 1,0.1 1,0.2 1,0.1 1,0.1 1,0.1 1,0.1 1,0.1 1,0.1 1,0.2 1,0 1,0.1 1,0 1,0.1 1,0.1 1,0.1 1,0 1,0 1,0.1 1-0.1 1,0 1-0.1 1,0 1-0.1 1-0.1 1-0.1 1-0.1 1-0.1 1-0.1 1,0 1-0.1 1,0.1 1,0.1 1,0.1 1,0 1,0 1,0.1 1,0 1,0 1-0.1 1,0 1-0.1 1-0.1 1-0.1 1-0.1 1-0.1 1,0.1 1,0 1,0 1,0 1,0.1 1,0 1,0.1 1,0 1-0.1 1,0 1,0 1,0 1-0.1 1,0 1,0 1-0.1 1,0.1 1,0 1,0.1 1,0 1,0.1 1,0 1,0.1 1,0 1,0 1-0.1 1,0 1-0.1 1,0 1,0 1-0.1 1,0 1,0 1,0 1,0 1-0.1 1,0.1 1,0 1,0.1 1-0.1 1,0.1 1,0 1,0 1,0.2 1,0.2 1,0.2 1,0.2 1,0.2 1,0.3 1,0.2 1,0.3 1,0.1 1,0.1 1,0.1 1,0 1,0.1 1-0.1 1-0.1 1-0.1 1-0.1 1,0 1,0 1,0 1,0.1 1,0 1-0.1 1,0 1,0 1,0 1-0.1 1-0.1 1,0 1-0.1 1-0.2 1-0.2 1,0 1,0 1,0 1-0.1 1-0.1 1,0 1,0 1-0.1 1-0.1 1,0 1,0 1-0.1 1-0.1 1-0.1 1-0.1 1-0.1 1,0 1,0 1-0.1 1-0.1 1,0 1-0.1 1-0.2 1,0 1,0 1,0 1-0.1 1,0 1,0.1 1,0.1 1,0.1 1,0.1 1,0.2 1,0.2 1,0.3 1,0.2 1,0.2 1,0.1 1,0.2 1,0.1 1,0.1 1-0.1 1-0.1 1-0.1 1,0 1-0.2 1-0.2 1-0.1 1-0.1 1-0.2 1-0.1 1-0.1 1-0.1 1-0.1 1,0 1-0.1 1-0.1 1-0.2 1,0.1 1-0.1 1,0 1,0.1 1,0.1 1,0.1 1,0.1 1,0.2 1,0.2 1,0.3 1,0.2 1,0.2 1,0.1 1,0 1-0.1 1-0.2 1-0.1 1-0.2 1-0.1 1-0.3 1-0.2 1-0.4 1-0.1 1-0.1 1-0.1 1,0 1,0.1 1,0.2 1,0.2 1,0.2 1,0.2 1,0.2 1,0.3 1,0.4 1,0.4 1,0.2 1,0.1 1,0.2 1,0 1,0 1,0 1,0 1-0.2 1-0.1 1-0.2 1-0.1 1-0.1 1,0.1 1,0.1 1,0.1 1,0.1 1,0.2 1,0.4 1,0.2 1,0.1 1,0.2 1,0.2 1,0 1,0 1-0.1 1-0.3 1-0.3 1-0.3 1-0.2 1-0.3 1-0.3 1-0.3 1-0.3 1-0.2 1-0.1 1,0.1 1,0 1,0 1,0 1,0.2 1,0.1 1,0.2 1,0.2 1,0.2 1,0.1 1,0.1 1,0 1,0.1 1-0.1 1-0.1 1-0.2 1-0.1 1-0.1 1-0.2 1-0.3 1-0.1 1-0.2 1,0 1-0.1 1,0.1 1,0 1,0.1 1,0 1,0.1 1,0.1 1,0.1 1,0.2 1,0.1 1,0.1 1,0 1,0.1 1,0.1 1,0.1 1,0 1,0 1,0 1-0.1 1-0.1 1-0.2 1-0.1 1-0.2 1-0.2 1-0.2 1-0.1 1,0 1,0 1,0.1 1,0.1 1,0.1 1,0.3 1,0.2 1,0.2 1,0.1 1,0.1 1,0.1 1,0 1,0 1-0.1 1,0 1-0.1 1-0.1 1,0 1,0 1,0 1,0.1 1-0.1 1,0 1,0 1,0.1 1,0 1,0 1,0 1,0 1,0 1-0.1 1,0 1,0.1 1,0 1,0 1,0 1,0 1,0.1 1-0.1 1,0 1,0 1-0.1 1,0 1,0 1,0 1-0.1"/>
<path id="cfPI" d="M2725.5,1733.4l1,0.1 1,0.8 1,0.8 1,0.4 1-0.5 1-1.1 1-0.9 1,0 1,0.8 1,0.7 1,0 1-0.3 1,0 1,0.3 1,0.4 1,0.1 1-0.3 1-0.6 1-0.3 1,0.1 1,0.2 1-0.1 1-0.4 1-0.5 1-0.4 1,0 1,0.4 1,0.7 1,0.4 1-0.1 1-0.4 1-0.3 1-0.3 1-0.4 1-0.2 1,0.2 1,0.4 1,0.4 1,0.5 1,0.3 1,0.2 1-0.1 1,0.1 1,0.2 1,0 1-0.4 1-0.8 1-0.5 1,0.2 1,0.8 1,0.5 1-0.3 1-0.9 1-0.7 1-0.2 1-0.2 1-0.3 1-0.2 1,0.3 1,0.5 1,0.3 1,0.1 1,0 1-0.3 1-0.8 1-1 1-0.2 1,1.3 1,2.1 1,1.5 1,0.3 1-0.4 1-0.2 1,0 1,0.3 1,0.1 1-0.3 1-0.5 1,0 1,0.7 1,0.7 1-0.1 1-1 1-1.2 1-0.3 1,0.5 1,0.9 1,0.4 1,0 1-0.2 1-0.1 1,0.1 1,0.1 1,0 1-0.6 1-1 1-1.3 1-1.1 1-0.2 1,0.5 1,0.7 1,0.5 1,0.3 1,0.1 1,0.1 1,0.4 1,0.6 1,0.3 1-0.6 1-1 1-0.6 1,0.1 1,0.4 1,0.2 1-0.2 1,0.2 1,0.7 1,0.5 1,0 1-0.1 1-0.1 1,0.1 1,0.2 1,0 1-0.3 1-0.3 1-4.3 1-11.5 1-18.8 1-22.8 1-26.1 1-27.6 1-30.4 1-31.2 1-31.5 1-31.4 1-26.9 1-22.6 1-20.9 1-21 1-20.4 1-19.9 1-19.5 1-19.1 1-20 1-23 1-20.1 1-11.7 1-7.9 1-6.8 1-7.8 1-8.7 1-8.6 1-8 1-7.3 1-6.5 1-5.3 1-4.9 1-4.2 1-3.1 1-1.5 1-1.3 1-1.1 1-0.8 1-0.5 1,0 1,0.4 1,0.5 1,0.6 1,0.9 1,1.1 1,1.3 1,1.7 1,2.6 1,3.3 1,3.4 1,3.3 1,3.8 1,4.2 1,4.3 1,4.1 1,4 1,3.9 1,3.8 1,3.9 1,3.9 1,4 1,4 1,3.9 1,3.8 1,4 1,3.9 1,4.1 1,4.2 1,4.5 1,4.9 1,5.6 1,6.5 1,6.5 1,6.1 1,6 1,5.7 1,5.8 1,5.9 1,6.1 1,6.2 1,6.2 1,6.3 1,5.8 1,4.7 1,3.7 1,3.4 1,4.1 1,5.3 1,6.2 1,6.5 1,6.9 1,7.2 1,6.8 1,6.5 1,6.5 1,6.3 1,5.9 1,5.2 1,4.9 1,5.1 1,5.7 1,6.2 1,6.3 1,6.2 1,6.1 1,6 1,6.1 1,6.3 1,6.3 1,5.9 1,5.6 1,5.2 1,4.8 1,4.8 1,4.8 1,4.9 1,5 1,5.1 1,5.3 1,5.4 1,5.2 1,4.7 1,4.3 1,4 1,3.8 1,3.8 1,3.7 1,3.7 1,3.6 1,3.6 1,3.6 1,3.5 1,3.3 1,3.1 1,3.2 1,3.3 1,3.5 1,3.5 1,3.3 1,2.8 1,2.5 1,2.2 1,2.3 1,2.4 1,2.5 1,2.5 1,2.5 1,2.2 1,1.9 1,1.7 1,1.8 1,1.8 1,2 1,2 1,1.8 1,1.8 1,1.7 1,1.9 1,2 1,1.8 1,1.6 1,1.5 1,1.5 1,1.7 1,1.7 1,1.6 1,1.4 1,1.2 1,1 1,0.8 1,0.7 1,1 1,1.2 1,1.3 1,1.1 1,1.2 1,1.4 1,1.4 1,1.3 1,1.1 1,0.8 1,0.7 1,0.9 1,1 1,1.2 1,1.1 1,0.9 1,0.7 1,0.8 1,0.8 1,1.1 1,1.1 1,1.2 1,1.1 1,0.7 1,0.5 1,0.3 1,0.3 1,0.3 1,0.5 1,0.6 1,0.6 1,0.5 1,0.4 1,0.5 1,0.9 1,0.9 1,0.7 1,0.7 1,0.8 1,0.9 1,0.7 1,0.5 1,0.4 1,0.4 1,0.4 1,0.4 1,0.2 1,0.3 1,0.3 1,0.2 1,0.2 1,0.1 1,0.3 1,0.4 1,0.4 1,0.5 1,0.4 1,0.5 1,0.5 1,0.6 1,0.4 1,0.5 1,0.6 1,0.7 1,1 1,1 1,1 1,0.8 1,0.6 1,0.7 1,0.8 1,0.9 1,1 1,0.9 1,0.7 1,0.6 1,0.5 1,0.5 1,0.4 1,0.5 1,0.7 1,0.9 1,1 1,0.8 1,0.6 1,0.4 1,0.5 1,0.6 1,0.6 1,0.5 1,0.3 1,0.2 1,0.2 1,0.3 1,0.5 1,0.5 1,0.5 1,0.5 1,0.6 1,0.4 1,0.4 1,0.1 1,0.1 1,0.1 1,0.2 1,0.3 1,0.2 1,0.3 1,0.4 1,0.5 1,0.4 1,0.3 1,0.3 1,0.2 1,0.2 1,0.2 1,0.1 1,0 1,0.3 1,0.6 1,0.5 1,0.1 1-0.3 1-0.3 1,0.1 1,0.3 1,0.3 1,0.1 1-0.2 1-0.3 1,0 1,0.3 1,0.4 1,0.3 1,0.2 1-0.2 1-0.4 1-0.3 1-0.1 1,0.1 1,0 1-0.2 1-0.2 1-0.3 1-0.2 1,0 1,0.2 1,0.1 1-0.1 1-0.3 1-0.3 1-0.3 1-0.2 1,0.1 1,0 1,0.1 1-0.2 1-0.3 1-0.2 1-0.2 1-0.3 1-0.4 1-0.3 1-0.3 1-0.4 1-0.4 1-0.4 1-0.3 1-0.2 1-0.3 1-0.5 1-0.4 1-0.3 1-0.3 1-0.4 1-0.6 1-0.4 1,0.2 1,0.3 1,0.2 1-0.4 1-0.9 1-0.9 1-0.7 1-0.6 1-0.6 1-0.5 1-0.3 1-0.2 1-0.3 1-0.3 1-0.4 1-0.2 1,0 1-0.1 1-0.3 1-0.6 1-0.7 1-0.6 1-0.4 1-0.4 1-0.2 1-0.4 1-0.4 1-0.6 1-0.7 1-0.3 1,0.1 1,0.5 1,0.6 1,0.5 1,0.1 1-0.6 1-0.9 1-0.6 1,0.1 1,0.5 1,0.3 1-0.3 1-0.7 1-0.5 1-0.2 1,0 1,0.3 1,0.5 1,0.7 1,0.7 1,0.6 1,0.1 1-0.5 1-0.6 1-0.3 1,0.1 1,0.3 1,0.2 1,0.2 1,0.2 1,0.3 1,0.4 1,0.2 1,0 1-0.4 1-0.6 1-0.4 1,0 1-0.1 1-0.4 1-0.6 1-0.2 1-0.1 1,0 1-0.1 1-0.3 1-0.4 1-0.2 1,0.2 1,0.5 1,0.8 1,0.7 1,0.6 1,0.1 1-0.3 1-0.5 1-0.5 1-0.4 1-0.4 1-0.2 1,0.3 1,0.9 1,1.1 1,0.5 1-0.3 1-0.4 1,0.3 1,0.8 1,0.4 1-0.5 1-0.7 1-0.2 1,0.2 1,0.3 1,0.1 1,0 1,0.1 1,0.1 1,0 1-0.2 1-0.6 1-0.7 1-0.2 1,0.3 1,0.5 1,0.3 1-0.2 1-0.4 1-0.1 1,0.4 1,0.3 1-0.3 1-0.8 1-1 1-0.4 1,0.2 1,0.3 1,0.1 1-0.2 1-0.2 1,0.1 1,0.3 1,0.3 1,0.2 1,0.3 1,0.4 1-0.1 1-0.7 1-1 1-0.6 1-0.1 1,0.5 1,0.7 1,0.8 1,0.5 1-0.1 1-0.6 1-0.6 1-0.3 1-0.2 1-0.1 1,0 1,0.5 1,0.8 1,0.5 1-0.2 1-0.6 1-0.5 1,0 1,0.3 1,0.6 1,0.5 1,0.4 1,0.4 1,0.1 1-0.2 1-0.2 1-0.3 1-0.1 1,0.1 1,0.1 1-0.1 1-0.7 1-0.6 1-0.2 1,0.1 1-0.2 1-0.2 1,0.1 1,0.3 1,0.7 1,0.7 1,0.4 1-0.1 1-0.4 1-0.3 1,0 1,0.1 1-0.2 1-0.5 1-0.4 1,0.1 1,0.2 1,0.3 1,0.3 1,0.3 1,0.1 1,0 1,0 1-0.3 1-0.3 1-0.1 1,0.2 1,0 1-0.2 1-0.1 1,0 1-0.1 1-0.4 1-0.6 1-0.3 1,0.1 1,0.7 1,1.3 1,1.4 1,0.6 1-0.3 1-0.6 1-0.4 1-0.2 1-0.2 1-0.2 1,0 1,0 1-0.1 1-0.3 1-0.8 1-0.8 1-0.4 1,0.4 1,1.1 1,1.1 1,0.6 1,0 1-0.5 1-0.8 1-0.7 1-0.1 1,0.6 1,1 1,0.6 1,0 1-0.2 1-0.1 1-0.1 1-0.3 1-0.3 1,0.1 1,0.5 1,0.4 1,0 1-0.4 1-0.2 1,0.3 1,0.5 1,0.1 1-0.1 1-0.1 1,0 1-0.2 1-0.3 1-0.4 1-0.6 1-0.8 1-0.7 1-0.4 1-0.1 1,0.5 1,1 1,1 1,0.9 1,0.4 1-0.2 1-0.8 1-1.2 1-1.2 1-0.7 1-0.2 1,0.2 1,0.4 1,0.8 1,1"/>
<path id="cfLADRC" d="M2725.5,1734.3l1,0.5 1,0.6 1,0.2 1-0.4 1-0.9 1-0.9 1-0.6 1,0 1,0.6 1,0.7 1,0.7 1,0.5 1,0.1 1-0.4 1-0.6 1-0.3 1,0 1-0.1 1-0.1 1,0.2 1,0.5 1,0.5 1-0.1 1-0.9 1-1.1 1-0.8 1-0.4 1-0.2 1-0.2 1,0 1,0.3 1,0.9 1,1 1,0.5 1-0.4 1-0.8 1-0.1 1,0.7 1,0.9 1,0.4 1,0.3 1,0.4 1,0.2 1-0.3 1-0.8 1-0.7 1-0.3 1,0.1 1,0.2 1,0 1,0 1-0.1 1-0.2 1-0.1 1,0.2 1,0.2 1-0.2 1-0.6 1-0.2 1,0.3 1,0.5 1,0.2 1,0.3 1,0.7 1,0.7 1,0.4 1-0.1 1-0.3 1-0.4 1-0.4 1-0.2 1-0.1 1-0.2 1-0.5 1-0.2 1,0.3 1,0.7 1,0.7 1,0.3 1-0.4 1-1.1 1-1.3 1-1 1-0.1 1,0.8 1,1.5 1,1.4 1,0.7 1-0.2 1-0.6 1-0.4 1-0.3 1-0.3 1-0.3 1-0.1 1-0.1 1-0.1 1,0 1,0.3 1,0.6 1,0.5 1,0 1-0.2 1-0.1 1,0.1 1,0.2 1,0.1 1,0 1-0.1 1,0 1,0 1-0.1 1-0.3 1-0.4 1-0.4 1-0.1 1,0.2 1,0.4 1,0 1,0 1,0 1,0 1,0.1 1,0.1 1,0 1-0.1 1-4.3 1-11.6 1-18.8 1-22.8 1-26.2 1-27.8 1-30.7 1-31.2 1-31.4 1-31.4 1-27 1-22.6 1-20.5 1-20.6 1-20.4 1-20.3 1-19.9 1-19.7 1-19.9 1-21.3 1-20.2 1-16.7 1-14.5 1-14.9 1-19.1 1-0.8 1,4.3 1,5.4 1,5.2 1,5.8 1,6.1 1,6.1 1,6.1 1,6.2 1,6.3 1,7.3 1,8.6 1,11.8 1,14.4 1,11.9 1,8.6 1,7.3 1,7.5 1,9.1 1,11.3 1,12.2 1,12.5 1,13.3 1,12.5 1,10.8 1,9.9 1,9.5 1,9.8 1,10.2 1,10.3 1,10.2 1,10.1 1,10.1 1,10.1 1,9.6 1,9.1 1,8.8 1,8.9 1,8.6 1,8.1 1,7.5 1,7.2 1,6.9 1,6.6 1,6.5 1,6.5 1,7 1,7 1,6.8 1,6.1 1,5.2 1,4.7 1,4.4 1,4.1 1,3.8 1,3.2 1,2.8 1,2.6 1,2.6 1,2.8 1,2.5 1,2.1 1,1.7 1,1.2 1,1.1 1,1.1 1,1.1 1,1.1 1,1.3 1,1.1 1,1 1,0.8 1,0.6 1,0.7 1,0.8 1,0.9 1,0.9 1,0.8 1,1.1 1,1.3 1,0.7 1-0.3 1-0.5 1,0.4 1,1.4 1,1.6 1,1.5 1,1.3 1,1.2 1,1.5 1,1.6 1,1.5 1,0.7 1-0.2 1-0.1 1,1.1 1,2.1 1,1.6 1,0.5 1-0.2 1,0.3 1,0.9 1,1.4 1,1.6 1,1.6 1,1.3 1,0.8 1,0.1 1-0.4 1-0.8 1-0.8 1-0.1 1,0.4 1,0.3 1,0.3 1,0.3 1,0.3 1,0.2 1,0.2 1,0.4 1,0.4 1,0.3 1,0.6 1,1.2 1,1.6 1,1.3 1,0.8 1,0.6 1,0.5 1,0.4 1,0.8 1,1.4 1,1.7 1,1.1 1,0.3 1-0.2 1-0.2 1-0.3 1,0 1,0.4 1,0.8 1,0.7 1,0.2 1,0 1,0.6 1,0.9 1,0.4 1-0.1 1,0 1,0.7 1,1 1,0.5 1-0.7 1-1.4 1-1 1,0 1,0.6 1,1.1 1,1.7 1,2.2 1,1.9 1,0.6 1-0.2 1-0.4 1-0.3 1-0.7 1-0.8 1-0.5 1,0.2 1,1 1,1.2 1,0.5 1-0.3 1-0.3 1,0.3 1,1.2 1,1.2 1,0.8 1,0.2 1,0 1,0.1 1,0.3 1,0.2 1,0.2 1,0 1-0.1 1-0.5 1-0.7 1-0.8 1-0.4 1,0.3 1,0.7 1,0.3 1-0.4 1-0.6 1,0.2 1,1.2 1,1.6 1,0.6 1,0 1-0.2 1-0.3 1-0.2 1,0 1,0 1,0.1 1,0.5 1,0.5 1,0.2 1-0.3 1-0.5 1-0.4 1-0.3 1-0.2 1-0.1 1,0 1,0.2 1,0.4 1,0.7 1,0.6 1,0.2 1-0.3 1-0.6 1-0.7 1-1 1-1.1 1-0.5 1,0.6 1,1 1,0.3 1-0.7 1-1.2 1-0.7 1,0 1,0.6 1,0.7 1,0.5 1,0.2 1,0 1,0.1 1,0.5 1,0.6 1,0.2 1-0.3 1-0.7 1-0.3 1,0 1-0.3 1-0.7 1-0.7 1,0.1 1,0.9 1,1 1,0.5 1-0.2 1-0.3 1-0.1 1,0.1 1,0 1-0.1 1-0.2 1,0 1,0.1 1,0.2 1,0 1-0.3 1-0.3 1,0.1 1,0.1 1-0.1 1-0.4 1-0.5 1-0.2 1,0.1 1,0.5 1,0.6 1,0.4 1,0.1 1-0.3 1-0.2 1,0 1,0.4 1,0.4 1,0.1 1-0.2 1-0.5 1-0.4 1,0 1,0.2 1,0 1-0.3 1,0.1 1,0.5 1,0.9 1,0.8 1,0.6 1,0.1 1-0.3 1-0.6 1-0.7 1-0.5 1-0.4 1-0.5 1-0.2 1,0.4 1,0.7 1,0.4 1-0.2 1-0.5 1-0.4 1-0.4 1,0 1,0.3 1,0.1 1-0.4 1-0.7 1-0.6 1-0.3 1,0 1,0.3 1,0.6 1,0.7 1,0.8 1,0.6 1,0.1 1-0.3 1-0.6 1-0.8 1-0.7 1-0.2 1,0.2 1,0.2 1,0 1,0.1 1,0.2 1-0.1 1-0.4 1,0 1,0.6 1,0.7 1,0.4 1,0 1-0.4 1-1.1 1-1.2 1-0.8 1,0.3 1,0.9 1,0.8 1,0.6 1,0.5 1,0.5 1,0.1 1,0 1,0.2 1,0.5 1,0.1 1-0.8 1-1.2 1-0.6 1,0.1 1,0.5 1,0.4 1,0.2 1-0.1 1-0.6 1-0.5 1,0 1,0.4 1,0.5 1,0.8 1,1 1,0.7 1,0 1-0.8 1-1.1 1-1.1 1-0.6 1-0.1 1,0.6 1,0.8 1,0.8 1,0.4 1,0.2 1,0 1,0 1-0.3 1-0.3 1,0 1,0.3 1,0 1-0.6 1-0.9 1-0.8 1,0 1,0.5 1,0.4 1,0.2 1,0.1 1,0.1 1,0 1-0.1 1,0.1 1,0.7 1,1.1 1,0.9 1,0.5 1,0.1 1-0.3 1-0.8 1-1.1 1-1.1 1-0.7 1,0.2 1,0.8 1,0.7 1,0.1 1-0.9 1-1.2 1-0.9 1-0.1 1,0.5 1,0.4 1,0.2 1,0.3 1,0.4 1,0.4 1,0.3 1,0.2 1,0.4 1,0.3 1,0.2 1-0.2 1-0.6 1-0.6 1-0.2 1-0.1 1-0.1 1-0.1 1,0.2 1,0.1 1-0.2 1,0 1,0.4 1,0.4 1,0.2 1-0.1 1-0.1 1-0.1 1-0.2 1-0.4 1-0.2 1,0.2 1,0.3 1,0.2 1,0 1,0.2 1,0.4 1,0.2 1-0.2 1-0.4 1-0.3 1-0.3 1-0.1 1,0.1 1-0.2 1-0.6 1-0.7 1,0 1,0.7 1,1.3 1,1.2 1,0.5 1-0.4 1-1 1-0.9 1-0.1 1,0.6 1,0.7 1,0.1 1-0.3 1-0.4 1-0.4 1-0.4 1-0.5 1-0.6 1-0.5 1-0.2 1,0.1 1,0.5 1,0.7 1,0.6 1,0.2 1-0.1 1-0.1 1,0.1 1,0.5 1,0.4 1,0.1 1-0.1 1-0.1 1-0.1 1,0 1,0.1 1-0.2 1-0.5 1-0.7 1-0.6 1-0.1 1,0.6 1,0.8 1,0.5 1-0.3 1-0.5 1-0.3 1-0.1 1,0 1,0 1,0 1,0.1 1,0.4 1,0.4 1,0.2 1,0.1 1,0.1 1,0.1 1,0.3 1,0.3 1,0 1-0.4 1-0.5 1,0 1,0.4 1,0.1 1-0.5 1-0.8 1-0.8 1-0.3 1,0 1,0 1-0.1 1,0 1,0.4 1,0.4 1-0.1 1-0.5 1-0.5 1-0.2 1,0.2 1,0.3 1,0.6 1,0.6 1,0.5 1,0.2 1-0.2 1-0.6 1-0.3 1,0.3 1,0.4 1,0.1 1-0.3 1,0 1,0.6 1,0.9 1,0.4 1-0.4 1-0.6 1,0 1,0.2 1,0 1-0.4 1-0.4 1-0.4 1-0.3 1-0.1 1,0.2 1,0.1 1,0.1 1,0.2 1,0.5 1,0.4 1,0 1-0.2 1-0.4 1-0.1 1,0.3 1,0.6 1,0.7 1,0.7 1,0.7 1,0.6 1,0.1 1-0.3 1-0.9 1-1.2 1-1.3 1-0.6 1,0.1 1,0.2 1,0 1-0.2 1-0.1 1,0.3 1,0.3 1,0"/>
<path id="cfSTA" d="M2725.5,1732.9l1-1 1-0.6 1,0.1 1,1 1,1.3 1,0.9 1,0.6 1,0.2 1,0.1 1-0.3 1-0.6 1-0.8 1-0.5 1-0.5 1-0.6 1-0.8 1-0.6 1-0.1 1,0.7 1,1.2 1,0.9 1,0.4 1-0.3 1-0.4 1-0.1 1,0.4 1,0.7 1,0.6 1,0.1 1-0.1 1,0.1 1,0.6 1,0.7 1,0.3 1-0.2 1-0.4 1-0.8 1-0.7 1-0.5 1-0.4 1-0.3 1,0.5 1,1.1 1,0.8 1,0 1-0.4 1,0 1,0.3 1,0.3 1,0.1 1-0.2 1-0.2 1,0 1,0.6 1,0.8 1,0.4 1-0.3 1-1 1-1 1-0.5 1,0.2 1,0.3 1-0.1 1-0.5 1-0.6 1-0.3 1,0 1,0.4 1,0.6 1,0.5 1,0.1 1-0.2 1,0 1,0.4 1,0.1 1-0.4 1-0.8 1-0.6 1-0.1 1,0.7 1,1.1 1,0.7 1-0.3 1-0.9 1-0.8 1-0.3 1,0.1 1,0.1 1-0.1 1-0.7 1-1.1 1-0.9 1-0.3 1,0.2 1,0.2 1,0.2 1,0.3 1,0.5 1,0.5 1,0.1 1-0.1 1,0.2 1,0.6 1,1 1,1 1,0.5 1-0.2 1-0.6 1-0.3 1-0.1 1-0.5 1-1 1-0.8 1-0.3 1,0.2 1,1 1,0.8 1,0 1-0.3 1-0.3 1-0.3 1,0 1,0.2 1,0.3 1,0.2 1,0.1 1-4.1 1-11.6 1-18.9 1-23 1-25.9 1-27.6 1-30.5 1-31.2 1-31.3 1-31 1-26.8 1-22.6 1-20.9 1-21 1-20.3 1-19.8 1-19.4 1-19.3 1-19.9 1-21.4 1-20.5 1-16.7 1-14.1 1-15.7 1-19.7 1-23.7 1-24.2 1-22.1 1-20.9 1-12.7 1-7.1 1-5.2 1-3.7 1-3.2 1-3.2 1-2.9 1-1.9 1-0.3 1,1.5 1,2.8 1,3.1 1,2.7 1,2.7 1,2.7 1,2.9 1,3.1 1,3.2 1,3.3 1,3.4 1,3.5 1,3.7 1,4.2 1,5.8 1,8.2 1,10.2 1,11.1 1,11.5 1,11.2 1,10.3 1,9.6 1,9.6 1,9.6 1,9.4 1,9.3 1,9.2 1,9.1 1,8.4 1,7.9 1,7.7 1,8.1 1,8.7 1,9.8 1,11.3 1,15.4 1,18.3 1,18.2 1,15.2 1,13.3 1,12.3 1,11.7 1,11.3 1,11.5 1,11.7 1,11.5 1,11.3 1,10.9 1,10.3 1,9.7 1,9.2 1,8.7 1,8.3 1,7.9 1,7.9 1,7.8 1,7.8 1,8 1,8.4 1,8.6 1,8.5 1,8.3 1,7.8 1,7.6 1,7.2 1,7 1,6.8 1,6.7 1,6.8 1,6.5 1,6.3 1,6 1,5.6 1,5.8 1,5.9 1,6.2 1,6 1,5.3 1,4.6 1,4.6 1,4.5 1,4.1 1,3.5 1,3.2 1,3 1,2.6 1,2.3 1,2.2 1,2 1,1.7 1,1.5 1,1.3 1,1.3 1,1 1,0.4 1-0.3 1-0.8 1-0.9 1-1 1-1.2 1-1.1 1-1.2 1-1.1 1-1.3 1-1.5 1-2.2 1-2.6 1-2.9 1-2.8 1-2.7 1-2.6 1-2.7 1-2.6 1-2.4 1-2.3 1-2 1-1.9 1-1.7 1-1.5 1-1.4 1-0.9 1-0.6 1-0.3 1-0.1 1-0.2 1-0.3 1,0.5 1,1.6 1,2.5 1,2.7 1,2.8 1,2.5 1,2.9 1,2.9 1,2.8 1,2.5 1,2 1,1.5 1,1.4 1,1.4 1,1.4 1,1.4 1,1.2 1,1.1 1,1 1,1 1,0.9 1,0.6 1,0.5 1,0.6 1,0.7 1,0.9 1,1.1 1,1 1,0.8 1,0.4 1,0.1 1-0.2 1-0.2 1-0.4 1-0.4 1-0.5 1-0.7 1-0.9 1-1 1-1 1-0.9 1-0.7 1-0.5 1-0.5 1-0.9 1-1 1-0.8 1-0.6 1-0.3 1,0 1,0 1,0.1 1,0 1-0.1 1-0.1 1,0 1,0.4 1,0.6 1,0.4 1-0.3 1-0.4 1,0 1,0.2 1,0 1-0.1 1,0 1,0.2 1,0 1-0.2 1-0.1 1,0 1,0.1 1,0.1 1,0 1-0.4 1-0.5 1-0.3 1-0.1 1,0 1,0 1,0.1 1,0.4 1,0.4 1,0.2 1,0.1 1-0.3 1-0.6 1-0.5 1-0.2 1,0.2 1,0.6 1,0.6 1,0.5 1,0.2 1,0.3 1,0.3 1,0.1 1-0.1 1-0.5 1-0.4 1-0.1 1,0.9 1,1.4 1,0.6 1-1.1 1-2.2 1-1.6 1-0.4 1,0.6 1,0.6 1,0.4 1,0 1,0 1,0 1-0.1 1-0.3 1-0.6 1-0.3 1,0.5 1,1.2 1,1.2 1,0.4 1-0.4 1-0.6 1-0.6 1-0.1 1,0.5 1,0.8 1,0.5 1,0 1-0.5 1-0.9 1-0.9 1-0.8 1-0.2 1,0.1 1,0 1-0.3 1-0.2 1,0 1,0.1 1,0.1 1,0.1 1,0.3 1,0.5 1,0.3 1,0.4 1,0.4 1,0.6 1,0.1 1-0.5 1-0.6 1-0.6 1-0.5 1-0.3 1,0 1,0.4 1,0.3 1-0.1 1-0.5 1-0.8 1-0.3 1,0.5 1,1.1 1,0.7 1-0.3 1-0.7 1-0.6 1-0.3 1-0.2 1,0.1 1,0.5 1,0.7 1,0.4 1,0.2 1,0 1,0.2 1-0.2 1-0.4 1-0.3 1-0.1 1,0.4 1,0.8 1,0.8 1,0.5 1,0.2 1-0.4 1-0.8 1-0.8 1-0.3 1,0.2 1,0.2 1-0.2 1-0.4 1-0.1 1,0.3 1,0.4 1,0.2 1,0 1-0.1 1,0 1,0 1,0 1-0.1 1,0 1,0.1 1,0.1 1,0.1 1,0.4 1,0.6 1,0.7 1,0.1 1-0.6 1-1.1 1-0.8 1-0.2 1,0.4 1,0.7 1,0.2 1-0.5 1-0.9 1-0.8 1-0.5 1-0.2 1,0.4 1,0.8 1,1 1,0.6 1,0.4 1,0.2 1,0.1 1-0.4 1-0.4 1-0.3 1-0.2 1-0.4 1-0.5 1-0.6 1-0.4 1,0.1 1,0.5 1,0.5 1,0.1 1-0.4 1-0.4 1,0 1,0.2 1,0 1-0.2 1-0.2 1,0.2 1,0.7 1,0.8 1,0.8 1,0.4 1,0 1-0.3 1-0.3 1-0.1 1,0 1-0.1 1-0.1 1,0.3 1,0.7 1,0.7 1,0.1 1-0.7 1-1.1 1-0.8 1-0.1 1,0.7 1,0.5 1,0 1-0.1 1,0.1 1,0.1 1-0.1 1-0.2 1-0.3 1-0.3 1,0.1 1,0.4 1,0.4 1,0.3 1,0.3 1,0.4 1,0.4 1,0.4 1,0.4 1,0 1-0.9 1-1.4 1-1 1-0.3 1,0.2 1,0.3 1,0.1 1,0 1,0.1 1-0.1 1-0.3 1-0.2 1,0.3 1,0.7 1,0.5 1,0.1 1-0.2 1,0 1,0 1,0 1-0.4 1-0.4 1-0.2 1,0.3 1,0.4 1,0.4 1,0.3 1,0.1 1-0.3 1-0.5 1-0.3 1-0.1 1,0 1-0.1 1-0.2 1-0.2 1,0.2 1,0.5 1,0.7 1,0.8 1,0.6 1,0.2 1-0.5 1-1.3 1-1.4 1-1 1-0.1 1,0.6 1,0.7 1,0.3 1,0 1,0.4 1,0.6 1,0.2 1-0.6 1-0.9 1-0.4 1,0.2 1,0.7 1,0.5 1,0.1 1-0.1 1-0.4 1-0.5 1-0.7 1-0.4 1-0.1 1,0.2 1,0.5 1,0.7 1,0.4 1,0.2 1-0.3 1-0.7 1-0.8 1-0.2 1,0.2 1,0.5 1,0.5 1,0.3 1,0 1-0.2 1,0.1 1,0.2 1,0.6 1,0.7 1,0.5 1-0.1 1-0.1 1,0 1,0.1 1-0.3 1-1.1 1-1.5 1-1.4 1-0.7 1,0.1 1,0.9 1,1.4 1,0.9 1,0.3 1,0 1,0.4 1,0.6 1,0.5 1,0 1-0.4 1-0.3 1-0.2 1-0.5 1-0.6 1-0.4 1,0.1 1,0.3 1,0.1 1-0.2 1-0.3 1-0.3 1-0.1 1,0.1 1,0.2 1,0.4 1,0.6 1,0.7 1,1 1,0.8 1-0.1 1-1 1-1.3 1-1 1-0.6 1-0.2 1-0.1 1,0.3 1,0.4 1,0.4 1,0.2 1,0.2 1,0.3 1,0.3 1,0.1 1-0.3 1-0.3 1,0.2 1,0.8 1,0.3 1-0.3 1-0.6 1-0.3 1,0 1,0 1-0.2 1-0.5 1-0.6 1-0.4 1,0.2 1,0.6 1,0.7 1,0.3 1-0.3 1-0.7 1-0.8 1-0.5 1-0.1 1,0.5 1,0.8 1,0.4 1-0.2 1-0.4 1-0.2 1-0.1 1,0 1,0 1,0 1-0.3 1-0.6"/>
<path id="cfISTA" d="M2725.5,1735l1,0 1,0 1,0 1,0 1,0 1,0 1,0 1,0 1,0 1,0 1,0 1,0 1,0 1,0 1,0 1,0 1,0 1,0 1,0 1,0 1,0 1,0 1,0 1,0 1,0 1,0 1,0 1,0 1,0 1,0 1,0 1,0 1,0 1,0 1,0 1,0 1,0 1,0 1,0 1,0 1,0 1,0 1,0 1,0 1,0 1,0 1,0 1,0 1,0 1,0 1,0 1,0 1,0 1,0 1,0 1,0 1,0 1,0 1,0 1,0 1,0 1,0 1,0 1,0 1,0 1,0 1,0 1,0 1,0 1,0 1,0 1,0 1,0 1,0 1,0 1,0 1,0 1,0 1,0 1,0 1,0 1,0 1,0 1,0 1,0 1,0 1,0 1,0 1,0 1,0 1,0 1,0 1,0 1,0 1,0 1,0 1,0 1,0 1,0 1,0 1,0 1,0 1,0 1,0 1,0 1,0 1,0 1,0 1,0 1,0 1,0 1,0 1,0 1,0 1,0 1,0 1,0 1,0 1,0 1,0 1,0 1,0 1,0 1,0 1,0 1,0 1,0 1-4.7 1-12.1 1-18.6 1-22.6 1-25.9 1-27.8 1-31.3 1-30.7 1-29 1-27.3 1-20.3 1-15.8 1-13.3 1-11 1-8.9 1-8.1 1-7.2 1-6.1 1-4.6 1-3.1 1-2.8 1-2.6 1-2.3 1-2 1-1.7 1-1.2 1-0.8 1-0.2 1,0.9 1,2.2 1,3.1 1,3.8 1,4 1,4.1 1,3.8 1,4.2 1,4.6 1,4.9 1,5.2 1,5.3 1,5.5 1,5.5 1,5.5 1,5.7 1,6 1,6.1 1,6.2 1,6.2 1,6.3 1,6.1 1,6 1,6 1,6 1,5.9 1,6 1,5.9 1,6 1,6 1,6 1,6 1,6 1,6.1 1,6 1,6 1,6.1 1,6 1,6 1,6.2 1,6.1 1,6.2 1,6.1 1,6 1,5.9 1,5.7 1,5.7 1,5.5 1,5.5 1,5.3 1,5.3 1,5.2 1,5.1 1,5 1,5 1,5.1 1,5.1 1,4.9 1,4.8 1,4.5 1,4 1,3.6 1,3.3 1,3.2 1,3 1,2.8 1,2.3 1,1.7 1,1.3 1,1.1 1,0.9 1,0.8 1,0.5 1,0.1 1-0.8 1-1.5 1-1.7 1-1.6 1-0.8 1-0.2 1-0.1 1-0.1 1-0.1 1-0.1 1,0 1,0 1-0.1 1-0.1 1,0 1,0 1,0.1 1,0.1 1,0.2 1,0.2 1,0.1 1,0 1-0.1 1-0.1 1-0.2 1-0.2 1-0.1 1-0.1 1-0.2 1,0 1,0 1,0.1 1,0 1,0.2 1,0.1 1,0.2 1,0.1 1,0.2 1,0.1 1,0 1,0 1-0.1 1,0 1,0 1,0 1,0 1,0.1 1,0 1,0.1 1,0 1,0 1,0 1,0 1-0.1 1,0 1,0 1,0 1,0 1,0 1-0.1 1,0 1-0.2 1-0.1 1-0.2 1-0.1 1-0.1 1,0.1 1,0.2 1,0.2 1,0.3 1,0.3 1,0.2 1,0.2 1,0.1 1,0 1,0 1-0.1 1-0.1 1-0.1 1-0.1 1-0.1 1-0.1 1-0.1 1,0 1,0.1 1,0 1,0.1 1,0.2 1,0.1 1,0 1,0 1,0 1-0.2 1-0.1 1-0.1 1-0.1 1,0 1,0 1,0.1 1,0.1 1,0.1 1,0 1,0.1 1,0 1,0 1,0 1-0.1 1,0 1-0.1 1-0.1 1-0.2 1-0.2 1-0.2 1-0.2 1-0.2 1-0.1 1,0 1,0 1,0.1 1,0.3 1,0.3 1,0.3 1,0.3 1,0.3 1,0.2 1,0.1 1,0 1-0.1 1-0.2 1-0.2 1-0.2 1-0.2 1-0.1 1-0.2 1,0 1,0 1,0 1,0.1 1,0.1 1,0.2 1,0.1 1,0.2 1,0.1 1,0.2 1,0.2 1,0.1 1,0.2 1,0 1,0.1 1,0 1-0.1 1-0.1 1-0.1 1-0.1 1-0.1 1-0.1 1-0.2 1,0 1-0.1 1,0.1 1,0.1 1,0.1 1,0.1 1,0.1 1,0.1 1,0 1-0.1 1-0.1 1-0.2 1-0.3 1-0.3 1-0.2 1-0.3 1-0.2 1-0.1 1-0.1 1,0 1,0 1,0 1,0 1,0.1 1,0.2 1,0.1 1,0.2 1,0.1 1,0.1 1,0.1 1,0 1,0 1,0.1 1,0 1,0.2 1,0.2 1,0.3 1,0.3 1,0.2 1,0.3 1,0.2 1,0.1 1,0 1-0.1 1-0.2 1-0.2 1-0.3 1-0.4 1-0.3 1-0.4 1-0.4 1-0.3 1-0.3 1-0.2 1-0.2 1-0.1 1,0 1,0.1 1,0.1 1,0.1 1,0.2 1,0.2 1,0.1 1,0.2 1,0.1 1,0.2 1,0.2 1,0.1 1,0.2 1,0.1 1,0.1 1,0 1-0.1 1-0.1 1-0.2 1-0.2 1-0.2 1-0.2 1-0.2 1-0.1 1-0.1 1,0 1,0.1 1,0.3 1,0.3 1,0.3 1,0.4 1,0.2 1,0.1 1,0.1 1,0 1-0.1 1-0.2 1-0.3 1-0.3 1-0.3 1-0.2 1-0.3 1-0.2 1,0 1,0.1 1,0.1 1,0.3 1,0.3 1,0.4 1,0.4 1,0.3 1,0.2 1,0.1 1,0 1-0.1 1-0.1 1-0.1 1-0.1 1-0.1 1-0.1 1-0.1 1,0 1,0 1,0 1,0.1 1,0 1,0.1 1,0.1 1,0 1,0 1-0.1 1-0.3 1-0.3 1-0.3 1-0.5 1-0.4 1-0.4 1-0.4 1-0.4 1-0.3 1-0.2 1-0.2 1-0.1 1,0 1,0.1 1,0.1 1,0.3 1,0.3 1,0.3 1,0.3 1,0.3 1,0.3 1,0.3 1,0.1 1,0.1 1,0.1 1,0 1-0.1 1-0.1 1,0 1-0.1 1,0 1,0.1 1,0.1 1,0.1 1,0.2 1,0.1 1,0.1 1,0 1-0.1 1-0.2 1-0.2 1-0.3 1-0.4 1-0.3 1-0.3 1-0.1 1-0.1 1,0 1,0.1 1,0.1 1,0.1 1,0.1 1,0.1 1,0.2 1,0.2 1,0.2 1,0.2 1,0.3 1,0.1 1,0.1 1,0 1,0 1-0.1 1-0.2 1-0.3 1-0.2 1-0.3 1-0.2 1-0.2 1-0.1 1-0.1 1,0.1 1,0.2 1,0.2 1,0.2 1,0.2 1,0.1 1,0.1 1,0.1 1,0 1-0.1 1,0.1 1,0 1,0 1,0.1 1,0.1 1,0.2 1,0.1 1,0.2 1,0 1,0.1 1,0.1 1-0.1 1,0 1,0.1 1,0 1,0.1 1,0.1 1,0.1 1,0 1,0 1-0.1 1-0.3 1-0.2 1-0.2 1-0.2 1-0.1 1,0 1,0 1,0.1 1,0 1,0.1 1,0.1 1,0 1,0 1,0 1,0 1-0.1 1-0.1 1,0 1,0 1,0 1-0.1 1,0 1,0 1,0 1-0.1 1-0.1 1,0 1-0.2 1-0.1 1-0.2 1-0.2 1-0.1 1-0.2 1-0.2 1-0.2 1-0.3 1-0.2 1-0.2 1-0.2 1-0.2 1-0.1 1-0.1 1-0.1 1-0.1 1,0 1,0.1 1,0.2 1,0.3 1,0.4 1,0.4 1,0.4 1,0.3 1,0.3 1,0.2 1,0.1 1,0 1,0.1 1,0 1,0.1 1,0 1,0.1 1,0.1 1,0.1 1,0 1,0.1 1-0.1 1-0.1 1-0.1 1-0.1 1-0.1 1,0.1 1,0.1 1,0.1 1,0.3 1,0.2 1,0.2 1,0.1 1,0.1 1-0.1 1,0.1 1,0 1,0.1 1,0.1 1,0.2 1,0.1 1,0.1 1,0.1 1-0.1 1-0.1 1-0.3 1-0.3 1-0.3 1-0.4 1-0.3 1-0.3 1-0.1 1-0.1 1,0 1,0 1,0.1 1,0.1 1,0 1,0 1,0 1-0.1 1-0.1 1-0.2 1-0.2 1-0.2 1-0.2 1-0.2 1-0.2 1-0.1 1,0 1,0.1 1,0.1 1,0.2 1,0.3 1,0.4 1,0.4 1,0.4 1,0.3 1,0.3 1,0.3 1,0.2 1,0.2 1,0.2 1,0.1 1,0.1 1,0 1-0.1 1-0.1 1-0.1 1-0.1 1-0.1 1-0.1 1,0.1 1,0.1 1,0 1,0.2 1,0.1 1,0.1"/>
</defs>
<g clip-path="url(#cla)" fill="none" stroke-linejoin="miter" stroke-miterlimit="2.5">
<use href="#caPI" stroke="#ffffff" stroke-width="11.8" stroke-dasharray="7 8"/>
<use href="#caLADRC" stroke="#ffffff" stroke-width="13.0" stroke-dasharray="32 7 16 7"/>
<use href="#caSTA" stroke="#ffffff" stroke-width="13.0" stroke-dasharray="34 30" stroke-dashoffset="5.6"/>
<use href="#caISTA" stroke="#ffffff" stroke-width="8.4"/>
<use href="#caPI" stroke="#1b1b1b" stroke-width="6.8" stroke-dasharray="7 8"/>
<use href="#caLADRC" stroke="#1b1b1b" stroke-width="8.0" stroke-dasharray="32 7 16 7"/>
<use href="#caSTA" stroke="#1b1b1b" stroke-width="8.0" stroke-dasharray="34 30" stroke-dashoffset="5.6"/>
<use href="#caISTA" stroke="#1b1b1b" stroke-width="3.4"/>
</g>
<g clip-path="url(#clb)" fill="none" stroke-linejoin="miter" stroke-miterlimit="2.5">
<use href="#cbPI" stroke="#ffffff" stroke-width="11.8" stroke-dasharray="7 8"/>
<use href="#cbLADRC" stroke="#ffffff" stroke-width="13.0" stroke-dasharray="32 7 16 7"/>
<use href="#cbSTA" stroke="#ffffff" stroke-width="13.0" stroke-dasharray="34 30" stroke-dashoffset="31.7"/>
<use href="#cbISTA" stroke="#ffffff" stroke-width="8.4"/>
<use href="#cbPI" stroke="#1b1b1b" stroke-width="6.8" stroke-dasharray="7 8"/>
<use href="#cbLADRC" stroke="#1b1b1b" stroke-width="8.0" stroke-dasharray="32 7 16 7"/>
<use href="#cbSTA" stroke="#1b1b1b" stroke-width="8.0" stroke-dasharray="34 30" stroke-dashoffset="31.7"/>
<use href="#cbISTA" stroke="#1b1b1b" stroke-width="3.4"/>
</g>
<g clip-path="url(#clc)" fill="none" stroke-linejoin="miter" stroke-miterlimit="2.5">
<use href="#ccPI" stroke="#ffffff" stroke-width="11.8" stroke-dasharray="7 8"/>
<use href="#ccLADRC" stroke="#ffffff" stroke-width="13.0" stroke-dasharray="32 7 16 7"/>
<use href="#ccSTA" stroke="#ffffff" stroke-width="13.0" stroke-dasharray="34 30" stroke-dashoffset="56.5"/>
<use href="#ccISTA" stroke="#ffffff" stroke-width="8.4"/>
<use href="#ccPI" stroke="#1b1b1b" stroke-width="6.8" stroke-dasharray="7 8"/>
<use href="#ccLADRC" stroke="#1b1b1b" stroke-width="8.0" stroke-dasharray="32 7 16 7"/>
<use href="#ccSTA" stroke="#1b1b1b" stroke-width="8.0" stroke-dasharray="34 30" stroke-dashoffset="56.5"/>
<use href="#ccISTA" stroke="#1b1b1b" stroke-width="3.4"/>
</g>
<g clip-path="url(#cld)" fill="none" stroke-linejoin="miter" stroke-miterlimit="2.5">
<use href="#cdPI" stroke="#ffffff" stroke-width="11.8" stroke-dasharray="7 8"/>
<use href="#cdLADRC" stroke="#ffffff" stroke-width="13.0" stroke-dasharray="32 7 16 7"/>
<use href="#cdSTA" stroke="#ffffff" stroke-width="13.0" stroke-dasharray="34 30" stroke-dashoffset="22.8"/>
<use href="#cdISTA" stroke="#ffffff" stroke-width="8.4"/>
<use href="#cdPI" stroke="#1b1b1b" stroke-width="6.8" stroke-dasharray="7 8"/>
<use href="#cdLADRC" stroke="#1b1b1b" stroke-width="8.0" stroke-dasharray="32 7 16 7"/>
<use href="#cdSTA" stroke="#1b1b1b" stroke-width="8.0" stroke-dasharray="34 30" stroke-dashoffset="22.8"/>
<use href="#cdISTA" stroke="#1b1b1b" stroke-width="3.4"/>
</g>
<g clip-path="url(#cle)" fill="none" stroke-linejoin="miter" stroke-miterlimit="2.5">
<use href="#cePI" stroke="#ffffff" stroke-width="11.8" stroke-dasharray="7 8"/>
<use href="#ceLADRC" stroke="#ffffff" stroke-width="13.0" stroke-dasharray="32 7 16 7"/>
<use href="#ceSTA" stroke="#ffffff" stroke-width="13.0" stroke-dasharray="34 30" stroke-dashoffset="5.5"/>
<use href="#ceISTA" stroke="#ffffff" stroke-width="8.4"/>
<use href="#cePI" stroke="#1b1b1b" stroke-width="6.8" stroke-dasharray="7 8"/>
<use href="#ceLADRC" stroke="#1b1b1b" stroke-width="8.0" stroke-dasharray="32 7 16 7"/>
<use href="#ceSTA" stroke="#1b1b1b" stroke-width="8.0" stroke-dasharray="34 30" stroke-dashoffset="5.5"/>
<use href="#ceISTA" stroke="#1b1b1b" stroke-width="3.4"/>
</g>
<g clip-path="url(#clf)" fill="none" stroke-linejoin="miter" stroke-miterlimit="2.5">
<use href="#cfPI" stroke="#ffffff" stroke-width="11.8" stroke-dasharray="7 8"/>
<use href="#cfLADRC" stroke="#ffffff" stroke-width="13.0" stroke-dasharray="32 7 16 7"/>
<use href="#cfSTA" stroke="#ffffff" stroke-width="13.0" stroke-dasharray="34 30" stroke-dashoffset="51.2"/>
<use href="#cfISTA" stroke="#ffffff" stroke-width="8.4"/>
<use href="#cfPI" stroke="#1b1b1b" stroke-width="6.8" stroke-dasharray="7 8"/>
<use href="#cfLADRC" stroke="#1b1b1b" stroke-width="8.0" stroke-dasharray="32 7 16 7"/>
<use href="#cfSTA" stroke="#1b1b1b" stroke-width="8.0" stroke-dasharray="34 30" stroke-dashoffset="51.2"/>
<use href="#cfISTA" stroke="#1b1b1b" stroke-width="3.4"/>
</g>
<rect x="545" y="1.5" width="755" height="709.7" fill="none" stroke="#1b1b1b" stroke-width="4.4"/>
<line x1="676" y1="711.2" x2="676" y2="701.6" stroke="#1b1b1b" stroke-width="3.5"/>
<text x="674.00" y="782.50" font-size="63.7" text-anchor="middle">0.20</text>
<line x1="862.2" y1="711.2" x2="862.2" y2="701.6" stroke="#1b1b1b" stroke-width="3.5"/>
<text x="860.20" y="782.50" font-size="63.7" text-anchor="middle">0.25</text>
<line x1="1048.4" y1="711.2" x2="1048.4" y2="701.6" stroke="#1b1b1b" stroke-width="3.5"/>
<text x="1046.40" y="782.50" font-size="63.7" text-anchor="middle">0.30</text>
<line x1="1234.6" y1="711.2" x2="1234.6" y2="701.6" stroke="#1b1b1b" stroke-width="3.5"/>
<text x="1232.60" y="782.50" font-size="63.7" text-anchor="middle">0.35</text>
<line x1="545" y1="107.6" x2="554.6" y2="107.6" stroke="#1b1b1b" stroke-width="3.5"/>
<text x="523.65" y="130.60" font-size="63.7" text-anchor="end">1<tspan dx="-2.5"> </tspan>000</text>
<line x1="545" y1="236" x2="554.6" y2="236" stroke="#1b1b1b" stroke-width="3.5"/>
<text x="523.65" y="259.00" font-size="63.7" text-anchor="end">980</text>
<line x1="545" y1="364.4" x2="554.6" y2="364.4" stroke="#1b1b1b" stroke-width="3.5"/>
<text x="523.65" y="387.40" font-size="63.7" text-anchor="end">960</text>
<line x1="545" y1="492.8" x2="554.6" y2="492.8" stroke="#1b1b1b" stroke-width="3.5"/>
<text x="523.65" y="515.80" font-size="63.7" text-anchor="end">940</text>
<line x1="545" y1="621.2" x2="554.6" y2="621.2" stroke="#1b1b1b" stroke-width="3.5"/>
<text x="523.65" y="644.20" font-size="63.7" text-anchor="end">920</text>
<text x="893.21" y="861" font-size="62.0"><tspan font-style="italic">t</tspan>/s</text>
<text x="722.47" y="946.00" font-size="62.0" text-anchor="start">(a) </text>
<text x="807.59" y="946.00" font-size="62.0" text-anchor="start" textLength="186" font-family='"Liberation Serif", "Noto Serif CJK SC", serif'>负载为</text>
<text x="993.79" y="946.00" font-size="62.0" text-anchor="start">+5<tspan dx="3.5"> </tspan>N</text>
<g transform="translate(368,521.67) rotate(-90)"><text x="0" y="0" font-size="62.0"><tspan font-style="italic">n</tspan>/<tspan font-size="67.0" dy="2">(</tspan><tspan dy="-2">rad·min</tspan><tspan font-size="36.0" dy="-24">−1</tspan><tspan font-size="67.0" dy="26">)</tspan></text></g>
<rect x="1648.4" y="1.5" width="754.5999999999999" height="708.5" fill="none" stroke="#1b1b1b" stroke-width="4.4"/>
<line x1="1680" y1="710" x2="1680" y2="700.4" stroke="#1b1b1b" stroke-width="3.5"/>
<text x="1679.00" y="781.50" font-size="63.7" text-anchor="middle">0.40</text>
<line x1="2007" y1="710" x2="2007" y2="700.4" stroke="#1b1b1b" stroke-width="3.5"/>
<text x="2006.00" y="781.50" font-size="63.7" text-anchor="middle">0.45</text>
<line x1="2333.5" y1="710" x2="2333.5" y2="700.4" stroke="#1b1b1b" stroke-width="3.5"/>
<text x="2332.50" y="781.50" font-size="63.7" text-anchor="middle">0.50</text>
<line x1="1648.4" y1="60" x2="1658.0" y2="60" stroke="#1b1b1b" stroke-width="3.5"/>
<text x="1624.30" y="77.00" font-size="63.7" text-anchor="end">1<tspan dx="-2.5"> </tspan>080</text>
<line x1="1648.4" y1="186" x2="1658.0" y2="186" stroke="#1b1b1b" stroke-width="3.5"/>
<text x="1624.30" y="203.00" font-size="63.7" text-anchor="end">1<tspan dx="-2.5"> </tspan>060</text>
<line x1="1648.4" y1="311.7" x2="1658.0" y2="311.7" stroke="#1b1b1b" stroke-width="3.5"/>
<text x="1624.30" y="328.70" font-size="63.7" text-anchor="end">1<tspan dx="-2.5"> </tspan>040</text>
<line x1="1648.4" y1="437.5" x2="1658.0" y2="437.5" stroke="#1b1b1b" stroke-width="3.5"/>
<text x="1624.30" y="454.50" font-size="63.7" text-anchor="end">1<tspan dx="-2.5"> </tspan>020</text>
<line x1="1648.4" y1="563.3" x2="1658.0" y2="563.3" stroke="#1b1b1b" stroke-width="3.5"/>
<text x="1624.30" y="580.30" font-size="63.7" text-anchor="end">1<tspan dx="-2.5"> </tspan>000</text>
<line x1="1648.4" y1="689" x2="1658.0" y2="689" stroke="#1b1b1b" stroke-width="3.5"/>
<text x="1624.30" y="706.00" font-size="63.7" text-anchor="end">980</text>
<text x="1970.71" y="859.75" font-size="62.0"><tspan font-style="italic">t</tspan>/s</text>
<text x="1798.23" y="946.25" font-size="62.0" text-anchor="start">(b) </text>
<text x="1886.83" y="946.25" font-size="62.0" text-anchor="start" textLength="186" font-family='"Liberation Serif", "Noto Serif CJK SC", serif'>负载为</text>
<text x="2073.03" y="946.25" font-size="62.0" text-anchor="start">−5<tspan dx="3.5"> </tspan>N</text>
<g transform="translate(1447,520.67) rotate(-90)"><text x="0" y="0" font-size="62.0"><tspan font-style="italic">n</tspan>/<tspan font-size="67.0" dy="2">(</tspan><tspan dy="-2">rad·min</tspan><tspan font-size="36.0" dy="-24">−1</tspan><tspan font-size="67.0" dy="26">)</tspan></text></g>
<rect x="2700.5" y="14" width="757.0" height="707.5" fill="none" stroke="#1b1b1b" stroke-width="4.4"/>
<line x1="2763.5" y1="721.5" x2="2763.5" y2="711.9" stroke="#1b1b1b" stroke-width="3.5"/>
<text x="2763.00" y="793.20" font-size="63.7" text-anchor="middle">0.18</text>
<line x1="2896.0" y1="721.5" x2="2896.0" y2="711.9" stroke="#1b1b1b" stroke-width="3.5"/>
<text x="2895.50" y="793.20" font-size="63.7" text-anchor="middle">0.20</text>
<line x1="3028.5" y1="721.5" x2="3028.5" y2="711.9" stroke="#1b1b1b" stroke-width="3.5"/>
<text x="3028.00" y="793.20" font-size="63.7" text-anchor="middle">0.22</text>
<line x1="3161.0" y1="721.5" x2="3161.0" y2="711.9" stroke="#1b1b1b" stroke-width="3.5"/>
<text x="3160.50" y="793.20" font-size="63.7" text-anchor="middle">0.24</text>
<line x1="3293.5" y1="721.5" x2="3293.5" y2="711.9" stroke="#1b1b1b" stroke-width="3.5"/>
<text x="3293.00" y="793.20" font-size="63.7" text-anchor="middle">0.26</text>
<line x1="3426.0" y1="721.5" x2="3426.0" y2="711.9" stroke="#1b1b1b" stroke-width="3.5"/>
<text x="3425.50" y="793.20" font-size="63.7" text-anchor="middle">0.28</text>
<line x1="2700.5" y1="97.5" x2="2710.1" y2="97.5" stroke="#1b1b1b" stroke-width="3.5"/>
<text x="2679.40" y="121.00" font-size="63.7" text-anchor="end">1<tspan dx="-2.5"> </tspan>000</text>
<line x1="2700.5" y1="260" x2="2710.1" y2="260" stroke="#1b1b1b" stroke-width="3.5"/>
<text x="2679.40" y="283.50" font-size="63.7" text-anchor="end">950</text>
<line x1="2700.5" y1="422.5" x2="2710.1" y2="422.5" stroke="#1b1b1b" stroke-width="3.5"/>
<text x="2679.40" y="446.00" font-size="63.7" text-anchor="end">900</text>
<line x1="2700.5" y1="585" x2="2710.1" y2="585" stroke="#1b1b1b" stroke-width="3.5"/>
<text x="2679.40" y="608.50" font-size="63.7" text-anchor="end">850</text>
<text x="3049.71" y="866.3" font-size="62.0"><tspan font-style="italic">t</tspan>/s</text>
<text x="2863.47" y="946.25" font-size="62.0" text-anchor="start">(c) </text>
<text x="2948.59" y="946.25" font-size="62.0" text-anchor="start" textLength="186" font-family='"Liberation Serif", "Noto Serif CJK SC", serif'>负载为</text>
<text x="3134.79" y="946.25" font-size="62.0" text-anchor="start">+10<tspan dx="3.5"> </tspan>N</text>
<g transform="translate(2525.5,525.67) rotate(-90)"><text x="0" y="0" font-size="62.0"><tspan font-style="italic">n</tspan>/<tspan font-size="67.0" dy="2">(</tspan><tspan dy="-2">rad·min</tspan><tspan font-size="36.0" dy="-24">−1</tspan><tspan font-size="67.0" dy="26">)</tspan></text></g>
<rect x="569.5" y="1067.5" width="755.5" height="709.0" fill="none" stroke="#1b1b1b" stroke-width="4.4"/>
<line x1="655" y1="1776.5" x2="655" y2="1766.9" stroke="#1b1b1b" stroke-width="3.5"/>
<text x="656.00" y="1847.20" font-size="63.7" text-anchor="middle">0.40</text>
<line x1="873.7" y1="1776.5" x2="873.7" y2="1766.9" stroke="#1b1b1b" stroke-width="3.5"/>
<text x="874.70" y="1847.20" font-size="63.7" text-anchor="middle">0.45</text>
<line x1="1092.4" y1="1776.5" x2="1092.4" y2="1766.9" stroke="#1b1b1b" stroke-width="3.5"/>
<text x="1093.40" y="1847.20" font-size="63.7" text-anchor="middle">0.50</text>
<line x1="1311" y1="1776.5" x2="1311" y2="1766.9" stroke="#1b1b1b" stroke-width="3.5"/>
<text x="1312.00" y="1847.20" font-size="63.7" text-anchor="middle">0.55</text>
<line x1="569.5" y1="1202.5" x2="579.1" y2="1202.5" stroke="#1b1b1b" stroke-width="3.5"/>
<text x="546.15" y="1223.10" font-size="63.7" text-anchor="end">1<tspan dx="-2.5"> </tspan>150</text>
<line x1="569.5" y1="1366.2" x2="579.1" y2="1366.2" stroke="#1b1b1b" stroke-width="3.5"/>
<text x="546.15" y="1386.80" font-size="63.7" text-anchor="end">1<tspan dx="-2.5"> </tspan>100</text>
<line x1="569.5" y1="1529.8" x2="579.1" y2="1529.8" stroke="#1b1b1b" stroke-width="3.5"/>
<text x="546.15" y="1550.40" font-size="63.7" text-anchor="end">1<tspan dx="-2.5"> </tspan>050</text>
<line x1="569.5" y1="1693.5" x2="579.1" y2="1693.5" stroke="#1b1b1b" stroke-width="3.5"/>
<text x="546.15" y="1714.10" font-size="63.7" text-anchor="end">1<tspan dx="-2.5"> </tspan>000</text>
<text x="893.21" y="1921" font-size="62.0"><tspan font-style="italic">t</tspan>/s</text>
<text x="705.23" y="2006.20" font-size="62.0" text-anchor="start">(d) </text>
<text x="793.83" y="2006.20" font-size="62.0" text-anchor="start" textLength="186" font-family='"Liberation Serif", "Noto Serif CJK SC", serif'>负载为</text>
<text x="980.03" y="2006.20" font-size="62.0" text-anchor="start">−10<tspan dx="3.5"> </tspan>N</text>
<g transform="translate(367,1580.17) rotate(-90)"><text x="0" y="0" font-size="62.0"><tspan font-style="italic">n</tspan>/<tspan font-size="67.0" dy="2">(</tspan><tspan dy="-2">rad·min</tspan><tspan font-size="36.0" dy="-24">−1</tspan><tspan font-size="67.0" dy="26">)</tspan></text></g>
<rect x="1623.2" y="1064.8" width="755.8" height="707.7" fill="none" stroke="#1b1b1b" stroke-width="4.4"/>
<line x1="1757.5" y1="1772.5" x2="1757.5" y2="1762.9" stroke="#1b1b1b" stroke-width="3.5"/>
<text x="1757.00" y="1842.50" font-size="63.7" text-anchor="middle">0.20</text>
<line x1="1947.2" y1="1772.5" x2="1947.2" y2="1762.9" stroke="#1b1b1b" stroke-width="3.5"/>
<text x="1946.70" y="1842.50" font-size="63.7" text-anchor="middle">0.25</text>
<line x1="2137" y1="1772.5" x2="2137" y2="1762.9" stroke="#1b1b1b" stroke-width="3.5"/>
<text x="2136.50" y="1842.50" font-size="63.7" text-anchor="middle">0.30</text>
<line x1="2326.6" y1="1772.5" x2="2326.6" y2="1762.9" stroke="#1b1b1b" stroke-width="3.5"/>
<text x="2326.10" y="1842.50" font-size="63.7" text-anchor="middle">0.35</text>
<line x1="1623.2" y1="1130" x2="1632.8" y2="1130" stroke="#1b1b1b" stroke-width="3.5"/>
<text x="1601.10" y="1156.20" font-size="63.7" text-anchor="end">1<tspan dx="-2.5"> </tspan>000</text>
<line x1="1623.2" y1="1373.7" x2="1632.8" y2="1373.7" stroke="#1b1b1b" stroke-width="3.5"/>
<text x="1601.10" y="1397.00" font-size="63.7" text-anchor="end">800</text>
<line x1="1623.2" y1="1618.2" x2="1632.8" y2="1618.2" stroke="#1b1b1b" stroke-width="3.5"/>
<text x="1601.10" y="1642.40" font-size="63.7" text-anchor="end">600</text>
<text x="1970.71" y="1919.8" font-size="62.0"><tspan font-style="italic">t</tspan>/s</text>
<text x="1784.47" y="2003.60" font-size="62.0" text-anchor="start">(e) </text>
<text x="1869.59" y="2003.60" font-size="62.0" text-anchor="start" textLength="186" font-family='"Liberation Serif", "Noto Serif CJK SC", serif'>负载为</text>
<text x="2055.79" y="2003.60" font-size="62.0" text-anchor="start">+25<tspan dx="3.5"> </tspan>N</text>
<g transform="translate(1445.5,1579.67) rotate(-90)"><text x="0" y="0" font-size="62.0"><tspan font-style="italic">n</tspan>/<tspan font-size="67.0" dy="2">(</tspan><tspan dy="-2">rad·min</tspan><tspan font-size="36.0" dy="-24">−1</tspan><tspan font-size="67.0" dy="26">)</tspan></text></g>
<rect x="2725.5" y="1064.8" width="756.5" height="708.2" fill="none" stroke="#1b1b1b" stroke-width="4.4"/>
<line x1="2851.5" y1="1773" x2="2851.5" y2="1763.4" stroke="#1b1b1b" stroke-width="3.5"/>
<text x="2851.00" y="1842.70" font-size="63.7" text-anchor="middle">0.40</text>
<line x1="3024" y1="1773" x2="3024" y2="1763.4" stroke="#1b1b1b" stroke-width="3.5"/>
<text x="3023.50" y="1842.70" font-size="63.7" text-anchor="middle">0.45</text>
<line x1="3196.4" y1="1773" x2="3196.4" y2="1763.4" stroke="#1b1b1b" stroke-width="3.5"/>
<text x="3195.90" y="1842.70" font-size="63.7" text-anchor="middle">0.50</text>
<line x1="3368.8" y1="1773" x2="3368.8" y2="1763.4" stroke="#1b1b1b" stroke-width="3.5"/>
<text x="3368.30" y="1842.70" font-size="63.7" text-anchor="middle">0.55</text>
<line x1="2725.5" y1="1214" x2="2735.1" y2="1214" stroke="#1b1b1b" stroke-width="3.5"/>
<text x="2702.90" y="1234.40" font-size="63.7" text-anchor="end">1<tspan dx="-2.5"> </tspan>400</text>
<line x1="2725.5" y1="1474" x2="2735.1" y2="1474" stroke="#1b1b1b" stroke-width="3.5"/>
<text x="2702.90" y="1494.40" font-size="63.7" text-anchor="end">1<tspan dx="-2.5"> </tspan>200</text>
<line x1="2725.5" y1="1734" x2="2735.1" y2="1734" stroke="#1b1b1b" stroke-width="3.5"/>
<text x="2702.90" y="1754.40" font-size="63.7" text-anchor="end">1<tspan dx="-2.5"> </tspan>000</text>
<text x="3049.71" y="1919.8" font-size="62.0"><tspan font-style="italic">t</tspan>/s</text>
<text x="2866.91" y="2003.60" font-size="62.0" text-anchor="start">(f) </text>
<text x="2945.15" y="2003.60" font-size="62.0" text-anchor="start" textLength="186" font-family='"Liberation Serif", "Noto Serif CJK SC", serif'>负载为</text>
<text x="3131.35" y="2003.60" font-size="62.0" text-anchor="start">−25<tspan dx="3.5"> </tspan>N</text>
<g transform="translate(2524.5,1579.87) rotate(-90)"><text x="0" y="0" font-size="62.0"><tspan font-style="italic">n</tspan>/<tspan font-size="67.0" dy="2">(</tspan><tspan dy="-2">rad·min</tspan><tspan font-size="36.0" dy="-24">−1</tspan><tspan font-size="67.0" dy="26">)</tspan></text></g>
<line x1="1182.5" y1="2072.75" x2="1304" y2="2072.75" stroke="#1b1b1b" stroke-width="5.5" stroke-dasharray="4.5 3.25"/>
<text x="1308.00" y="2092.75" font-size="62.0" text-anchor="start">PI</text>
<line x1="1435" y1="2072.75" x2="1555" y2="2072.75" stroke="#1b1b1b" stroke-width="6" stroke-dasharray="19 6 8 6"/>
<text x="1559.00" y="2092.75" font-size="62.0" text-anchor="start">LADRC</text>
<line x1="1848.5" y1="2072.75" x2="1969" y2="2072.75" stroke="#1b1b1b" stroke-width="6" stroke-dasharray="19.5 18.5 19.5 18.5 19.5 18.5 5 100"/>
<text x="1975.00" y="2092.75" font-size="62.0" text-anchor="start">STA-ADRC</text>
<line x1="2352" y1="2072.75" x2="2472" y2="2072.75" stroke="#1b1b1b" stroke-width="4.5"/>
<text x="2477.00" y="2092.75" font-size="62.0" text-anchor="start">ISTA-ADRC</text>
</svg></body></html>
